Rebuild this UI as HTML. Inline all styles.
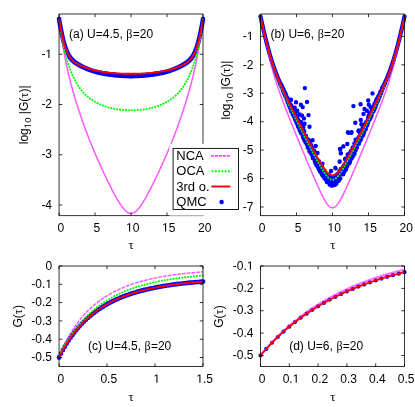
<!DOCTYPE html><html><head><meta charset="utf-8"><style>html,body{margin:0;padding:0;background:#fff}</style></head><body><svg width="415" height="407" viewBox="0 0 415 407" style="display:block;will-change:transform;font-family:'Liberation Sans',sans-serif;font-size:12px">
<rect width="415" height="407" fill="#fff"/>
<path d="M56.65 19.19a2.4 2.4 0 1 0 4.8 0a2.4 2.4 0 1 0 -4.8 0M56.94 20.85a2.4 2.4 0 1 0 4.8 0a2.4 2.4 0 1 0 -4.8 0M57.23 22.47a2.4 2.4 0 1 0 4.8 0a2.4 2.4 0 1 0 -4.8 0M57.51 24.07a2.4 2.4 0 1 0 4.8 0a2.4 2.4 0 1 0 -4.8 0M57.8 25.64a2.4 2.4 0 1 0 4.8 0a2.4 2.4 0 1 0 -4.8 0M58.09 27.18a2.4 2.4 0 1 0 4.8 0a2.4 2.4 0 1 0 -4.8 0M58.38 28.68a2.4 2.4 0 1 0 4.8 0a2.4 2.4 0 1 0 -4.8 0M58.67 30.15a2.4 2.4 0 1 0 4.8 0a2.4 2.4 0 1 0 -4.8 0M58.95 31.58a2.4 2.4 0 1 0 4.8 0a2.4 2.4 0 1 0 -4.8 0M59.24 32.98a2.4 2.4 0 1 0 4.8 0a2.4 2.4 0 1 0 -4.8 0M59.53 34.33a2.4 2.4 0 1 0 4.8 0a2.4 2.4 0 1 0 -4.8 0M59.82 35.66a2.4 2.4 0 1 0 4.8 0a2.4 2.4 0 1 0 -4.8 0M60.1 36.94a2.4 2.4 0 1 0 4.8 0a2.4 2.4 0 1 0 -4.8 0M60.39 38.18a2.4 2.4 0 1 0 4.8 0a2.4 2.4 0 1 0 -4.8 0M60.68 39.38a2.4 2.4 0 1 0 4.8 0a2.4 2.4 0 1 0 -4.8 0M60.97 40.55a2.4 2.4 0 1 0 4.8 0a2.4 2.4 0 1 0 -4.8 0M61.26 41.67a2.4 2.4 0 1 0 4.8 0a2.4 2.4 0 1 0 -4.8 0M61.54 42.75a2.4 2.4 0 1 0 4.8 0a2.4 2.4 0 1 0 -4.8 0M61.83 43.8a2.4 2.4 0 1 0 4.8 0a2.4 2.4 0 1 0 -4.8 0M62.12 44.8a2.4 2.4 0 1 0 4.8 0a2.4 2.4 0 1 0 -4.8 0M62.41 45.76a2.4 2.4 0 1 0 4.8 0a2.4 2.4 0 1 0 -4.8 0M62.7 46.69a2.4 2.4 0 1 0 4.8 0a2.4 2.4 0 1 0 -4.8 0M62.98 47.58a2.4 2.4 0 1 0 4.8 0a2.4 2.4 0 1 0 -4.8 0M63.27 48.43a2.4 2.4 0 1 0 4.8 0a2.4 2.4 0 1 0 -4.8 0M63.56 49.24a2.4 2.4 0 1 0 4.8 0a2.4 2.4 0 1 0 -4.8 0M63.85 50.01a2.4 2.4 0 1 0 4.8 0a2.4 2.4 0 1 0 -4.8 0M64.14 50.76a2.4 2.4 0 1 0 4.8 0a2.4 2.4 0 1 0 -4.8 0M64.42 51.46a2.4 2.4 0 1 0 4.8 0a2.4 2.4 0 1 0 -4.8 0M64.71 52.14a2.4 2.4 0 1 0 4.8 0a2.4 2.4 0 1 0 -4.8 0M65 52.79a2.4 2.4 0 1 0 4.8 0a2.4 2.4 0 1 0 -4.8 0M65.29 53.4a2.4 2.4 0 1 0 4.8 0a2.4 2.4 0 1 0 -4.8 0M65.57 53.99a2.4 2.4 0 1 0 4.8 0a2.4 2.4 0 1 0 -4.8 0M65.86 54.54a2.4 2.4 0 1 0 4.8 0a2.4 2.4 0 1 0 -4.8 0M66.15 55.08a2.4 2.4 0 1 0 4.8 0a2.4 2.4 0 1 0 -4.8 0M66.44 55.58a2.4 2.4 0 1 0 4.8 0a2.4 2.4 0 1 0 -4.8 0M66.73 56.07a2.4 2.4 0 1 0 4.8 0a2.4 2.4 0 1 0 -4.8 0M67.01 56.53a2.4 2.4 0 1 0 4.8 0a2.4 2.4 0 1 0 -4.8 0M67.3 56.96a2.4 2.4 0 1 0 4.8 0a2.4 2.4 0 1 0 -4.8 0M67.59 57.38a2.4 2.4 0 1 0 4.8 0a2.4 2.4 0 1 0 -4.8 0M67.88 57.78a2.4 2.4 0 1 0 4.8 0a2.4 2.4 0 1 0 -4.8 0M68.17 58.17a2.4 2.4 0 1 0 4.8 0a2.4 2.4 0 1 0 -4.8 0M68.45 58.53a2.4 2.4 0 1 0 4.8 0a2.4 2.4 0 1 0 -4.8 0M68.74 58.88a2.4 2.4 0 1 0 4.8 0a2.4 2.4 0 1 0 -4.8 0M69.03 59.21a2.4 2.4 0 1 0 4.8 0a2.4 2.4 0 1 0 -4.8 0M69.32 59.53a2.4 2.4 0 1 0 4.8 0a2.4 2.4 0 1 0 -4.8 0M69.61 59.84a2.4 2.4 0 1 0 4.8 0a2.4 2.4 0 1 0 -4.8 0M69.89 60.14a2.4 2.4 0 1 0 4.8 0a2.4 2.4 0 1 0 -4.8 0M70.18 60.42a2.4 2.4 0 1 0 4.8 0a2.4 2.4 0 1 0 -4.8 0M70.47 60.69a2.4 2.4 0 1 0 4.8 0a2.4 2.4 0 1 0 -4.8 0M70.76 60.95a2.4 2.4 0 1 0 4.8 0a2.4 2.4 0 1 0 -4.8 0M71.04 61.2a2.4 2.4 0 1 0 4.8 0a2.4 2.4 0 1 0 -4.8 0M71.33 61.45a2.4 2.4 0 1 0 4.8 0a2.4 2.4 0 1 0 -4.8 0M71.62 61.68a2.4 2.4 0 1 0 4.8 0a2.4 2.4 0 1 0 -4.8 0M71.91 61.91a2.4 2.4 0 1 0 4.8 0a2.4 2.4 0 1 0 -4.8 0M72.2 62.13a2.4 2.4 0 1 0 4.8 0a2.4 2.4 0 1 0 -4.8 0M72.48 62.34a2.4 2.4 0 1 0 4.8 0a2.4 2.4 0 1 0 -4.8 0M72.77 62.55a2.4 2.4 0 1 0 4.8 0a2.4 2.4 0 1 0 -4.8 0M73.06 62.75a2.4 2.4 0 1 0 4.8 0a2.4 2.4 0 1 0 -4.8 0M73.35 62.94a2.4 2.4 0 1 0 4.8 0a2.4 2.4 0 1 0 -4.8 0M73.64 63.13a2.4 2.4 0 1 0 4.8 0a2.4 2.4 0 1 0 -4.8 0M73.92 63.31a2.4 2.4 0 1 0 4.8 0a2.4 2.4 0 1 0 -4.8 0M74.21 63.49a2.4 2.4 0 1 0 4.8 0a2.4 2.4 0 1 0 -4.8 0M74.5 63.67a2.4 2.4 0 1 0 4.8 0a2.4 2.4 0 1 0 -4.8 0M74.79 63.85a2.4 2.4 0 1 0 4.8 0a2.4 2.4 0 1 0 -4.8 0M75.08 64.03a2.4 2.4 0 1 0 4.8 0a2.4 2.4 0 1 0 -4.8 0M75.36 64.22a2.4 2.4 0 1 0 4.8 0a2.4 2.4 0 1 0 -4.8 0M75.65 64.4a2.4 2.4 0 1 0 4.8 0a2.4 2.4 0 1 0 -4.8 0M75.94 64.57a2.4 2.4 0 1 0 4.8 0a2.4 2.4 0 1 0 -4.8 0M76.23 64.74a2.4 2.4 0 1 0 4.8 0a2.4 2.4 0 1 0 -4.8 0M76.52 64.91a2.4 2.4 0 1 0 4.8 0a2.4 2.4 0 1 0 -4.8 0M76.8 65.08a2.4 2.4 0 1 0 4.8 0a2.4 2.4 0 1 0 -4.8 0M77.09 65.24a2.4 2.4 0 1 0 4.8 0a2.4 2.4 0 1 0 -4.8 0M77.38 65.41a2.4 2.4 0 1 0 4.8 0a2.4 2.4 0 1 0 -4.8 0M77.67 65.56a2.4 2.4 0 1 0 4.8 0a2.4 2.4 0 1 0 -4.8 0M77.95 65.72a2.4 2.4 0 1 0 4.8 0a2.4 2.4 0 1 0 -4.8 0M78.24 65.88a2.4 2.4 0 1 0 4.8 0a2.4 2.4 0 1 0 -4.8 0M78.53 66.03a2.4 2.4 0 1 0 4.8 0a2.4 2.4 0 1 0 -4.8 0M78.82 66.18a2.4 2.4 0 1 0 4.8 0a2.4 2.4 0 1 0 -4.8 0M79.11 66.32a2.4 2.4 0 1 0 4.8 0a2.4 2.4 0 1 0 -4.8 0M79.39 66.47a2.4 2.4 0 1 0 4.8 0a2.4 2.4 0 1 0 -4.8 0M79.68 66.61a2.4 2.4 0 1 0 4.8 0a2.4 2.4 0 1 0 -4.8 0M79.97 66.76a2.4 2.4 0 1 0 4.8 0a2.4 2.4 0 1 0 -4.8 0M80.26 66.9a2.4 2.4 0 1 0 4.8 0a2.4 2.4 0 1 0 -4.8 0M80.55 67.03a2.4 2.4 0 1 0 4.8 0a2.4 2.4 0 1 0 -4.8 0M80.83 67.17a2.4 2.4 0 1 0 4.8 0a2.4 2.4 0 1 0 -4.8 0M81.12 67.3a2.4 2.4 0 1 0 4.8 0a2.4 2.4 0 1 0 -4.8 0M81.41 67.44a2.4 2.4 0 1 0 4.8 0a2.4 2.4 0 1 0 -4.8 0M81.7 67.57a2.4 2.4 0 1 0 4.8 0a2.4 2.4 0 1 0 -4.8 0M81.99 67.7a2.4 2.4 0 1 0 4.8 0a2.4 2.4 0 1 0 -4.8 0M82.27 67.83a2.4 2.4 0 1 0 4.8 0a2.4 2.4 0 1 0 -4.8 0M82.56 67.96a2.4 2.4 0 1 0 4.8 0a2.4 2.4 0 1 0 -4.8 0M82.85 68.08a2.4 2.4 0 1 0 4.8 0a2.4 2.4 0 1 0 -4.8 0M83.14 68.21a2.4 2.4 0 1 0 4.8 0a2.4 2.4 0 1 0 -4.8 0M83.42 68.33a2.4 2.4 0 1 0 4.8 0a2.4 2.4 0 1 0 -4.8 0M83.71 68.45a2.4 2.4 0 1 0 4.8 0a2.4 2.4 0 1 0 -4.8 0M84 68.57a2.4 2.4 0 1 0 4.8 0a2.4 2.4 0 1 0 -4.8 0M84.29 68.69a2.4 2.4 0 1 0 4.8 0a2.4 2.4 0 1 0 -4.8 0M84.58 68.81a2.4 2.4 0 1 0 4.8 0a2.4 2.4 0 1 0 -4.8 0M84.86 68.92a2.4 2.4 0 1 0 4.8 0a2.4 2.4 0 1 0 -4.8 0M85.15 69.04a2.4 2.4 0 1 0 4.8 0a2.4 2.4 0 1 0 -4.8 0M85.44 69.15a2.4 2.4 0 1 0 4.8 0a2.4 2.4 0 1 0 -4.8 0M85.73 69.27a2.4 2.4 0 1 0 4.8 0a2.4 2.4 0 1 0 -4.8 0M86.02 69.38a2.4 2.4 0 1 0 4.8 0a2.4 2.4 0 1 0 -4.8 0M86.3 69.49a2.4 2.4 0 1 0 4.8 0a2.4 2.4 0 1 0 -4.8 0M86.59 69.6a2.4 2.4 0 1 0 4.8 0a2.4 2.4 0 1 0 -4.8 0M86.88 69.71a2.4 2.4 0 1 0 4.8 0a2.4 2.4 0 1 0 -4.8 0M87.17 69.81a2.4 2.4 0 1 0 4.8 0a2.4 2.4 0 1 0 -4.8 0M87.46 69.92a2.4 2.4 0 1 0 4.8 0a2.4 2.4 0 1 0 -4.8 0M87.74 70.02a2.4 2.4 0 1 0 4.8 0a2.4 2.4 0 1 0 -4.8 0M88.03 70.13a2.4 2.4 0 1 0 4.8 0a2.4 2.4 0 1 0 -4.8 0M88.32 70.23a2.4 2.4 0 1 0 4.8 0a2.4 2.4 0 1 0 -4.8 0M88.61 70.33a2.4 2.4 0 1 0 4.8 0a2.4 2.4 0 1 0 -4.8 0M88.89 70.43a2.4 2.4 0 1 0 4.8 0a2.4 2.4 0 1 0 -4.8 0M89.18 70.53a2.4 2.4 0 1 0 4.8 0a2.4 2.4 0 1 0 -4.8 0M89.47 70.63a2.4 2.4 0 1 0 4.8 0a2.4 2.4 0 1 0 -4.8 0M89.76 70.73a2.4 2.4 0 1 0 4.8 0a2.4 2.4 0 1 0 -4.8 0M90.05 70.83a2.4 2.4 0 1 0 4.8 0a2.4 2.4 0 1 0 -4.8 0M90.33 70.92a2.4 2.4 0 1 0 4.8 0a2.4 2.4 0 1 0 -4.8 0M90.62 71.02a2.4 2.4 0 1 0 4.8 0a2.4 2.4 0 1 0 -4.8 0M90.91 71.11a2.4 2.4 0 1 0 4.8 0a2.4 2.4 0 1 0 -4.8 0M91.2 71.2a2.4 2.4 0 1 0 4.8 0a2.4 2.4 0 1 0 -4.8 0M91.49 71.3a2.4 2.4 0 1 0 4.8 0a2.4 2.4 0 1 0 -4.8 0M91.77 71.39a2.4 2.4 0 1 0 4.8 0a2.4 2.4 0 1 0 -4.8 0M92.06 71.47a2.4 2.4 0 1 0 4.8 0a2.4 2.4 0 1 0 -4.8 0M92.35 71.55a2.4 2.4 0 1 0 4.8 0a2.4 2.4 0 1 0 -4.8 0M92.64 71.63a2.4 2.4 0 1 0 4.8 0a2.4 2.4 0 1 0 -4.8 0M92.93 71.7a2.4 2.4 0 1 0 4.8 0a2.4 2.4 0 1 0 -4.8 0M93.21 71.78a2.4 2.4 0 1 0 4.8 0a2.4 2.4 0 1 0 -4.8 0M93.5 71.85a2.4 2.4 0 1 0 4.8 0a2.4 2.4 0 1 0 -4.8 0M93.79 71.93a2.4 2.4 0 1 0 4.8 0a2.4 2.4 0 1 0 -4.8 0M94.08 72a2.4 2.4 0 1 0 4.8 0a2.4 2.4 0 1 0 -4.8 0M94.36 72.07a2.4 2.4 0 1 0 4.8 0a2.4 2.4 0 1 0 -4.8 0M94.65 72.14a2.4 2.4 0 1 0 4.8 0a2.4 2.4 0 1 0 -4.8 0M94.94 72.21a2.4 2.4 0 1 0 4.8 0a2.4 2.4 0 1 0 -4.8 0M95.23 72.28a2.4 2.4 0 1 0 4.8 0a2.4 2.4 0 1 0 -4.8 0M95.52 72.35a2.4 2.4 0 1 0 4.8 0a2.4 2.4 0 1 0 -4.8 0M95.8 72.42a2.4 2.4 0 1 0 4.8 0a2.4 2.4 0 1 0 -4.8 0M96.09 72.49a2.4 2.4 0 1 0 4.8 0a2.4 2.4 0 1 0 -4.8 0M96.38 72.55a2.4 2.4 0 1 0 4.8 0a2.4 2.4 0 1 0 -4.8 0M96.67 72.62a2.4 2.4 0 1 0 4.8 0a2.4 2.4 0 1 0 -4.8 0M96.96 72.68a2.4 2.4 0 1 0 4.8 0a2.4 2.4 0 1 0 -4.8 0M97.24 72.75a2.4 2.4 0 1 0 4.8 0a2.4 2.4 0 1 0 -4.8 0M97.53 72.81a2.4 2.4 0 1 0 4.8 0a2.4 2.4 0 1 0 -4.8 0M97.82 72.87a2.4 2.4 0 1 0 4.8 0a2.4 2.4 0 1 0 -4.8 0M98.11 72.93a2.4 2.4 0 1 0 4.8 0a2.4 2.4 0 1 0 -4.8 0M98.4 72.99a2.4 2.4 0 1 0 4.8 0a2.4 2.4 0 1 0 -4.8 0M98.68 73.05a2.4 2.4 0 1 0 4.8 0a2.4 2.4 0 1 0 -4.8 0M98.97 73.11a2.4 2.4 0 1 0 4.8 0a2.4 2.4 0 1 0 -4.8 0M99.26 73.17a2.4 2.4 0 1 0 4.8 0a2.4 2.4 0 1 0 -4.8 0M99.55 73.22a2.4 2.4 0 1 0 4.8 0a2.4 2.4 0 1 0 -4.8 0M99.83 73.28a2.4 2.4 0 1 0 4.8 0a2.4 2.4 0 1 0 -4.8 0M100.12 73.33a2.4 2.4 0 1 0 4.8 0a2.4 2.4 0 1 0 -4.8 0M100.41 73.39a2.4 2.4 0 1 0 4.8 0a2.4 2.4 0 1 0 -4.8 0M100.7 73.44a2.4 2.4 0 1 0 4.8 0a2.4 2.4 0 1 0 -4.8 0M100.99 73.49a2.4 2.4 0 1 0 4.8 0a2.4 2.4 0 1 0 -4.8 0M101.27 73.54a2.4 2.4 0 1 0 4.8 0a2.4 2.4 0 1 0 -4.8 0M101.56 73.6a2.4 2.4 0 1 0 4.8 0a2.4 2.4 0 1 0 -4.8 0M101.85 73.65a2.4 2.4 0 1 0 4.8 0a2.4 2.4 0 1 0 -4.8 0M102.14 73.7a2.4 2.4 0 1 0 4.8 0a2.4 2.4 0 1 0 -4.8 0M102.43 73.75a2.4 2.4 0 1 0 4.8 0a2.4 2.4 0 1 0 -4.8 0M102.71 73.8a2.4 2.4 0 1 0 4.8 0a2.4 2.4 0 1 0 -4.8 0M103 73.84a2.4 2.4 0 1 0 4.8 0a2.4 2.4 0 1 0 -4.8 0M103.29 73.89a2.4 2.4 0 1 0 4.8 0a2.4 2.4 0 1 0 -4.8 0M103.58 73.94a2.4 2.4 0 1 0 4.8 0a2.4 2.4 0 1 0 -4.8 0M103.87 73.98a2.4 2.4 0 1 0 4.8 0a2.4 2.4 0 1 0 -4.8 0M104.15 74.03a2.4 2.4 0 1 0 4.8 0a2.4 2.4 0 1 0 -4.8 0M104.44 74.07a2.4 2.4 0 1 0 4.8 0a2.4 2.4 0 1 0 -4.8 0M104.73 74.12a2.4 2.4 0 1 0 4.8 0a2.4 2.4 0 1 0 -4.8 0M105.02 74.16a2.4 2.4 0 1 0 4.8 0a2.4 2.4 0 1 0 -4.8 0M105.31 74.21a2.4 2.4 0 1 0 4.8 0a2.4 2.4 0 1 0 -4.8 0M105.59 74.25a2.4 2.4 0 1 0 4.8 0a2.4 2.4 0 1 0 -4.8 0M105.88 74.29a2.4 2.4 0 1 0 4.8 0a2.4 2.4 0 1 0 -4.8 0M106.17 74.33a2.4 2.4 0 1 0 4.8 0a2.4 2.4 0 1 0 -4.8 0M106.46 74.37a2.4 2.4 0 1 0 4.8 0a2.4 2.4 0 1 0 -4.8 0M106.74 74.41a2.4 2.4 0 1 0 4.8 0a2.4 2.4 0 1 0 -4.8 0M107.03 74.45a2.4 2.4 0 1 0 4.8 0a2.4 2.4 0 1 0 -4.8 0M107.32 74.49a2.4 2.4 0 1 0 4.8 0a2.4 2.4 0 1 0 -4.8 0M107.61 74.53a2.4 2.4 0 1 0 4.8 0a2.4 2.4 0 1 0 -4.8 0M107.9 74.57a2.4 2.4 0 1 0 4.8 0a2.4 2.4 0 1 0 -4.8 0M108.18 74.61a2.4 2.4 0 1 0 4.8 0a2.4 2.4 0 1 0 -4.8 0M108.47 74.65a2.4 2.4 0 1 0 4.8 0a2.4 2.4 0 1 0 -4.8 0M108.76 74.68a2.4 2.4 0 1 0 4.8 0a2.4 2.4 0 1 0 -4.8 0M109.05 74.72a2.4 2.4 0 1 0 4.8 0a2.4 2.4 0 1 0 -4.8 0M109.34 74.75a2.4 2.4 0 1 0 4.8 0a2.4 2.4 0 1 0 -4.8 0M109.62 74.79a2.4 2.4 0 1 0 4.8 0a2.4 2.4 0 1 0 -4.8 0M109.91 74.82a2.4 2.4 0 1 0 4.8 0a2.4 2.4 0 1 0 -4.8 0M110.2 74.86a2.4 2.4 0 1 0 4.8 0a2.4 2.4 0 1 0 -4.8 0M110.49 74.89a2.4 2.4 0 1 0 4.8 0a2.4 2.4 0 1 0 -4.8 0M110.78 74.92a2.4 2.4 0 1 0 4.8 0a2.4 2.4 0 1 0 -4.8 0M111.06 74.96a2.4 2.4 0 1 0 4.8 0a2.4 2.4 0 1 0 -4.8 0M111.35 74.99a2.4 2.4 0 1 0 4.8 0a2.4 2.4 0 1 0 -4.8 0M111.64 75.02a2.4 2.4 0 1 0 4.8 0a2.4 2.4 0 1 0 -4.8 0M111.93 75.05a2.4 2.4 0 1 0 4.8 0a2.4 2.4 0 1 0 -4.8 0M112.21 75.08a2.4 2.4 0 1 0 4.8 0a2.4 2.4 0 1 0 -4.8 0M112.5 75.11a2.4 2.4 0 1 0 4.8 0a2.4 2.4 0 1 0 -4.8 0M112.79 75.14a2.4 2.4 0 1 0 4.8 0a2.4 2.4 0 1 0 -4.8 0M113.08 75.17a2.4 2.4 0 1 0 4.8 0a2.4 2.4 0 1 0 -4.8 0M113.37 75.2a2.4 2.4 0 1 0 4.8 0a2.4 2.4 0 1 0 -4.8 0M113.65 75.23a2.4 2.4 0 1 0 4.8 0a2.4 2.4 0 1 0 -4.8 0M113.94 75.25a2.4 2.4 0 1 0 4.8 0a2.4 2.4 0 1 0 -4.8 0M114.23 75.28a2.4 2.4 0 1 0 4.8 0a2.4 2.4 0 1 0 -4.8 0M114.52 75.3a2.4 2.4 0 1 0 4.8 0a2.4 2.4 0 1 0 -4.8 0M114.81 75.33a2.4 2.4 0 1 0 4.8 0a2.4 2.4 0 1 0 -4.8 0M115.09 75.35a2.4 2.4 0 1 0 4.8 0a2.4 2.4 0 1 0 -4.8 0M115.38 75.38a2.4 2.4 0 1 0 4.8 0a2.4 2.4 0 1 0 -4.8 0M115.67 75.4a2.4 2.4 0 1 0 4.8 0a2.4 2.4 0 1 0 -4.8 0M115.96 75.42a2.4 2.4 0 1 0 4.8 0a2.4 2.4 0 1 0 -4.8 0M116.25 75.44a2.4 2.4 0 1 0 4.8 0a2.4 2.4 0 1 0 -4.8 0M116.53 75.46a2.4 2.4 0 1 0 4.8 0a2.4 2.4 0 1 0 -4.8 0M116.82 75.49a2.4 2.4 0 1 0 4.8 0a2.4 2.4 0 1 0 -4.8 0M117.11 75.51a2.4 2.4 0 1 0 4.8 0a2.4 2.4 0 1 0 -4.8 0M117.4 75.53a2.4 2.4 0 1 0 4.8 0a2.4 2.4 0 1 0 -4.8 0M117.68 75.55a2.4 2.4 0 1 0 4.8 0a2.4 2.4 0 1 0 -4.8 0M117.97 75.57a2.4 2.4 0 1 0 4.8 0a2.4 2.4 0 1 0 -4.8 0M118.26 75.59a2.4 2.4 0 1 0 4.8 0a2.4 2.4 0 1 0 -4.8 0M118.55 75.6a2.4 2.4 0 1 0 4.8 0a2.4 2.4 0 1 0 -4.8 0M118.84 75.62a2.4 2.4 0 1 0 4.8 0a2.4 2.4 0 1 0 -4.8 0M119.12 75.64a2.4 2.4 0 1 0 4.8 0a2.4 2.4 0 1 0 -4.8 0M119.41 75.66a2.4 2.4 0 1 0 4.8 0a2.4 2.4 0 1 0 -4.8 0M119.7 75.68a2.4 2.4 0 1 0 4.8 0a2.4 2.4 0 1 0 -4.8 0M119.99 75.69a2.4 2.4 0 1 0 4.8 0a2.4 2.4 0 1 0 -4.8 0M120.28 75.71a2.4 2.4 0 1 0 4.8 0a2.4 2.4 0 1 0 -4.8 0M120.56 75.72a2.4 2.4 0 1 0 4.8 0a2.4 2.4 0 1 0 -4.8 0M120.85 75.74a2.4 2.4 0 1 0 4.8 0a2.4 2.4 0 1 0 -4.8 0M121.14 75.76a2.4 2.4 0 1 0 4.8 0a2.4 2.4 0 1 0 -4.8 0M121.43 75.77a2.4 2.4 0 1 0 4.8 0a2.4 2.4 0 1 0 -4.8 0M121.72 75.79a2.4 2.4 0 1 0 4.8 0a2.4 2.4 0 1 0 -4.8 0M122 75.8a2.4 2.4 0 1 0 4.8 0a2.4 2.4 0 1 0 -4.8 0M122.29 75.81a2.4 2.4 0 1 0 4.8 0a2.4 2.4 0 1 0 -4.8 0M122.58 75.83a2.4 2.4 0 1 0 4.8 0a2.4 2.4 0 1 0 -4.8 0M122.87 75.84a2.4 2.4 0 1 0 4.8 0a2.4 2.4 0 1 0 -4.8 0M123.15 75.85a2.4 2.4 0 1 0 4.8 0a2.4 2.4 0 1 0 -4.8 0M123.44 75.86a2.4 2.4 0 1 0 4.8 0a2.4 2.4 0 1 0 -4.8 0M123.73 75.88a2.4 2.4 0 1 0 4.8 0a2.4 2.4 0 1 0 -4.8 0M124.02 75.89a2.4 2.4 0 1 0 4.8 0a2.4 2.4 0 1 0 -4.8 0M124.31 75.9a2.4 2.4 0 1 0 4.8 0a2.4 2.4 0 1 0 -4.8 0M124.59 75.91a2.4 2.4 0 1 0 4.8 0a2.4 2.4 0 1 0 -4.8 0M124.88 75.92a2.4 2.4 0 1 0 4.8 0a2.4 2.4 0 1 0 -4.8 0M125.17 75.93a2.4 2.4 0 1 0 4.8 0a2.4 2.4 0 1 0 -4.8 0M125.46 75.94a2.4 2.4 0 1 0 4.8 0a2.4 2.4 0 1 0 -4.8 0M125.75 75.95a2.4 2.4 0 1 0 4.8 0a2.4 2.4 0 1 0 -4.8 0M126.03 75.96a2.4 2.4 0 1 0 4.8 0a2.4 2.4 0 1 0 -4.8 0M126.32 75.97a2.4 2.4 0 1 0 4.8 0a2.4 2.4 0 1 0 -4.8 0M126.61 75.98a2.4 2.4 0 1 0 4.8 0a2.4 2.4 0 1 0 -4.8 0M126.9 75.98a2.4 2.4 0 1 0 4.8 0a2.4 2.4 0 1 0 -4.8 0M127.19 75.99a2.4 2.4 0 1 0 4.8 0a2.4 2.4 0 1 0 -4.8 0M127.47 76a2.4 2.4 0 1 0 4.8 0a2.4 2.4 0 1 0 -4.8 0M127.76 76.01a2.4 2.4 0 1 0 4.8 0a2.4 2.4 0 1 0 -4.8 0M128.05 76.01a2.4 2.4 0 1 0 4.8 0a2.4 2.4 0 1 0 -4.8 0M128.34 76.02a2.4 2.4 0 1 0 4.8 0a2.4 2.4 0 1 0 -4.8 0M128.62 76.03a2.4 2.4 0 1 0 4.8 0a2.4 2.4 0 1 0 -4.8 0M128.91 76.02a2.4 2.4 0 1 0 4.8 0a2.4 2.4 0 1 0 -4.8 0M129.2 76.01a2.4 2.4 0 1 0 4.8 0a2.4 2.4 0 1 0 -4.8 0M129.49 76.01a2.4 2.4 0 1 0 4.8 0a2.4 2.4 0 1 0 -4.8 0M129.78 76a2.4 2.4 0 1 0 4.8 0a2.4 2.4 0 1 0 -4.8 0M130.06 75.99a2.4 2.4 0 1 0 4.8 0a2.4 2.4 0 1 0 -4.8 0M130.35 75.98a2.4 2.4 0 1 0 4.8 0a2.4 2.4 0 1 0 -4.8 0M130.64 75.98a2.4 2.4 0 1 0 4.8 0a2.4 2.4 0 1 0 -4.8 0M130.93 75.97a2.4 2.4 0 1 0 4.8 0a2.4 2.4 0 1 0 -4.8 0M131.22 75.96a2.4 2.4 0 1 0 4.8 0a2.4 2.4 0 1 0 -4.8 0M131.5 75.95a2.4 2.4 0 1 0 4.8 0a2.4 2.4 0 1 0 -4.8 0M131.79 75.94a2.4 2.4 0 1 0 4.8 0a2.4 2.4 0 1 0 -4.8 0M132.08 75.93a2.4 2.4 0 1 0 4.8 0a2.4 2.4 0 1 0 -4.8 0M132.37 75.92a2.4 2.4 0 1 0 4.8 0a2.4 2.4 0 1 0 -4.8 0M132.66 75.91a2.4 2.4 0 1 0 4.8 0a2.4 2.4 0 1 0 -4.8 0M132.94 75.9a2.4 2.4 0 1 0 4.8 0a2.4 2.4 0 1 0 -4.8 0M133.23 75.89a2.4 2.4 0 1 0 4.8 0a2.4 2.4 0 1 0 -4.8 0M133.52 75.88a2.4 2.4 0 1 0 4.8 0a2.4 2.4 0 1 0 -4.8 0M133.81 75.86a2.4 2.4 0 1 0 4.8 0a2.4 2.4 0 1 0 -4.8 0M134.1 75.85a2.4 2.4 0 1 0 4.8 0a2.4 2.4 0 1 0 -4.8 0M134.38 75.84a2.4 2.4 0 1 0 4.8 0a2.4 2.4 0 1 0 -4.8 0M134.67 75.83a2.4 2.4 0 1 0 4.8 0a2.4 2.4 0 1 0 -4.8 0M134.96 75.81a2.4 2.4 0 1 0 4.8 0a2.4 2.4 0 1 0 -4.8 0M135.25 75.8a2.4 2.4 0 1 0 4.8 0a2.4 2.4 0 1 0 -4.8 0M135.53 75.79a2.4 2.4 0 1 0 4.8 0a2.4 2.4 0 1 0 -4.8 0M135.82 75.77a2.4 2.4 0 1 0 4.8 0a2.4 2.4 0 1 0 -4.8 0M136.11 75.76a2.4 2.4 0 1 0 4.8 0a2.4 2.4 0 1 0 -4.8 0M136.4 75.74a2.4 2.4 0 1 0 4.8 0a2.4 2.4 0 1 0 -4.8 0M136.69 75.72a2.4 2.4 0 1 0 4.8 0a2.4 2.4 0 1 0 -4.8 0M136.97 75.71a2.4 2.4 0 1 0 4.8 0a2.4 2.4 0 1 0 -4.8 0M137.26 75.69a2.4 2.4 0 1 0 4.8 0a2.4 2.4 0 1 0 -4.8 0M137.55 75.68a2.4 2.4 0 1 0 4.8 0a2.4 2.4 0 1 0 -4.8 0M137.84 75.66a2.4 2.4 0 1 0 4.8 0a2.4 2.4 0 1 0 -4.8 0M138.13 75.64a2.4 2.4 0 1 0 4.8 0a2.4 2.4 0 1 0 -4.8 0M138.41 75.62a2.4 2.4 0 1 0 4.8 0a2.4 2.4 0 1 0 -4.8 0M138.7 75.6a2.4 2.4 0 1 0 4.8 0a2.4 2.4 0 1 0 -4.8 0M138.99 75.59a2.4 2.4 0 1 0 4.8 0a2.4 2.4 0 1 0 -4.8 0M139.28 75.57a2.4 2.4 0 1 0 4.8 0a2.4 2.4 0 1 0 -4.8 0M139.57 75.55a2.4 2.4 0 1 0 4.8 0a2.4 2.4 0 1 0 -4.8 0M139.85 75.53a2.4 2.4 0 1 0 4.8 0a2.4 2.4 0 1 0 -4.8 0M140.14 75.51a2.4 2.4 0 1 0 4.8 0a2.4 2.4 0 1 0 -4.8 0M140.43 75.49a2.4 2.4 0 1 0 4.8 0a2.4 2.4 0 1 0 -4.8 0M140.72 75.46a2.4 2.4 0 1 0 4.8 0a2.4 2.4 0 1 0 -4.8 0M141 75.44a2.4 2.4 0 1 0 4.8 0a2.4 2.4 0 1 0 -4.8 0M141.29 75.42a2.4 2.4 0 1 0 4.8 0a2.4 2.4 0 1 0 -4.8 0M141.58 75.4a2.4 2.4 0 1 0 4.8 0a2.4 2.4 0 1 0 -4.8 0M141.87 75.38a2.4 2.4 0 1 0 4.8 0a2.4 2.4 0 1 0 -4.8 0M142.16 75.35a2.4 2.4 0 1 0 4.8 0a2.4 2.4 0 1 0 -4.8 0M142.44 75.33a2.4 2.4 0 1 0 4.8 0a2.4 2.4 0 1 0 -4.8 0M142.73 75.3a2.4 2.4 0 1 0 4.8 0a2.4 2.4 0 1 0 -4.8 0M143.02 75.28a2.4 2.4 0 1 0 4.8 0a2.4 2.4 0 1 0 -4.8 0M143.31 75.25a2.4 2.4 0 1 0 4.8 0a2.4 2.4 0 1 0 -4.8 0M143.6 75.23a2.4 2.4 0 1 0 4.8 0a2.4 2.4 0 1 0 -4.8 0M143.88 75.2a2.4 2.4 0 1 0 4.8 0a2.4 2.4 0 1 0 -4.8 0M144.17 75.17a2.4 2.4 0 1 0 4.8 0a2.4 2.4 0 1 0 -4.8 0M144.46 75.14a2.4 2.4 0 1 0 4.8 0a2.4 2.4 0 1 0 -4.8 0M144.75 75.11a2.4 2.4 0 1 0 4.8 0a2.4 2.4 0 1 0 -4.8 0M145.04 75.08a2.4 2.4 0 1 0 4.8 0a2.4 2.4 0 1 0 -4.8 0M145.32 75.05a2.4 2.4 0 1 0 4.8 0a2.4 2.4 0 1 0 -4.8 0M145.61 75.02a2.4 2.4 0 1 0 4.8 0a2.4 2.4 0 1 0 -4.8 0M145.9 74.99a2.4 2.4 0 1 0 4.8 0a2.4 2.4 0 1 0 -4.8 0M146.19 74.96a2.4 2.4 0 1 0 4.8 0a2.4 2.4 0 1 0 -4.8 0M146.47 74.92a2.4 2.4 0 1 0 4.8 0a2.4 2.4 0 1 0 -4.8 0M146.76 74.89a2.4 2.4 0 1 0 4.8 0a2.4 2.4 0 1 0 -4.8 0M147.05 74.86a2.4 2.4 0 1 0 4.8 0a2.4 2.4 0 1 0 -4.8 0M147.34 74.82a2.4 2.4 0 1 0 4.8 0a2.4 2.4 0 1 0 -4.8 0M147.63 74.79a2.4 2.4 0 1 0 4.8 0a2.4 2.4 0 1 0 -4.8 0M147.91 74.75a2.4 2.4 0 1 0 4.8 0a2.4 2.4 0 1 0 -4.8 0M148.2 74.72a2.4 2.4 0 1 0 4.8 0a2.4 2.4 0 1 0 -4.8 0M148.49 74.68a2.4 2.4 0 1 0 4.8 0a2.4 2.4 0 1 0 -4.8 0M148.78 74.65a2.4 2.4 0 1 0 4.8 0a2.4 2.4 0 1 0 -4.8 0M149.07 74.61a2.4 2.4 0 1 0 4.8 0a2.4 2.4 0 1 0 -4.8 0M149.35 74.57a2.4 2.4 0 1 0 4.8 0a2.4 2.4 0 1 0 -4.8 0M149.64 74.53a2.4 2.4 0 1 0 4.8 0a2.4 2.4 0 1 0 -4.8 0M149.93 74.49a2.4 2.4 0 1 0 4.8 0a2.4 2.4 0 1 0 -4.8 0M150.22 74.45a2.4 2.4 0 1 0 4.8 0a2.4 2.4 0 1 0 -4.8 0M150.51 74.41a2.4 2.4 0 1 0 4.8 0a2.4 2.4 0 1 0 -4.8 0M150.79 74.37a2.4 2.4 0 1 0 4.8 0a2.4 2.4 0 1 0 -4.8 0M151.08 74.33a2.4 2.4 0 1 0 4.8 0a2.4 2.4 0 1 0 -4.8 0M151.37 74.29a2.4 2.4 0 1 0 4.8 0a2.4 2.4 0 1 0 -4.8 0M151.66 74.25a2.4 2.4 0 1 0 4.8 0a2.4 2.4 0 1 0 -4.8 0M151.94 74.21a2.4 2.4 0 1 0 4.8 0a2.4 2.4 0 1 0 -4.8 0M152.23 74.16a2.4 2.4 0 1 0 4.8 0a2.4 2.4 0 1 0 -4.8 0M152.52 74.12a2.4 2.4 0 1 0 4.8 0a2.4 2.4 0 1 0 -4.8 0M152.81 74.07a2.4 2.4 0 1 0 4.8 0a2.4 2.4 0 1 0 -4.8 0M153.1 74.03a2.4 2.4 0 1 0 4.8 0a2.4 2.4 0 1 0 -4.8 0M153.38 73.98a2.4 2.4 0 1 0 4.8 0a2.4 2.4 0 1 0 -4.8 0M153.67 73.94a2.4 2.4 0 1 0 4.8 0a2.4 2.4 0 1 0 -4.8 0M153.96 73.89a2.4 2.4 0 1 0 4.8 0a2.4 2.4 0 1 0 -4.8 0M154.25 73.84a2.4 2.4 0 1 0 4.8 0a2.4 2.4 0 1 0 -4.8 0M154.54 73.8a2.4 2.4 0 1 0 4.8 0a2.4 2.4 0 1 0 -4.8 0M154.82 73.75a2.4 2.4 0 1 0 4.8 0a2.4 2.4 0 1 0 -4.8 0M155.11 73.7a2.4 2.4 0 1 0 4.8 0a2.4 2.4 0 1 0 -4.8 0M155.4 73.65a2.4 2.4 0 1 0 4.8 0a2.4 2.4 0 1 0 -4.8 0M155.69 73.6a2.4 2.4 0 1 0 4.8 0a2.4 2.4 0 1 0 -4.8 0M155.98 73.54a2.4 2.4 0 1 0 4.8 0a2.4 2.4 0 1 0 -4.8 0M156.26 73.49a2.4 2.4 0 1 0 4.8 0a2.4 2.4 0 1 0 -4.8 0M156.55 73.44a2.4 2.4 0 1 0 4.8 0a2.4 2.4 0 1 0 -4.8 0M156.84 73.39a2.4 2.4 0 1 0 4.8 0a2.4 2.4 0 1 0 -4.8 0M157.13 73.33a2.4 2.4 0 1 0 4.8 0a2.4 2.4 0 1 0 -4.8 0M157.41 73.28a2.4 2.4 0 1 0 4.8 0a2.4 2.4 0 1 0 -4.8 0M157.7 73.22a2.4 2.4 0 1 0 4.8 0a2.4 2.4 0 1 0 -4.8 0M157.99 73.17a2.4 2.4 0 1 0 4.8 0a2.4 2.4 0 1 0 -4.8 0M158.28 73.11a2.4 2.4 0 1 0 4.8 0a2.4 2.4 0 1 0 -4.8 0M158.57 73.05a2.4 2.4 0 1 0 4.8 0a2.4 2.4 0 1 0 -4.8 0M158.85 72.99a2.4 2.4 0 1 0 4.8 0a2.4 2.4 0 1 0 -4.8 0M159.14 72.93a2.4 2.4 0 1 0 4.8 0a2.4 2.4 0 1 0 -4.8 0M159.43 72.87a2.4 2.4 0 1 0 4.8 0a2.4 2.4 0 1 0 -4.8 0M159.72 72.81a2.4 2.4 0 1 0 4.8 0a2.4 2.4 0 1 0 -4.8 0M160.01 72.75a2.4 2.4 0 1 0 4.8 0a2.4 2.4 0 1 0 -4.8 0M160.29 72.68a2.4 2.4 0 1 0 4.8 0a2.4 2.4 0 1 0 -4.8 0M160.58 72.62a2.4 2.4 0 1 0 4.8 0a2.4 2.4 0 1 0 -4.8 0M160.87 72.55a2.4 2.4 0 1 0 4.8 0a2.4 2.4 0 1 0 -4.8 0M161.16 72.49a2.4 2.4 0 1 0 4.8 0a2.4 2.4 0 1 0 -4.8 0M161.45 72.42a2.4 2.4 0 1 0 4.8 0a2.4 2.4 0 1 0 -4.8 0M161.73 72.35a2.4 2.4 0 1 0 4.8 0a2.4 2.4 0 1 0 -4.8 0M162.02 72.28a2.4 2.4 0 1 0 4.8 0a2.4 2.4 0 1 0 -4.8 0M162.31 72.21a2.4 2.4 0 1 0 4.8 0a2.4 2.4 0 1 0 -4.8 0M162.6 72.14a2.4 2.4 0 1 0 4.8 0a2.4 2.4 0 1 0 -4.8 0M162.89 72.07a2.4 2.4 0 1 0 4.8 0a2.4 2.4 0 1 0 -4.8 0M163.17 72a2.4 2.4 0 1 0 4.8 0a2.4 2.4 0 1 0 -4.8 0M163.46 71.93a2.4 2.4 0 1 0 4.8 0a2.4 2.4 0 1 0 -4.8 0M163.75 71.85a2.4 2.4 0 1 0 4.8 0a2.4 2.4 0 1 0 -4.8 0M164.04 71.78a2.4 2.4 0 1 0 4.8 0a2.4 2.4 0 1 0 -4.8 0M164.32 71.7a2.4 2.4 0 1 0 4.8 0a2.4 2.4 0 1 0 -4.8 0M164.61 71.63a2.4 2.4 0 1 0 4.8 0a2.4 2.4 0 1 0 -4.8 0M164.9 71.55a2.4 2.4 0 1 0 4.8 0a2.4 2.4 0 1 0 -4.8 0M165.19 71.47a2.4 2.4 0 1 0 4.8 0a2.4 2.4 0 1 0 -4.8 0M165.48 71.39a2.4 2.4 0 1 0 4.8 0a2.4 2.4 0 1 0 -4.8 0M165.76 71.3a2.4 2.4 0 1 0 4.8 0a2.4 2.4 0 1 0 -4.8 0M166.05 71.2a2.4 2.4 0 1 0 4.8 0a2.4 2.4 0 1 0 -4.8 0M166.34 71.11a2.4 2.4 0 1 0 4.8 0a2.4 2.4 0 1 0 -4.8 0M166.63 71.02a2.4 2.4 0 1 0 4.8 0a2.4 2.4 0 1 0 -4.8 0M166.92 70.92a2.4 2.4 0 1 0 4.8 0a2.4 2.4 0 1 0 -4.8 0M167.2 70.83a2.4 2.4 0 1 0 4.8 0a2.4 2.4 0 1 0 -4.8 0M167.49 70.73a2.4 2.4 0 1 0 4.8 0a2.4 2.4 0 1 0 -4.8 0M167.78 70.63a2.4 2.4 0 1 0 4.8 0a2.4 2.4 0 1 0 -4.8 0M168.07 70.53a2.4 2.4 0 1 0 4.8 0a2.4 2.4 0 1 0 -4.8 0M168.36 70.43a2.4 2.4 0 1 0 4.8 0a2.4 2.4 0 1 0 -4.8 0M168.64 70.33a2.4 2.4 0 1 0 4.8 0a2.4 2.4 0 1 0 -4.8 0M168.93 70.23a2.4 2.4 0 1 0 4.8 0a2.4 2.4 0 1 0 -4.8 0M169.22 70.13a2.4 2.4 0 1 0 4.8 0a2.4 2.4 0 1 0 -4.8 0M169.51 70.02a2.4 2.4 0 1 0 4.8 0a2.4 2.4 0 1 0 -4.8 0M169.79 69.92a2.4 2.4 0 1 0 4.8 0a2.4 2.4 0 1 0 -4.8 0M170.08 69.81a2.4 2.4 0 1 0 4.8 0a2.4 2.4 0 1 0 -4.8 0M170.37 69.71a2.4 2.4 0 1 0 4.8 0a2.4 2.4 0 1 0 -4.8 0M170.66 69.6a2.4 2.4 0 1 0 4.8 0a2.4 2.4 0 1 0 -4.8 0M170.95 69.49a2.4 2.4 0 1 0 4.8 0a2.4 2.4 0 1 0 -4.8 0M171.23 69.38a2.4 2.4 0 1 0 4.8 0a2.4 2.4 0 1 0 -4.8 0M171.52 69.27a2.4 2.4 0 1 0 4.8 0a2.4 2.4 0 1 0 -4.8 0M171.81 69.15a2.4 2.4 0 1 0 4.8 0a2.4 2.4 0 1 0 -4.8 0M172.1 69.04a2.4 2.4 0 1 0 4.8 0a2.4 2.4 0 1 0 -4.8 0M172.39 68.92a2.4 2.4 0 1 0 4.8 0a2.4 2.4 0 1 0 -4.8 0M172.67 68.81a2.4 2.4 0 1 0 4.8 0a2.4 2.4 0 1 0 -4.8 0M172.96 68.69a2.4 2.4 0 1 0 4.8 0a2.4 2.4 0 1 0 -4.8 0M173.25 68.57a2.4 2.4 0 1 0 4.8 0a2.4 2.4 0 1 0 -4.8 0M173.54 68.45a2.4 2.4 0 1 0 4.8 0a2.4 2.4 0 1 0 -4.8 0M173.83 68.33a2.4 2.4 0 1 0 4.8 0a2.4 2.4 0 1 0 -4.8 0M174.11 68.21a2.4 2.4 0 1 0 4.8 0a2.4 2.4 0 1 0 -4.8 0M174.4 68.08a2.4 2.4 0 1 0 4.8 0a2.4 2.4 0 1 0 -4.8 0M174.69 67.96a2.4 2.4 0 1 0 4.8 0a2.4 2.4 0 1 0 -4.8 0M174.98 67.83a2.4 2.4 0 1 0 4.8 0a2.4 2.4 0 1 0 -4.8 0M175.26 67.7a2.4 2.4 0 1 0 4.8 0a2.4 2.4 0 1 0 -4.8 0M175.55 67.57a2.4 2.4 0 1 0 4.8 0a2.4 2.4 0 1 0 -4.8 0M175.84 67.44a2.4 2.4 0 1 0 4.8 0a2.4 2.4 0 1 0 -4.8 0M176.13 67.3a2.4 2.4 0 1 0 4.8 0a2.4 2.4 0 1 0 -4.8 0M176.42 67.17a2.4 2.4 0 1 0 4.8 0a2.4 2.4 0 1 0 -4.8 0M176.7 67.03a2.4 2.4 0 1 0 4.8 0a2.4 2.4 0 1 0 -4.8 0M176.99 66.9a2.4 2.4 0 1 0 4.8 0a2.4 2.4 0 1 0 -4.8 0M177.28 66.76a2.4 2.4 0 1 0 4.8 0a2.4 2.4 0 1 0 -4.8 0M177.57 66.61a2.4 2.4 0 1 0 4.8 0a2.4 2.4 0 1 0 -4.8 0M177.86 66.47a2.4 2.4 0 1 0 4.8 0a2.4 2.4 0 1 0 -4.8 0M178.14 66.32a2.4 2.4 0 1 0 4.8 0a2.4 2.4 0 1 0 -4.8 0M178.43 66.18a2.4 2.4 0 1 0 4.8 0a2.4 2.4 0 1 0 -4.8 0M178.72 66.03a2.4 2.4 0 1 0 4.8 0a2.4 2.4 0 1 0 -4.8 0M179.01 65.88a2.4 2.4 0 1 0 4.8 0a2.4 2.4 0 1 0 -4.8 0M179.3 65.72a2.4 2.4 0 1 0 4.8 0a2.4 2.4 0 1 0 -4.8 0M179.58 65.56a2.4 2.4 0 1 0 4.8 0a2.4 2.4 0 1 0 -4.8 0M179.87 65.41a2.4 2.4 0 1 0 4.8 0a2.4 2.4 0 1 0 -4.8 0M180.16 65.24a2.4 2.4 0 1 0 4.8 0a2.4 2.4 0 1 0 -4.8 0M180.45 65.08a2.4 2.4 0 1 0 4.8 0a2.4 2.4 0 1 0 -4.8 0M180.73 64.91a2.4 2.4 0 1 0 4.8 0a2.4 2.4 0 1 0 -4.8 0M181.02 64.74a2.4 2.4 0 1 0 4.8 0a2.4 2.4 0 1 0 -4.8 0M181.31 64.57a2.4 2.4 0 1 0 4.8 0a2.4 2.4 0 1 0 -4.8 0M181.6 64.4a2.4 2.4 0 1 0 4.8 0a2.4 2.4 0 1 0 -4.8 0M181.89 64.22a2.4 2.4 0 1 0 4.8 0a2.4 2.4 0 1 0 -4.8 0M182.17 64.03a2.4 2.4 0 1 0 4.8 0a2.4 2.4 0 1 0 -4.8 0M182.46 63.85a2.4 2.4 0 1 0 4.8 0a2.4 2.4 0 1 0 -4.8 0M182.75 63.67a2.4 2.4 0 1 0 4.8 0a2.4 2.4 0 1 0 -4.8 0M183.04 63.49a2.4 2.4 0 1 0 4.8 0a2.4 2.4 0 1 0 -4.8 0M183.33 63.31a2.4 2.4 0 1 0 4.8 0a2.4 2.4 0 1 0 -4.8 0M183.61 63.13a2.4 2.4 0 1 0 4.8 0a2.4 2.4 0 1 0 -4.8 0M183.9 62.94a2.4 2.4 0 1 0 4.8 0a2.4 2.4 0 1 0 -4.8 0M184.19 62.75a2.4 2.4 0 1 0 4.8 0a2.4 2.4 0 1 0 -4.8 0M184.48 62.55a2.4 2.4 0 1 0 4.8 0a2.4 2.4 0 1 0 -4.8 0M184.77 62.34a2.4 2.4 0 1 0 4.8 0a2.4 2.4 0 1 0 -4.8 0M185.05 62.13a2.4 2.4 0 1 0 4.8 0a2.4 2.4 0 1 0 -4.8 0M185.34 61.91a2.4 2.4 0 1 0 4.8 0a2.4 2.4 0 1 0 -4.8 0M185.63 61.68a2.4 2.4 0 1 0 4.8 0a2.4 2.4 0 1 0 -4.8 0M185.92 61.45a2.4 2.4 0 1 0 4.8 0a2.4 2.4 0 1 0 -4.8 0M186.21 61.2a2.4 2.4 0 1 0 4.8 0a2.4 2.4 0 1 0 -4.8 0M186.49 60.95a2.4 2.4 0 1 0 4.8 0a2.4 2.4 0 1 0 -4.8 0M186.78 60.69a2.4 2.4 0 1 0 4.8 0a2.4 2.4 0 1 0 -4.8 0M187.07 60.42a2.4 2.4 0 1 0 4.8 0a2.4 2.4 0 1 0 -4.8 0M187.36 60.14a2.4 2.4 0 1 0 4.8 0a2.4 2.4 0 1 0 -4.8 0M187.64 59.84a2.4 2.4 0 1 0 4.8 0a2.4 2.4 0 1 0 -4.8 0M187.93 59.53a2.4 2.4 0 1 0 4.8 0a2.4 2.4 0 1 0 -4.8 0M188.22 59.21a2.4 2.4 0 1 0 4.8 0a2.4 2.4 0 1 0 -4.8 0M188.51 58.88a2.4 2.4 0 1 0 4.8 0a2.4 2.4 0 1 0 -4.8 0M188.8 58.53a2.4 2.4 0 1 0 4.8 0a2.4 2.4 0 1 0 -4.8 0M189.08 58.17a2.4 2.4 0 1 0 4.8 0a2.4 2.4 0 1 0 -4.8 0M189.37 57.78a2.4 2.4 0 1 0 4.8 0a2.4 2.4 0 1 0 -4.8 0M189.66 57.38a2.4 2.4 0 1 0 4.8 0a2.4 2.4 0 1 0 -4.8 0M189.95 56.96a2.4 2.4 0 1 0 4.8 0a2.4 2.4 0 1 0 -4.8 0M190.24 56.53a2.4 2.4 0 1 0 4.8 0a2.4 2.4 0 1 0 -4.8 0M190.52 56.07a2.4 2.4 0 1 0 4.8 0a2.4 2.4 0 1 0 -4.8 0M190.81 55.58a2.4 2.4 0 1 0 4.8 0a2.4 2.4 0 1 0 -4.8 0M191.1 55.08a2.4 2.4 0 1 0 4.8 0a2.4 2.4 0 1 0 -4.8 0M191.39 54.54a2.4 2.4 0 1 0 4.8 0a2.4 2.4 0 1 0 -4.8 0M191.68 53.99a2.4 2.4 0 1 0 4.8 0a2.4 2.4 0 1 0 -4.8 0M191.96 53.4a2.4 2.4 0 1 0 4.8 0a2.4 2.4 0 1 0 -4.8 0M192.25 52.79a2.4 2.4 0 1 0 4.8 0a2.4 2.4 0 1 0 -4.8 0M192.54 52.14a2.4 2.4 0 1 0 4.8 0a2.4 2.4 0 1 0 -4.8 0M192.83 51.46a2.4 2.4 0 1 0 4.8 0a2.4 2.4 0 1 0 -4.8 0M193.11 50.76a2.4 2.4 0 1 0 4.8 0a2.4 2.4 0 1 0 -4.8 0M193.4 50.01a2.4 2.4 0 1 0 4.8 0a2.4 2.4 0 1 0 -4.8 0M193.69 49.24a2.4 2.4 0 1 0 4.8 0a2.4 2.4 0 1 0 -4.8 0M193.98 48.43a2.4 2.4 0 1 0 4.8 0a2.4 2.4 0 1 0 -4.8 0M194.27 47.58a2.4 2.4 0 1 0 4.8 0a2.4 2.4 0 1 0 -4.8 0M194.55 46.69a2.4 2.4 0 1 0 4.8 0a2.4 2.4 0 1 0 -4.8 0M194.84 45.76a2.4 2.4 0 1 0 4.8 0a2.4 2.4 0 1 0 -4.8 0M195.13 44.8a2.4 2.4 0 1 0 4.8 0a2.4 2.4 0 1 0 -4.8 0M195.42 43.8a2.4 2.4 0 1 0 4.8 0a2.4 2.4 0 1 0 -4.8 0M195.71 42.75a2.4 2.4 0 1 0 4.8 0a2.4 2.4 0 1 0 -4.8 0M195.99 41.67a2.4 2.4 0 1 0 4.8 0a2.4 2.4 0 1 0 -4.8 0M196.28 40.55a2.4 2.4 0 1 0 4.8 0a2.4 2.4 0 1 0 -4.8 0M196.57 39.38a2.4 2.4 0 1 0 4.8 0a2.4 2.4 0 1 0 -4.8 0M196.86 38.18a2.4 2.4 0 1 0 4.8 0a2.4 2.4 0 1 0 -4.8 0M197.15 36.94a2.4 2.4 0 1 0 4.8 0a2.4 2.4 0 1 0 -4.8 0M197.43 35.66a2.4 2.4 0 1 0 4.8 0a2.4 2.4 0 1 0 -4.8 0M197.72 34.33a2.4 2.4 0 1 0 4.8 0a2.4 2.4 0 1 0 -4.8 0M198.01 32.98a2.4 2.4 0 1 0 4.8 0a2.4 2.4 0 1 0 -4.8 0M198.3 31.58a2.4 2.4 0 1 0 4.8 0a2.4 2.4 0 1 0 -4.8 0M198.58 30.15a2.4 2.4 0 1 0 4.8 0a2.4 2.4 0 1 0 -4.8 0M198.87 28.68a2.4 2.4 0 1 0 4.8 0a2.4 2.4 0 1 0 -4.8 0M199.16 27.18a2.4 2.4 0 1 0 4.8 0a2.4 2.4 0 1 0 -4.8 0M199.45 25.64a2.4 2.4 0 1 0 4.8 0a2.4 2.4 0 1 0 -4.8 0M199.74 24.07a2.4 2.4 0 1 0 4.8 0a2.4 2.4 0 1 0 -4.8 0M200.02 22.47a2.4 2.4 0 1 0 4.8 0a2.4 2.4 0 1 0 -4.8 0M200.31 20.85a2.4 2.4 0 1 0 4.8 0a2.4 2.4 0 1 0 -4.8 0M200.6 19.19a2.4 2.4 0 1 0 4.8 0a2.4 2.4 0 1 0 -4.8 0" fill="#0000ff"/>
<path d="M59.05 19.19 L59.23 20.56 L59.41 21.92 L59.59 23.26 L59.77 24.6 L59.95 25.91 L60.13 27.22 L60.31 28.51 L60.49 29.79 L60.67 31.06 L60.85 32.31 L61.03 33.55 L61.21 34.77 L61.39 35.98 L61.57 37.18 L61.75 38.36 L61.93 39.53 L62.11 40.68 L62.29 41.83 L62.47 42.95 L62.65 44.07 L62.83 45.17 L63.01 46.26 L63.19 47.33 L63.37 48.39 L63.55 49.44 L63.73 50.48 L63.91 51.5 L64.09 52.51 L64.27 53.51 L64.45 54.49 L64.63 55.47 L64.81 56.43 L64.99 57.38 L65.17 58.32 L65.35 59.24 L65.53 60.16 L65.71 61.07 L65.89 61.96 L66.07 62.85 L66.25 63.72 L66.43 64.59 L66.61 65.44 L66.79 66.29 L66.97 67.13 L67.15 67.95 L67.33 68.77 L67.51 69.58 L67.69 70.39 L67.87 71.18 L68.05 71.97 L68.23 72.75 L68.41 73.52 L68.59 74.28 L68.77 75.04 L68.95 75.79 L69.13 76.53 L69.31 77.27 L69.49 78 L69.67 78.73 L69.85 79.45 L70.03 80.16 L70.21 80.87 L70.39 81.57 L70.57 82.27 L70.75 82.96 L70.93 83.64 L71.11 84.33 L71.29 85 L71.47 85.68 L71.65 86.34 L71.83 87.01 L72.01 87.67 L72.19 88.32 L72.37 88.97 L72.55 89.62 L72.73 90.26 L72.91 90.9 L73.09 91.54 L73.27 92.17 L73.44 92.8 L73.62 93.43 L73.8 94.05 L73.98 94.67 L74.16 95.28 L74.34 95.9 L74.52 96.51 L74.7 97.11 L74.88 97.72 L75.06 98.32 L75.24 98.92 L75.42 99.51 L75.6 100.1 L75.78 100.69 L75.96 101.28 L76.14 101.87 L76.32 102.45 L76.5 103.03 L76.68 103.61 L76.86 104.18 L77.04 104.76 L77.22 105.33 L77.4 105.89 L77.58 106.46 L77.76 107.02 L77.94 107.59 L78.12 108.14 L78.3 108.7 L78.48 109.26 L78.66 109.81 L78.84 110.36 L79.02 110.91 L79.2 111.46 L79.38 112 L79.56 112.55 L79.74 113.09 L79.92 113.63 L80.1 114.16 L80.28 114.7 L80.46 115.23 L80.64 115.76 L80.82 116.29 L81 116.82 L81.18 117.35 L81.36 117.87 L81.54 118.4 L81.72 118.92 L81.9 119.44 L82.08 119.95 L82.26 120.47 L82.44 120.98 L82.62 121.49 L82.8 122.01 L82.98 122.51 L83.16 123.02 L83.34 123.53 L83.52 124.03 L83.7 124.53 L83.88 125.03 L84.06 125.53 L84.24 126.03 L84.42 126.53 L84.6 127.02 L84.78 127.51 L84.96 128.01 L85.14 128.5 L85.32 128.98 L85.5 129.47 L85.68 129.96 L85.86 130.44 L86.04 130.92 L86.22 131.4 L86.4 131.88 L86.58 132.36 L86.76 132.84 L86.94 133.31 L87.12 133.79 L87.3 134.26 L87.48 134.73 L87.66 135.2 L87.84 135.67 L88.02 136.14 L88.2 136.6 L88.38 137.07 L88.56 137.53 L88.74 137.99 L88.92 138.45 L89.1 138.91 L89.28 139.37 L89.46 139.83 L89.64 140.28 L89.82 140.74 L90 141.19 L90.18 141.64 L90.36 142.09 L90.54 142.54 L90.72 142.99 L90.9 143.43 L91.08 143.88 L91.26 144.32 L91.44 144.77 L91.62 145.21 L91.8 145.65 L91.98 146.09 L92.16 146.53 L92.34 146.97 L92.52 147.4 L92.7 147.84 L92.88 148.27 L93.06 148.71 L93.24 149.14 L93.42 149.57 L93.6 150 L93.78 150.43 L93.96 150.86 L94.14 151.28 L94.32 151.71 L94.5 152.14 L94.68 152.56 L94.86 152.98 L95.04 153.41 L95.22 153.83 L95.4 154.25 L95.58 154.67 L95.76 155.08 L95.94 155.5 L96.12 155.92 L96.3 156.33 L96.48 156.75 L96.66 157.16 L96.84 157.57 L97.02 157.99 L97.2 158.4 L97.38 158.81 L97.56 159.22 L97.74 159.63 L97.92 160.03 L98.1 160.44 L98.28 160.85 L98.46 161.25 L98.64 161.66 L98.82 162.06 L99 162.46 L99.18 162.86 L99.36 163.27 L99.54 163.67 L99.72 164.07 L99.9 164.47 L100.08 164.86 L100.26 165.26 L100.44 165.66 L100.62 166.05 L100.8 166.45 L100.98 166.84 L101.16 167.24 L101.34 167.63 L101.52 168.02 L101.7 168.41 L101.88 168.8 L102.06 169.19 L102.23 169.58 L102.41 169.97 L102.59 170.36 L102.77 170.75 L102.95 171.13 L103.13 171.52 L103.31 171.91 L103.49 172.29 L103.67 172.67 L103.85 173.06 L104.03 173.44 L104.21 173.82 L104.39 174.2 L104.57 174.58 L104.75 174.96 L104.93 175.34 L105.11 175.72 L105.29 176.1 L105.47 176.48 L105.65 176.85 L105.83 177.23 L106.01 177.6 L106.19 177.98 L106.37 178.35 L106.55 178.72 L106.73 179.1 L106.91 179.47 L107.09 179.84 L107.27 180.21 L107.45 180.58 L107.63 180.95 L107.81 181.31 L107.99 181.68 L108.17 182.05 L108.35 182.41 L108.53 182.78 L108.71 183.14 L108.89 183.51 L109.07 183.87 L109.25 184.23 L109.43 184.59 L109.61 184.95 L109.79 185.31 L109.97 185.67 L110.15 186.03 L110.33 186.39 L110.51 186.75 L110.69 187.1 L110.87 187.46 L111.05 187.81 L111.23 188.16 L111.41 188.52 L111.59 188.87 L111.77 189.22 L111.95 189.57 L112.13 189.92 L112.31 190.26 L112.49 190.61 L112.67 190.95 L112.85 191.3 L113.03 191.64 L113.21 191.98 L113.39 192.33 L113.57 192.67 L113.75 193 L113.93 193.34 L114.11 193.68 L114.29 194.01 L114.47 194.35 L114.65 194.68 L114.83 195.01 L115.01 195.34 L115.19 195.67 L115.37 196 L115.55 196.32 L115.73 196.65 L115.91 196.97 L116.09 197.29 L116.27 197.61 L116.45 197.93 L116.63 198.25 L116.81 198.56 L116.99 198.88 L117.17 199.19 L117.35 199.5 L117.53 199.81 L117.71 200.11 L117.89 200.42 L118.07 200.72 L118.25 201.02 L118.43 201.32 L118.61 201.61 L118.79 201.91 L118.97 202.2 L119.15 202.49 L119.33 202.77 L119.51 203.06 L119.69 203.34 L119.87 203.62 L120.05 203.9 L120.23 204.17 L120.41 204.44 L120.59 204.71 L120.77 204.98 L120.95 205.24 L121.13 205.5 L121.31 205.76 L121.49 206.02 L121.67 206.27 L121.85 206.52 L122.03 206.76 L122.21 207 L122.39 207.24 L122.57 207.48 L122.75 207.71 L122.93 207.94 L123.11 208.16 L123.29 208.38 L123.47 208.6 L123.65 208.81 L123.83 209.02 L124.01 209.22 L124.19 209.42 L124.37 209.62 L124.55 209.81 L124.73 210 L124.91 210.19 L125.09 210.37 L125.27 210.54 L125.45 210.71 L125.63 210.88 L125.81 211.04 L125.99 211.2 L126.17 211.35 L126.35 211.49 L126.53 211.64 L126.71 211.77 L126.89 211.9 L127.07 212.03 L127.25 212.15 L127.43 212.27 L127.61 212.38 L127.79 212.48 L127.97 212.58 L128.15 212.68 L128.33 212.77 L128.51 212.85 L128.69 212.93 L128.87 213 L129.05 213.07 L129.23 213.13 L129.41 213.18 L129.59 213.23 L129.77 213.28 L129.95 213.32 L130.13 213.35 L130.31 213.37 L130.49 213.39 L130.67 213.41 L130.85 213.42 L131.02 213.42 L131.2 213.42 L131.38 213.41 L131.56 213.39 L131.74 213.37 L131.92 213.35 L132.1 213.32 L132.28 213.28 L132.46 213.23 L132.64 213.18 L132.82 213.13 L133 213.07 L133.18 213 L133.36 212.93 L133.54 212.85 L133.72 212.77 L133.9 212.68 L134.08 212.58 L134.26 212.48 L134.44 212.38 L134.62 212.27 L134.8 212.15 L134.98 212.03 L135.16 211.9 L135.34 211.77 L135.52 211.64 L135.7 211.49 L135.88 211.35 L136.06 211.2 L136.24 211.04 L136.42 210.88 L136.6 210.71 L136.78 210.54 L136.96 210.37 L137.14 210.19 L137.32 210 L137.5 209.81 L137.68 209.62 L137.86 209.42 L138.04 209.22 L138.22 209.02 L138.4 208.81 L138.58 208.6 L138.76 208.38 L138.94 208.16 L139.12 207.94 L139.3 207.71 L139.48 207.48 L139.66 207.24 L139.84 207 L140.02 206.76 L140.2 206.52 L140.38 206.27 L140.56 206.02 L140.74 205.76 L140.92 205.5 L141.1 205.24 L141.28 204.98 L141.46 204.71 L141.64 204.44 L141.82 204.17 L142 203.9 L142.18 203.62 L142.36 203.34 L142.54 203.06 L142.72 202.77 L142.9 202.49 L143.08 202.2 L143.26 201.91 L143.44 201.61 L143.62 201.32 L143.8 201.02 L143.98 200.72 L144.16 200.42 L144.34 200.11 L144.52 199.81 L144.7 199.5 L144.88 199.19 L145.06 198.88 L145.24 198.56 L145.42 198.25 L145.6 197.93 L145.78 197.61 L145.96 197.29 L146.14 196.97 L146.32 196.65 L146.5 196.32 L146.68 196 L146.86 195.67 L147.04 195.34 L147.22 195.01 L147.4 194.68 L147.58 194.35 L147.76 194.01 L147.94 193.68 L148.12 193.34 L148.3 193 L148.48 192.67 L148.66 192.33 L148.84 191.98 L149.02 191.64 L149.2 191.3 L149.38 190.95 L149.56 190.61 L149.74 190.26 L149.92 189.92 L150.1 189.57 L150.28 189.22 L150.46 188.87 L150.64 188.52 L150.82 188.16 L151 187.81 L151.18 187.46 L151.36 187.1 L151.54 186.75 L151.72 186.39 L151.9 186.03 L152.08 185.67 L152.26 185.31 L152.44 184.95 L152.62 184.59 L152.8 184.23 L152.98 183.87 L153.16 183.51 L153.34 183.14 L153.52 182.78 L153.7 182.41 L153.88 182.05 L154.06 181.68 L154.24 181.31 L154.42 180.95 L154.6 180.58 L154.78 180.21 L154.96 179.84 L155.14 179.47 L155.32 179.1 L155.5 178.72 L155.68 178.35 L155.86 177.98 L156.04 177.6 L156.22 177.23 L156.4 176.85 L156.58 176.48 L156.76 176.1 L156.94 175.72 L157.12 175.34 L157.3 174.96 L157.48 174.58 L157.66 174.2 L157.84 173.82 L158.02 173.44 L158.2 173.06 L158.38 172.67 L158.56 172.29 L158.74 171.91 L158.92 171.52 L159.1 171.13 L159.28 170.75 L159.46 170.36 L159.64 169.97 L159.81 169.58 L159.99 169.19 L160.17 168.8 L160.35 168.41 L160.53 168.02 L160.71 167.63 L160.89 167.24 L161.07 166.84 L161.25 166.45 L161.43 166.05 L161.61 165.66 L161.79 165.26 L161.97 164.86 L162.15 164.47 L162.33 164.07 L162.51 163.67 L162.69 163.27 L162.87 162.86 L163.05 162.46 L163.23 162.06 L163.41 161.66 L163.59 161.25 L163.77 160.85 L163.95 160.44 L164.13 160.03 L164.31 159.63 L164.49 159.22 L164.67 158.81 L164.85 158.4 L165.03 157.99 L165.21 157.57 L165.39 157.16 L165.57 156.75 L165.75 156.33 L165.93 155.92 L166.11 155.5 L166.29 155.08 L166.47 154.67 L166.65 154.25 L166.83 153.83 L167.01 153.41 L167.19 152.98 L167.37 152.56 L167.55 152.14 L167.73 151.71 L167.91 151.28 L168.09 150.86 L168.27 150.43 L168.45 150 L168.63 149.57 L168.81 149.14 L168.99 148.71 L169.17 148.27 L169.35 147.84 L169.53 147.4 L169.71 146.97 L169.89 146.53 L170.07 146.09 L170.25 145.65 L170.43 145.21 L170.61 144.77 L170.79 144.32 L170.97 143.88 L171.15 143.43 L171.33 142.99 L171.51 142.54 L171.69 142.09 L171.87 141.64 L172.05 141.19 L172.23 140.74 L172.41 140.28 L172.59 139.83 L172.77 139.37 L172.95 138.91 L173.13 138.45 L173.31 137.99 L173.49 137.53 L173.67 137.07 L173.85 136.6 L174.03 136.14 L174.21 135.67 L174.39 135.2 L174.57 134.73 L174.75 134.26 L174.93 133.79 L175.11 133.31 L175.29 132.84 L175.47 132.36 L175.65 131.88 L175.83 131.4 L176.01 130.92 L176.19 130.44 L176.37 129.96 L176.55 129.47 L176.73 128.98 L176.91 128.5 L177.09 128.01 L177.27 127.51 L177.45 127.02 L177.63 126.53 L177.81 126.03 L177.99 125.53 L178.17 125.03 L178.35 124.53 L178.53 124.03 L178.71 123.53 L178.89 123.02 L179.07 122.51 L179.25 122.01 L179.43 121.49 L179.61 120.98 L179.79 120.47 L179.97 119.95 L180.15 119.44 L180.33 118.92 L180.51 118.4 L180.69 117.87 L180.87 117.35 L181.05 116.82 L181.23 116.29 L181.41 115.76 L181.59 115.23 L181.77 114.7 L181.95 114.16 L182.13 113.63 L182.31 113.09 L182.49 112.55 L182.67 112 L182.85 111.46 L183.03 110.91 L183.21 110.36 L183.39 109.81 L183.57 109.26 L183.75 108.7 L183.93 108.14 L184.11 107.59 L184.29 107.02 L184.47 106.46 L184.65 105.89 L184.83 105.33 L185.01 104.76 L185.19 104.18 L185.37 103.61 L185.55 103.03 L185.73 102.45 L185.91 101.87 L186.09 101.28 L186.27 100.69 L186.45 100.1 L186.63 99.51 L186.81 98.92 L186.99 98.32 L187.17 97.72 L187.35 97.11 L187.53 96.51 L187.71 95.9 L187.89 95.28 L188.07 94.67 L188.25 94.05 L188.43 93.43 L188.61 92.8 L188.78 92.17 L188.96 91.54 L189.14 90.9 L189.32 90.26 L189.5 89.62 L189.68 88.97 L189.86 88.32 L190.04 87.67 L190.22 87.01 L190.4 86.34 L190.58 85.68 L190.76 85 L190.94 84.33 L191.12 83.64 L191.3 82.96 L191.48 82.27 L191.66 81.57 L191.84 80.87 L192.02 80.16 L192.2 79.45 L192.38 78.73 L192.56 78 L192.74 77.27 L192.92 76.53 L193.1 75.79 L193.28 75.04 L193.46 74.28 L193.64 73.52 L193.82 72.75 L194 71.97 L194.18 71.18 L194.36 70.39 L194.54 69.58 L194.72 68.77 L194.9 67.95 L195.08 67.13 L195.26 66.29 L195.44 65.44 L195.62 64.59 L195.8 63.72 L195.98 62.85 L196.16 61.96 L196.34 61.07 L196.52 60.16 L196.7 59.24 L196.88 58.32 L197.06 57.38 L197.24 56.43 L197.42 55.47 L197.6 54.49 L197.78 53.51 L197.96 52.51 L198.14 51.5 L198.32 50.48 L198.5 49.44 L198.68 48.39 L198.86 47.33 L199.04 46.26 L199.22 45.17 L199.4 44.07 L199.58 42.95 L199.76 41.83 L199.94 40.68 L200.12 39.53 L200.3 38.36 L200.48 37.18 L200.66 35.98 L200.84 34.77 L201.02 33.55 L201.2 32.31 L201.38 31.06 L201.56 29.79 L201.74 28.51 L201.92 27.22 L202.1 25.91 L202.28 24.6 L202.46 23.26 L202.64 21.92 L202.82 20.56 L203 19.19" fill="none" stroke="#ff00ff" stroke-width="1.5" stroke-linejoin="round" stroke-linecap="butt" stroke-opacity="0.66"/>
<path d="M59.05 19.19 L59.23 20.45 L59.41 21.69 L59.59 22.92 L59.77 24.13 L59.95 25.32 L60.13 26.5 L60.31 27.67 L60.49 28.81 L60.67 29.95 L60.85 31.06 L61.03 32.16 L61.21 33.24 L61.39 34.3 L61.57 35.35 L61.75 36.39 L61.93 37.4 L62.11 38.4 L62.29 39.39 L62.47 40.35 L62.65 41.3 L62.83 42.24 L63.01 43.16 L63.19 44.06 L63.37 44.95 L63.55 45.83 L63.73 46.69 L63.91 47.53 L64.09 48.36 L64.27 49.18 L64.45 49.98 L64.63 50.77 L64.81 51.54 L64.99 52.3 L65.17 53.05 L65.35 53.78 L65.53 54.51 L65.71 55.22 L65.89 55.91 L66.07 56.6 L66.25 57.27 L66.43 57.94 L66.61 58.59 L66.79 59.23 L66.97 59.86 L67.15 60.48 L67.33 61.09 L67.51 61.69 L67.69 62.29 L67.87 62.87 L68.05 63.44 L68.23 64 L68.41 64.56 L68.59 65.11 L68.77 65.64 L68.95 66.17 L69.13 66.7 L69.31 67.21 L69.49 67.72 L69.67 68.22 L69.85 68.71 L70.03 69.2 L70.21 69.67 L70.39 70.15 L70.57 70.61 L70.75 71.07 L70.93 71.52 L71.11 71.97 L71.29 72.41 L71.47 72.85 L71.65 73.27 L71.83 73.7 L72.01 74.12 L72.19 74.53 L72.37 74.94 L72.55 75.34 L72.73 75.73 L72.91 76.13 L73.09 76.51 L73.27 76.89 L73.44 77.27 L73.62 77.64 L73.8 78.01 L73.98 78.37 L74.16 78.73 L74.34 79.09 L74.52 79.44 L74.7 79.78 L74.88 80.13 L75.06 80.46 L75.24 80.8 L75.42 81.13 L75.6 81.45 L75.78 81.78 L75.96 82.09 L76.14 82.41 L76.32 82.72 L76.5 83.03 L76.68 83.33 L76.86 83.63 L77.04 83.93 L77.22 84.22 L77.4 84.51 L77.58 84.8 L77.76 85.08 L77.94 85.36 L78.12 85.63 L78.3 85.91 L78.48 86.18 L78.66 86.45 L78.84 86.71 L79.02 86.97 L79.2 87.23 L79.38 87.48 L79.56 87.74 L79.74 87.99 L79.92 88.23 L80.1 88.48 L80.28 88.72 L80.46 88.96 L80.64 89.19 L80.82 89.42 L81 89.66 L81.18 89.88 L81.36 90.11 L81.54 90.33 L81.72 90.55 L81.9 90.77 L82.08 90.99 L82.26 91.2 L82.44 91.41 L82.62 91.62 L82.8 91.83 L82.98 92.03 L83.16 92.23 L83.34 92.43 L83.52 92.63 L83.7 92.82 L83.88 93.02 L84.06 93.21 L84.24 93.4 L84.42 93.58 L84.6 93.77 L84.78 93.95 L84.96 94.13 L85.14 94.31 L85.32 94.49 L85.5 94.67 L85.68 94.84 L85.86 95.01 L86.04 95.18 L86.22 95.35 L86.4 95.52 L86.58 95.68 L86.76 95.84 L86.94 96.01 L87.12 96.17 L87.3 96.32 L87.48 96.48 L87.66 96.64 L87.84 96.79 L88.02 96.94 L88.2 97.09 L88.38 97.24 L88.56 97.39 L88.74 97.53 L88.92 97.68 L89.1 97.82 L89.28 97.96 L89.46 98.1 L89.64 98.24 L89.82 98.38 L90 98.51 L90.18 98.65 L90.36 98.78 L90.54 98.91 L90.72 99.04 L90.9 99.17 L91.08 99.3 L91.26 99.43 L91.44 99.55 L91.62 99.68 L91.8 99.8 L91.98 99.92 L92.16 100.04 L92.34 100.16 L92.52 100.28 L92.7 100.4 L92.88 100.51 L93.06 100.63 L93.24 100.74 L93.42 100.86 L93.6 100.97 L93.78 101.08 L93.96 101.19 L94.14 101.3 L94.32 101.4 L94.5 101.51 L94.68 101.62 L94.86 101.72 L95.04 101.82 L95.22 101.93 L95.4 102.03 L95.58 102.13 L95.76 102.23 L95.94 102.33 L96.12 102.43 L96.3 102.52 L96.48 102.62 L96.66 102.72 L96.84 102.81 L97.02 102.9 L97.2 103 L97.38 103.09 L97.56 103.18 L97.74 103.27 L97.92 103.36 L98.1 103.45 L98.28 103.53 L98.46 103.62 L98.64 103.71 L98.82 103.79 L99 103.88 L99.18 103.96 L99.36 104.04 L99.54 104.13 L99.72 104.21 L99.9 104.29 L100.08 104.37 L100.26 104.45 L100.44 104.52 L100.62 104.6 L100.8 104.68 L100.98 104.76 L101.16 104.83 L101.34 104.91 L101.52 104.98 L101.7 105.05 L101.88 105.13 L102.06 105.2 L102.23 105.27 L102.41 105.34 L102.59 105.41 L102.77 105.48 L102.95 105.55 L103.13 105.62 L103.31 105.68 L103.49 105.75 L103.67 105.82 L103.85 105.88 L104.03 105.95 L104.21 106.01 L104.39 106.07 L104.57 106.14 L104.75 106.2 L104.93 106.26 L105.11 106.32 L105.29 106.38 L105.47 106.44 L105.65 106.5 L105.83 106.56 L106.01 106.62 L106.19 106.68 L106.37 106.73 L106.55 106.79 L106.73 106.85 L106.91 106.9 L107.09 106.96 L107.27 107.01 L107.45 107.06 L107.63 107.12 L107.81 107.17 L107.99 107.22 L108.17 107.27 L108.35 107.32 L108.53 107.38 L108.71 107.43 L108.89 107.47 L109.07 107.52 L109.25 107.57 L109.43 107.62 L109.61 107.67 L109.79 107.71 L109.97 107.76 L110.15 107.81 L110.33 107.85 L110.51 107.9 L110.69 107.94 L110.87 107.98 L111.05 108.03 L111.23 108.07 L111.41 108.11 L111.59 108.16 L111.77 108.2 L111.95 108.24 L112.13 108.28 L112.31 108.32 L112.49 108.36 L112.67 108.4 L112.85 108.44 L113.03 108.47 L113.21 108.51 L113.39 108.55 L113.57 108.59 L113.75 108.62 L113.93 108.66 L114.11 108.69 L114.29 108.73 L114.47 108.76 L114.65 108.8 L114.83 108.83 L115.01 108.86 L115.19 108.9 L115.37 108.93 L115.55 108.96 L115.73 108.99 L115.91 109.02 L116.09 109.05 L116.27 109.09 L116.45 109.12 L116.63 109.14 L116.81 109.17 L116.99 109.2 L117.17 109.23 L117.35 109.26 L117.53 109.29 L117.71 109.31 L117.89 109.34 L118.07 109.37 L118.25 109.39 L118.43 109.42 L118.61 109.44 L118.79 109.47 L118.97 109.49 L119.15 109.51 L119.33 109.54 L119.51 109.56 L119.69 109.58 L119.87 109.61 L120.05 109.63 L120.23 109.65 L120.41 109.67 L120.59 109.69 L120.77 109.71 L120.95 109.73 L121.13 109.75 L121.31 109.77 L121.49 109.79 L121.67 109.81 L121.85 109.83 L122.03 109.84 L122.21 109.86 L122.39 109.88 L122.57 109.89 L122.75 109.91 L122.93 109.93 L123.11 109.94 L123.29 109.96 L123.47 109.97 L123.65 109.99 L123.83 110 L124.01 110.01 L124.19 110.03 L124.37 110.04 L124.55 110.05 L124.73 110.07 L124.91 110.08 L125.09 110.09 L125.27 110.1 L125.45 110.11 L125.63 110.12 L125.81 110.13 L125.99 110.14 L126.17 110.15 L126.35 110.16 L126.53 110.17 L126.71 110.18 L126.89 110.19 L127.07 110.19 L127.25 110.2 L127.43 110.21 L127.61 110.21 L127.79 110.22 L127.97 110.23 L128.15 110.23 L128.33 110.24 L128.51 110.24 L128.69 110.25 L128.87 110.25 L129.05 110.26 L129.23 110.26 L129.41 110.26 L129.59 110.27 L129.77 110.27 L129.95 110.27 L130.13 110.27 L130.31 110.27 L130.49 110.27 L130.67 110.28 L130.85 110.28 L131.02 110.28 L131.2 110.28 L131.38 110.28 L131.56 110.27 L131.74 110.27 L131.92 110.27 L132.1 110.27 L132.28 110.27 L132.46 110.27 L132.64 110.26 L132.82 110.26 L133 110.26 L133.18 110.25 L133.36 110.25 L133.54 110.24 L133.72 110.24 L133.9 110.23 L134.08 110.23 L134.26 110.22 L134.44 110.21 L134.62 110.21 L134.8 110.2 L134.98 110.19 L135.16 110.19 L135.34 110.18 L135.52 110.17 L135.7 110.16 L135.88 110.15 L136.06 110.14 L136.24 110.13 L136.42 110.12 L136.6 110.11 L136.78 110.1 L136.96 110.09 L137.14 110.08 L137.32 110.07 L137.5 110.05 L137.68 110.04 L137.86 110.03 L138.04 110.01 L138.22 110 L138.4 109.99 L138.58 109.97 L138.76 109.96 L138.94 109.94 L139.12 109.93 L139.3 109.91 L139.48 109.89 L139.66 109.88 L139.84 109.86 L140.02 109.84 L140.2 109.83 L140.38 109.81 L140.56 109.79 L140.74 109.77 L140.92 109.75 L141.1 109.73 L141.28 109.71 L141.46 109.69 L141.64 109.67 L141.82 109.65 L142 109.63 L142.18 109.61 L142.36 109.58 L142.54 109.56 L142.72 109.54 L142.9 109.51 L143.08 109.49 L143.26 109.47 L143.44 109.44 L143.62 109.42 L143.8 109.39 L143.98 109.37 L144.16 109.34 L144.34 109.31 L144.52 109.29 L144.7 109.26 L144.88 109.23 L145.06 109.2 L145.24 109.17 L145.42 109.14 L145.6 109.12 L145.78 109.09 L145.96 109.05 L146.14 109.02 L146.32 108.99 L146.5 108.96 L146.68 108.93 L146.86 108.9 L147.04 108.86 L147.22 108.83 L147.4 108.8 L147.58 108.76 L147.76 108.73 L147.94 108.69 L148.12 108.66 L148.3 108.62 L148.48 108.59 L148.66 108.55 L148.84 108.51 L149.02 108.47 L149.2 108.44 L149.38 108.4 L149.56 108.36 L149.74 108.32 L149.92 108.28 L150.1 108.24 L150.28 108.2 L150.46 108.16 L150.64 108.11 L150.82 108.07 L151 108.03 L151.18 107.98 L151.36 107.94 L151.54 107.9 L151.72 107.85 L151.9 107.81 L152.08 107.76 L152.26 107.71 L152.44 107.67 L152.62 107.62 L152.8 107.57 L152.98 107.52 L153.16 107.47 L153.34 107.43 L153.52 107.38 L153.7 107.32 L153.88 107.27 L154.06 107.22 L154.24 107.17 L154.42 107.12 L154.6 107.06 L154.78 107.01 L154.96 106.96 L155.14 106.9 L155.32 106.85 L155.5 106.79 L155.68 106.73 L155.86 106.68 L156.04 106.62 L156.22 106.56 L156.4 106.5 L156.58 106.44 L156.76 106.38 L156.94 106.32 L157.12 106.26 L157.3 106.2 L157.48 106.14 L157.66 106.07 L157.84 106.01 L158.02 105.95 L158.2 105.88 L158.38 105.82 L158.56 105.75 L158.74 105.68 L158.92 105.62 L159.1 105.55 L159.28 105.48 L159.46 105.41 L159.64 105.34 L159.81 105.27 L159.99 105.2 L160.17 105.13 L160.35 105.05 L160.53 104.98 L160.71 104.91 L160.89 104.83 L161.07 104.76 L161.25 104.68 L161.43 104.6 L161.61 104.52 L161.79 104.45 L161.97 104.37 L162.15 104.29 L162.33 104.21 L162.51 104.13 L162.69 104.04 L162.87 103.96 L163.05 103.88 L163.23 103.79 L163.41 103.71 L163.59 103.62 L163.77 103.53 L163.95 103.45 L164.13 103.36 L164.31 103.27 L164.49 103.18 L164.67 103.09 L164.85 103 L165.03 102.9 L165.21 102.81 L165.39 102.72 L165.57 102.62 L165.75 102.52 L165.93 102.43 L166.11 102.33 L166.29 102.23 L166.47 102.13 L166.65 102.03 L166.83 101.93 L167.01 101.82 L167.19 101.72 L167.37 101.62 L167.55 101.51 L167.73 101.4 L167.91 101.3 L168.09 101.19 L168.27 101.08 L168.45 100.97 L168.63 100.86 L168.81 100.74 L168.99 100.63 L169.17 100.51 L169.35 100.4 L169.53 100.28 L169.71 100.16 L169.89 100.04 L170.07 99.92 L170.25 99.8 L170.43 99.68 L170.61 99.55 L170.79 99.43 L170.97 99.3 L171.15 99.17 L171.33 99.04 L171.51 98.91 L171.69 98.78 L171.87 98.65 L172.05 98.51 L172.23 98.38 L172.41 98.24 L172.59 98.1 L172.77 97.96 L172.95 97.82 L173.13 97.68 L173.31 97.53 L173.49 97.39 L173.67 97.24 L173.85 97.09 L174.03 96.94 L174.21 96.79 L174.39 96.64 L174.57 96.48 L174.75 96.32 L174.93 96.17 L175.11 96.01 L175.29 95.84 L175.47 95.68 L175.65 95.52 L175.83 95.35 L176.01 95.18 L176.19 95.01 L176.37 94.84 L176.55 94.67 L176.73 94.49 L176.91 94.31 L177.09 94.13 L177.27 93.95 L177.45 93.77 L177.63 93.58 L177.81 93.4 L177.99 93.21 L178.17 93.02 L178.35 92.82 L178.53 92.63 L178.71 92.43 L178.89 92.23 L179.07 92.03 L179.25 91.83 L179.43 91.62 L179.61 91.41 L179.79 91.2 L179.97 90.99 L180.15 90.77 L180.33 90.55 L180.51 90.33 L180.69 90.11 L180.87 89.88 L181.05 89.66 L181.23 89.42 L181.41 89.19 L181.59 88.96 L181.77 88.72 L181.95 88.48 L182.13 88.23 L182.31 87.99 L182.49 87.74 L182.67 87.48 L182.85 87.23 L183.03 86.97 L183.21 86.71 L183.39 86.45 L183.57 86.18 L183.75 85.91 L183.93 85.63 L184.11 85.36 L184.29 85.08 L184.47 84.8 L184.65 84.51 L184.83 84.22 L185.01 83.93 L185.19 83.63 L185.37 83.33 L185.55 83.03 L185.73 82.72 L185.91 82.41 L186.09 82.09 L186.27 81.78 L186.45 81.45 L186.63 81.13 L186.81 80.8 L186.99 80.46 L187.17 80.13 L187.35 79.78 L187.53 79.44 L187.71 79.09 L187.89 78.73 L188.07 78.37 L188.25 78.01 L188.43 77.64 L188.61 77.27 L188.78 76.89 L188.96 76.51 L189.14 76.13 L189.32 75.73 L189.5 75.34 L189.68 74.94 L189.86 74.53 L190.04 74.12 L190.22 73.7 L190.4 73.27 L190.58 72.85 L190.76 72.41 L190.94 71.97 L191.12 71.52 L191.3 71.07 L191.48 70.61 L191.66 70.15 L191.84 69.67 L192.02 69.2 L192.2 68.71 L192.38 68.22 L192.56 67.72 L192.74 67.21 L192.92 66.7 L193.1 66.17 L193.28 65.64 L193.46 65.11 L193.64 64.56 L193.82 64 L194 63.44 L194.18 62.87 L194.36 62.29 L194.54 61.69 L194.72 61.09 L194.9 60.48 L195.08 59.86 L195.26 59.23 L195.44 58.59 L195.62 57.94 L195.8 57.27 L195.98 56.6 L196.16 55.91 L196.34 55.22 L196.52 54.51 L196.7 53.78 L196.88 53.05 L197.06 52.3 L197.24 51.54 L197.42 50.77 L197.6 49.98 L197.78 49.18 L197.96 48.36 L198.14 47.53 L198.32 46.69 L198.5 45.83 L198.68 44.95 L198.86 44.06 L199.04 43.16 L199.22 42.24 L199.4 41.3 L199.58 40.35 L199.76 39.39 L199.94 38.4 L200.12 37.4 L200.3 36.39 L200.48 35.35 L200.66 34.3 L200.84 33.24 L201.02 32.16 L201.2 31.06 L201.38 29.95 L201.56 28.81 L201.74 27.67 L201.92 26.5 L202.1 25.32 L202.28 24.13 L202.46 22.92 L202.64 21.69 L202.82 20.45 L203 19.19" fill="none" stroke="#00ff00" stroke-width="2.05" stroke-linecap="round" stroke-dasharray="0.15 2.8" stroke-dashoffset="-1.6"/>
<path d="M59.05 19.19 L59.23 20.23 L59.41 21.26 L59.59 22.27 L59.77 23.28 L59.95 24.27 L60.13 25.25 L60.31 26.22 L60.49 27.18 L60.67 28.12 L60.85 29.05 L61.03 29.97 L61.21 30.87 L61.39 31.76 L61.57 32.63 L61.75 33.49 L61.93 34.33 L62.11 35.17 L62.29 35.98 L62.47 36.78 L62.65 37.56 L62.83 38.33 L63.01 39.09 L63.19 39.83 L63.37 40.55 L63.55 41.26 L63.73 41.95 L63.91 42.62 L64.09 43.28 L64.27 43.93 L64.45 44.55 L64.63 45.17 L64.81 45.76 L64.99 46.35 L65.17 46.91 L65.35 47.47 L65.53 48.01 L65.71 48.53 L65.89 49.04 L66.07 49.53 L66.25 50.01 L66.43 50.48 L66.61 50.94 L66.79 51.38 L66.97 51.81 L67.15 52.22 L67.33 52.63 L67.51 53.02 L67.69 53.4 L67.87 53.77 L68.05 54.13 L68.23 54.48 L68.41 54.81 L68.59 55.14 L68.77 55.46 L68.95 55.77 L69.13 56.07 L69.31 56.36 L69.49 56.64 L69.67 56.91 L69.85 57.18 L70.03 57.43 L70.21 57.69 L70.39 57.93 L70.57 58.17 L70.75 58.4 L70.93 58.62 L71.11 58.84 L71.29 59.05 L71.47 59.25 L71.65 59.46 L71.83 59.65 L72.01 59.84 L72.19 60.03 L72.37 60.21 L72.55 60.38 L72.73 60.56 L72.91 60.72 L73.09 60.89 L73.27 61.05 L73.44 61.2 L73.62 61.36 L73.8 61.51 L73.98 61.65 L74.16 61.8 L74.34 61.94 L74.52 62.07 L74.7 62.21 L74.88 62.34 L75.06 62.47 L75.24 62.6 L75.42 62.72 L75.6 62.84 L75.78 62.96 L75.96 63.08 L76.14 63.2 L76.32 63.31 L76.5 63.42 L76.68 63.53 L76.86 63.64 L77.04 63.75 L77.22 63.86 L77.4 63.96 L77.58 64.06 L77.76 64.16 L77.94 64.26 L78.12 64.36 L78.3 64.46 L78.48 64.55 L78.66 64.65 L78.84 64.74 L79.02 64.83 L79.2 64.92 L79.38 65.01 L79.56 65.1 L79.74 65.19 L79.92 65.28 L80.1 65.36 L80.28 65.45 L80.46 65.53 L80.64 65.61 L80.82 65.7 L81 65.78 L81.18 65.86 L81.36 65.94 L81.54 66.02 L81.72 66.1 L81.9 66.17 L82.08 66.25 L82.26 66.32 L82.44 66.4 L82.62 66.47 L82.8 66.55 L82.98 66.62 L83.16 66.69 L83.34 66.77 L83.52 66.84 L83.7 66.91 L83.88 66.98 L84.06 67.05 L84.24 67.11 L84.42 67.18 L84.6 67.25 L84.78 67.32 L84.96 67.38 L85.14 67.45 L85.32 67.51 L85.5 67.58 L85.68 67.64 L85.86 67.71 L86.04 67.77 L86.22 67.83 L86.4 67.89 L86.58 67.96 L86.76 68.02 L86.94 68.08 L87.12 68.14 L87.3 68.2 L87.48 68.26 L87.66 68.31 L87.84 68.37 L88.02 68.43 L88.2 68.49 L88.38 68.54 L88.56 68.6 L88.74 68.66 L88.92 68.71 L89.1 68.77 L89.28 68.82 L89.46 68.88 L89.64 68.93 L89.82 68.98 L90 69.03 L90.18 69.09 L90.36 69.14 L90.54 69.19 L90.72 69.24 L90.9 69.29 L91.08 69.34 L91.26 69.39 L91.44 69.44 L91.62 69.49 L91.8 69.54 L91.98 69.59 L92.16 69.64 L92.34 69.68 L92.52 69.73 L92.7 69.78 L92.88 69.82 L93.06 69.87 L93.24 69.92 L93.42 69.96 L93.6 70.01 L93.78 70.05 L93.96 70.09 L94.14 70.14 L94.32 70.18 L94.5 70.22 L94.68 70.27 L94.86 70.31 L95.04 70.35 L95.22 70.39 L95.4 70.43 L95.58 70.48 L95.76 70.52 L95.94 70.56 L96.12 70.6 L96.3 70.64 L96.48 70.68 L96.66 70.71 L96.84 70.75 L97.02 70.79 L97.2 70.83 L97.38 70.87 L97.56 70.9 L97.74 70.94 L97.92 70.98 L98.1 71.01 L98.28 71.05 L98.46 71.09 L98.64 71.12 L98.82 71.16 L99 71.19 L99.18 71.23 L99.36 71.26 L99.54 71.29 L99.72 71.33 L99.9 71.36 L100.08 71.39 L100.26 71.43 L100.44 71.46 L100.62 71.49 L100.8 71.52 L100.98 71.55 L101.16 71.58 L101.34 71.62 L101.52 71.65 L101.7 71.68 L101.88 71.71 L102.06 71.74 L102.23 71.77 L102.41 71.8 L102.59 71.82 L102.77 71.85 L102.95 71.88 L103.13 71.91 L103.31 71.94 L103.49 71.96 L103.67 71.99 L103.85 72.02 L104.03 72.05 L104.21 72.07 L104.39 72.1 L104.57 72.13 L104.75 72.15 L104.93 72.18 L105.11 72.2 L105.29 72.23 L105.47 72.25 L105.65 72.28 L105.83 72.3 L106.01 72.32 L106.19 72.35 L106.37 72.37 L106.55 72.4 L106.73 72.42 L106.91 72.44 L107.09 72.46 L107.27 72.49 L107.45 72.51 L107.63 72.53 L107.81 72.55 L107.99 72.57 L108.17 72.6 L108.35 72.62 L108.53 72.64 L108.71 72.66 L108.89 72.68 L109.07 72.7 L109.25 72.72 L109.43 72.74 L109.61 72.76 L109.79 72.78 L109.97 72.8 L110.15 72.82 L110.33 72.83 L110.51 72.85 L110.69 72.87 L110.87 72.89 L111.05 72.91 L111.23 72.92 L111.41 72.94 L111.59 72.96 L111.77 72.98 L111.95 72.99 L112.13 73.01 L112.31 73.03 L112.49 73.04 L112.67 73.06 L112.85 73.07 L113.03 73.09 L113.21 73.11 L113.39 73.12 L113.57 73.14 L113.75 73.15 L113.93 73.17 L114.11 73.18 L114.29 73.19 L114.47 73.21 L114.65 73.22 L114.83 73.24 L115.01 73.25 L115.19 73.26 L115.37 73.28 L115.55 73.29 L115.73 73.3 L115.91 73.32 L116.09 73.33 L116.27 73.34 L116.45 73.35 L116.63 73.36 L116.81 73.38 L116.99 73.39 L117.17 73.4 L117.35 73.41 L117.53 73.42 L117.71 73.43 L117.89 73.44 L118.07 73.46 L118.25 73.47 L118.43 73.48 L118.61 73.49 L118.79 73.5 L118.97 73.51 L119.15 73.52 L119.33 73.53 L119.51 73.53 L119.69 73.54 L119.87 73.55 L120.05 73.56 L120.23 73.57 L120.41 73.58 L120.59 73.59 L120.77 73.6 L120.95 73.6 L121.13 73.61 L121.31 73.62 L121.49 73.63 L121.67 73.64 L121.85 73.64 L122.03 73.65 L122.21 73.66 L122.39 73.66 L122.57 73.67 L122.75 73.68 L122.93 73.68 L123.11 73.69 L123.29 73.7 L123.47 73.7 L123.65 73.71 L123.83 73.71 L124.01 73.72 L124.19 73.72 L124.37 73.73 L124.55 73.73 L124.73 73.74 L124.91 73.74 L125.09 73.75 L125.27 73.75 L125.45 73.76 L125.63 73.76 L125.81 73.77 L125.99 73.77 L126.17 73.77 L126.35 73.78 L126.53 73.78 L126.71 73.79 L126.89 73.79 L127.07 73.79 L127.25 73.79 L127.43 73.8 L127.61 73.8 L127.79 73.8 L127.97 73.81 L128.15 73.81 L128.33 73.81 L128.51 73.81 L128.69 73.81 L128.87 73.82 L129.05 73.82 L129.23 73.82 L129.41 73.82 L129.59 73.82 L129.77 73.82 L129.95 73.82 L130.13 73.82 L130.31 73.82 L130.49 73.82 L130.67 73.82 L130.85 73.83 L131.02 73.83 L131.2 73.83 L131.38 73.82 L131.56 73.82 L131.74 73.82 L131.92 73.82 L132.1 73.82 L132.28 73.82 L132.46 73.82 L132.64 73.82 L132.82 73.82 L133 73.82 L133.18 73.82 L133.36 73.81 L133.54 73.81 L133.72 73.81 L133.9 73.81 L134.08 73.81 L134.26 73.8 L134.44 73.8 L134.62 73.8 L134.8 73.79 L134.98 73.79 L135.16 73.79 L135.34 73.79 L135.52 73.78 L135.7 73.78 L135.88 73.77 L136.06 73.77 L136.24 73.77 L136.42 73.76 L136.6 73.76 L136.78 73.75 L136.96 73.75 L137.14 73.74 L137.32 73.74 L137.5 73.73 L137.68 73.73 L137.86 73.72 L138.04 73.72 L138.22 73.71 L138.4 73.71 L138.58 73.7 L138.76 73.7 L138.94 73.69 L139.12 73.68 L139.3 73.68 L139.48 73.67 L139.66 73.66 L139.84 73.66 L140.02 73.65 L140.2 73.64 L140.38 73.64 L140.56 73.63 L140.74 73.62 L140.92 73.61 L141.1 73.6 L141.28 73.6 L141.46 73.59 L141.64 73.58 L141.82 73.57 L142 73.56 L142.18 73.55 L142.36 73.54 L142.54 73.53 L142.72 73.53 L142.9 73.52 L143.08 73.51 L143.26 73.5 L143.44 73.49 L143.62 73.48 L143.8 73.47 L143.98 73.46 L144.16 73.44 L144.34 73.43 L144.52 73.42 L144.7 73.41 L144.88 73.4 L145.06 73.39 L145.24 73.38 L145.42 73.36 L145.6 73.35 L145.78 73.34 L145.96 73.33 L146.14 73.32 L146.32 73.3 L146.5 73.29 L146.68 73.28 L146.86 73.26 L147.04 73.25 L147.22 73.24 L147.4 73.22 L147.58 73.21 L147.76 73.19 L147.94 73.18 L148.12 73.17 L148.3 73.15 L148.48 73.14 L148.66 73.12 L148.84 73.11 L149.02 73.09 L149.2 73.07 L149.38 73.06 L149.56 73.04 L149.74 73.03 L149.92 73.01 L150.1 72.99 L150.28 72.98 L150.46 72.96 L150.64 72.94 L150.82 72.92 L151 72.91 L151.18 72.89 L151.36 72.87 L151.54 72.85 L151.72 72.83 L151.9 72.82 L152.08 72.8 L152.26 72.78 L152.44 72.76 L152.62 72.74 L152.8 72.72 L152.98 72.7 L153.16 72.68 L153.34 72.66 L153.52 72.64 L153.7 72.62 L153.88 72.6 L154.06 72.57 L154.24 72.55 L154.42 72.53 L154.6 72.51 L154.78 72.49 L154.96 72.46 L155.14 72.44 L155.32 72.42 L155.5 72.4 L155.68 72.37 L155.86 72.35 L156.04 72.32 L156.22 72.3 L156.4 72.28 L156.58 72.25 L156.76 72.23 L156.94 72.2 L157.12 72.18 L157.3 72.15 L157.48 72.13 L157.66 72.1 L157.84 72.07 L158.02 72.05 L158.2 72.02 L158.38 71.99 L158.56 71.96 L158.74 71.94 L158.92 71.91 L159.1 71.88 L159.28 71.85 L159.46 71.82 L159.64 71.8 L159.81 71.77 L159.99 71.74 L160.17 71.71 L160.35 71.68 L160.53 71.65 L160.71 71.62 L160.89 71.58 L161.07 71.55 L161.25 71.52 L161.43 71.49 L161.61 71.46 L161.79 71.43 L161.97 71.39 L162.15 71.36 L162.33 71.33 L162.51 71.29 L162.69 71.26 L162.87 71.23 L163.05 71.19 L163.23 71.16 L163.41 71.12 L163.59 71.09 L163.77 71.05 L163.95 71.01 L164.13 70.98 L164.31 70.94 L164.49 70.9 L164.67 70.87 L164.85 70.83 L165.03 70.79 L165.21 70.75 L165.39 70.71 L165.57 70.68 L165.75 70.64 L165.93 70.6 L166.11 70.56 L166.29 70.52 L166.47 70.48 L166.65 70.43 L166.83 70.39 L167.01 70.35 L167.19 70.31 L167.37 70.27 L167.55 70.22 L167.73 70.18 L167.91 70.14 L168.09 70.09 L168.27 70.05 L168.45 70.01 L168.63 69.96 L168.81 69.92 L168.99 69.87 L169.17 69.82 L169.35 69.78 L169.53 69.73 L169.71 69.68 L169.89 69.64 L170.07 69.59 L170.25 69.54 L170.43 69.49 L170.61 69.44 L170.79 69.39 L170.97 69.34 L171.15 69.29 L171.33 69.24 L171.51 69.19 L171.69 69.14 L171.87 69.09 L172.05 69.03 L172.23 68.98 L172.41 68.93 L172.59 68.88 L172.77 68.82 L172.95 68.77 L173.13 68.71 L173.31 68.66 L173.49 68.6 L173.67 68.54 L173.85 68.49 L174.03 68.43 L174.21 68.37 L174.39 68.31 L174.57 68.26 L174.75 68.2 L174.93 68.14 L175.11 68.08 L175.29 68.02 L175.47 67.96 L175.65 67.89 L175.83 67.83 L176.01 67.77 L176.19 67.71 L176.37 67.64 L176.55 67.58 L176.73 67.51 L176.91 67.45 L177.09 67.38 L177.27 67.32 L177.45 67.25 L177.63 67.18 L177.81 67.11 L177.99 67.05 L178.17 66.98 L178.35 66.91 L178.53 66.84 L178.71 66.77 L178.89 66.69 L179.07 66.62 L179.25 66.55 L179.43 66.47 L179.61 66.4 L179.79 66.32 L179.97 66.25 L180.15 66.17 L180.33 66.1 L180.51 66.02 L180.69 65.94 L180.87 65.86 L181.05 65.78 L181.23 65.7 L181.41 65.61 L181.59 65.53 L181.77 65.45 L181.95 65.36 L182.13 65.28 L182.31 65.19 L182.49 65.1 L182.67 65.01 L182.85 64.92 L183.03 64.83 L183.21 64.74 L183.39 64.65 L183.57 64.55 L183.75 64.46 L183.93 64.36 L184.11 64.26 L184.29 64.16 L184.47 64.06 L184.65 63.96 L184.83 63.86 L185.01 63.75 L185.19 63.64 L185.37 63.53 L185.55 63.42 L185.73 63.31 L185.91 63.2 L186.09 63.08 L186.27 62.96 L186.45 62.84 L186.63 62.72 L186.81 62.6 L186.99 62.47 L187.17 62.34 L187.35 62.21 L187.53 62.07 L187.71 61.94 L187.89 61.8 L188.07 61.65 L188.25 61.51 L188.43 61.36 L188.61 61.2 L188.78 61.05 L188.96 60.89 L189.14 60.72 L189.32 60.56 L189.5 60.38 L189.68 60.21 L189.86 60.03 L190.04 59.84 L190.22 59.65 L190.4 59.46 L190.58 59.25 L190.76 59.05 L190.94 58.84 L191.12 58.62 L191.3 58.4 L191.48 58.17 L191.66 57.93 L191.84 57.69 L192.02 57.43 L192.2 57.18 L192.38 56.91 L192.56 56.64 L192.74 56.36 L192.92 56.07 L193.1 55.77 L193.28 55.46 L193.46 55.14 L193.64 54.81 L193.82 54.48 L194 54.13 L194.18 53.77 L194.36 53.4 L194.54 53.02 L194.72 52.63 L194.9 52.22 L195.08 51.81 L195.26 51.38 L195.44 50.94 L195.62 50.48 L195.8 50.01 L195.98 49.53 L196.16 49.04 L196.34 48.53 L196.52 48.01 L196.7 47.47 L196.88 46.91 L197.06 46.35 L197.24 45.76 L197.42 45.17 L197.6 44.55 L197.78 43.93 L197.96 43.28 L198.14 42.62 L198.32 41.95 L198.5 41.26 L198.68 40.55 L198.86 39.83 L199.04 39.09 L199.22 38.33 L199.4 37.56 L199.58 36.78 L199.76 35.98 L199.94 35.17 L200.12 34.33 L200.3 33.49 L200.48 32.63 L200.66 31.76 L200.84 30.87 L201.02 29.97 L201.2 29.05 L201.38 28.12 L201.56 27.18 L201.74 26.22 L201.92 25.25 L202.1 24.27 L202.28 23.28 L202.46 22.27 L202.64 21.26 L202.82 20.23 L203 19.19" fill="none" stroke="#ff0000" stroke-width="1.9" stroke-linejoin="round" stroke-linecap="butt"/>
<path d="M59.05 14H203V215.6H59.05ZM59.05 215.6v-3.2M59.05 14v3.2M95.04 215.6v-3.2M95.04 14v3.2M131.02 215.6v-3.2M131.02 14v3.2M167.01 215.6v-3.2M167.01 14v3.2M203 215.6v-3.2M203 14v3.2M59.05 54.3h3.2M203 54.3h-3.2M59.05 104.53h3.2M203 104.53h-3.2M59.05 154.76h3.2M203 154.76h-3.2M59.05 204.99h3.2M203 204.99h-3.2" fill="none" stroke="#000" stroke-width="0.8"/>
<text x="57.41" y="231.5" font-size="12">0</text>
<text x="93.4" y="231.5" font-size="12">5</text>
<path transform="translate(126.05 231.5) scale(0.005859 -0.005859)" d="M515 0V1237L197 1010V1180L530 1409H696V0Z"/><text x="132.72" y="231.5" font-size="12">0</text>
<path transform="translate(162.04 231.5) scale(0.005859 -0.005859)" d="M515 0V1237L197 1010V1180L530 1409H696V0Z"/><text x="168.71" y="231.5" font-size="12">5</text>
<text x="198.03" y="231.5" font-size="12">20</text>
<text x="41.38" y="58" font-size="12">-</text><path transform="translate(45.38 58) scale(0.005859 -0.005859)" d="M515 0V1237L197 1010V1180L530 1409H696V0Z"/>
<text x="41.38" y="108.23" font-size="12">-2</text>
<text x="41.38" y="158.46" font-size="12">-3</text>
<text x="41.38" y="208.69" font-size="12">-4</text>
<path d="M258.3 16.53a2.2 2.2 0 1 0 4.4 0a2.2 2.2 0 1 0 -4.4 0M258.44 17.18a2.2 2.2 0 1 0 4.4 0a2.2 2.2 0 1 0 -4.4 0M258.59 17.84a2.2 2.2 0 1 0 4.4 0a2.2 2.2 0 1 0 -4.4 0M258.73 18.49a2.2 2.2 0 1 0 4.4 0a2.2 2.2 0 1 0 -4.4 0M258.88 19.14a2.2 2.2 0 1 0 4.4 0a2.2 2.2 0 1 0 -4.4 0M259.02 19.78a2.2 2.2 0 1 0 4.4 0a2.2 2.2 0 1 0 -4.4 0M259.16 20.43a2.2 2.2 0 1 0 4.4 0a2.2 2.2 0 1 0 -4.4 0M259.31 21.08a2.2 2.2 0 1 0 4.4 0a2.2 2.2 0 1 0 -4.4 0M259.45 21.72a2.2 2.2 0 1 0 4.4 0a2.2 2.2 0 1 0 -4.4 0M259.6 22.36a2.2 2.2 0 1 0 4.4 0a2.2 2.2 0 1 0 -4.4 0M259.74 23a2.2 2.2 0 1 0 4.4 0a2.2 2.2 0 1 0 -4.4 0M259.88 23.64a2.2 2.2 0 1 0 4.4 0a2.2 2.2 0 1 0 -4.4 0M260.03 24.28a2.2 2.2 0 1 0 4.4 0a2.2 2.2 0 1 0 -4.4 0M260.17 24.91a2.2 2.2 0 1 0 4.4 0a2.2 2.2 0 1 0 -4.4 0M260.32 25.54a2.2 2.2 0 1 0 4.4 0a2.2 2.2 0 1 0 -4.4 0M260.46 26.18a2.2 2.2 0 1 0 4.4 0a2.2 2.2 0 1 0 -4.4 0M260.6 26.81a2.2 2.2 0 1 0 4.4 0a2.2 2.2 0 1 0 -4.4 0M260.75 27.43a2.2 2.2 0 1 0 4.4 0a2.2 2.2 0 1 0 -4.4 0M260.89 28.06a2.2 2.2 0 1 0 4.4 0a2.2 2.2 0 1 0 -4.4 0M261.04 28.68a2.2 2.2 0 1 0 4.4 0a2.2 2.2 0 1 0 -4.4 0M261.18 29.3a2.2 2.2 0 1 0 4.4 0a2.2 2.2 0 1 0 -4.4 0M261.32 29.92a2.2 2.2 0 1 0 4.4 0a2.2 2.2 0 1 0 -4.4 0M261.47 30.54a2.2 2.2 0 1 0 4.4 0a2.2 2.2 0 1 0 -4.4 0M261.61 31.15a2.2 2.2 0 1 0 4.4 0a2.2 2.2 0 1 0 -4.4 0M261.76 31.77a2.2 2.2 0 1 0 4.4 0a2.2 2.2 0 1 0 -4.4 0M261.9 32.38a2.2 2.2 0 1 0 4.4 0a2.2 2.2 0 1 0 -4.4 0M262.04 32.99a2.2 2.2 0 1 0 4.4 0a2.2 2.2 0 1 0 -4.4 0M262.19 33.59a2.2 2.2 0 1 0 4.4 0a2.2 2.2 0 1 0 -4.4 0M262.33 34.2a2.2 2.2 0 1 0 4.4 0a2.2 2.2 0 1 0 -4.4 0M262.48 34.8a2.2 2.2 0 1 0 4.4 0a2.2 2.2 0 1 0 -4.4 0M262.62 35.4a2.2 2.2 0 1 0 4.4 0a2.2 2.2 0 1 0 -4.4 0M262.76 35.99a2.2 2.2 0 1 0 4.4 0a2.2 2.2 0 1 0 -4.4 0M262.91 36.59a2.2 2.2 0 1 0 4.4 0a2.2 2.2 0 1 0 -4.4 0M263.05 37.18a2.2 2.2 0 1 0 4.4 0a2.2 2.2 0 1 0 -4.4 0M263.2 37.77a2.2 2.2 0 1 0 4.4 0a2.2 2.2 0 1 0 -4.4 0M263.34 38.36a2.2 2.2 0 1 0 4.4 0a2.2 2.2 0 1 0 -4.4 0M263.48 38.94a2.2 2.2 0 1 0 4.4 0a2.2 2.2 0 1 0 -4.4 0M263.63 39.52a2.2 2.2 0 1 0 4.4 0a2.2 2.2 0 1 0 -4.4 0M263.77 40.1a2.2 2.2 0 1 0 4.4 0a2.2 2.2 0 1 0 -4.4 0M263.92 40.68a2.2 2.2 0 1 0 4.4 0a2.2 2.2 0 1 0 -4.4 0M264.06 41.25a2.2 2.2 0 1 0 4.4 0a2.2 2.2 0 1 0 -4.4 0M264.2 41.82a2.2 2.2 0 1 0 4.4 0a2.2 2.2 0 1 0 -4.4 0M264.35 42.39a2.2 2.2 0 1 0 4.4 0a2.2 2.2 0 1 0 -4.4 0M264.49 42.95a2.2 2.2 0 1 0 4.4 0a2.2 2.2 0 1 0 -4.4 0M264.64 43.52a2.2 2.2 0 1 0 4.4 0a2.2 2.2 0 1 0 -4.4 0M264.78 44.08a2.2 2.2 0 1 0 4.4 0a2.2 2.2 0 1 0 -4.4 0M264.92 44.63a2.2 2.2 0 1 0 4.4 0a2.2 2.2 0 1 0 -4.4 0M265.07 45.19a2.2 2.2 0 1 0 4.4 0a2.2 2.2 0 1 0 -4.4 0M265.21 45.74a2.2 2.2 0 1 0 4.4 0a2.2 2.2 0 1 0 -4.4 0M265.36 46.29a2.2 2.2 0 1 0 4.4 0a2.2 2.2 0 1 0 -4.4 0M265.5 46.83a2.2 2.2 0 1 0 4.4 0a2.2 2.2 0 1 0 -4.4 0M265.64 47.37a2.2 2.2 0 1 0 4.4 0a2.2 2.2 0 1 0 -4.4 0M265.79 47.91a2.2 2.2 0 1 0 4.4 0a2.2 2.2 0 1 0 -4.4 0M265.93 48.45a2.2 2.2 0 1 0 4.4 0a2.2 2.2 0 1 0 -4.4 0M266.08 48.98a2.2 2.2 0 1 0 4.4 0a2.2 2.2 0 1 0 -4.4 0M266.22 49.51a2.2 2.2 0 1 0 4.4 0a2.2 2.2 0 1 0 -4.4 0M266.36 50.04a2.2 2.2 0 1 0 4.4 0a2.2 2.2 0 1 0 -4.4 0M266.51 50.56a2.2 2.2 0 1 0 4.4 0a2.2 2.2 0 1 0 -4.4 0M266.65 51.08a2.2 2.2 0 1 0 4.4 0a2.2 2.2 0 1 0 -4.4 0M266.8 51.6a2.2 2.2 0 1 0 4.4 0a2.2 2.2 0 1 0 -4.4 0M266.94 52.11a2.2 2.2 0 1 0 4.4 0a2.2 2.2 0 1 0 -4.4 0M267.08 52.62a2.2 2.2 0 1 0 4.4 0a2.2 2.2 0 1 0 -4.4 0M267.23 53.13a2.2 2.2 0 1 0 4.4 0a2.2 2.2 0 1 0 -4.4 0M267.37 53.64a2.2 2.2 0 1 0 4.4 0a2.2 2.2 0 1 0 -4.4 0M267.52 54.14a2.2 2.2 0 1 0 4.4 0a2.2 2.2 0 1 0 -4.4 0M267.66 54.64a2.2 2.2 0 1 0 4.4 0a2.2 2.2 0 1 0 -4.4 0M267.8 55.13a2.2 2.2 0 1 0 4.4 0a2.2 2.2 0 1 0 -4.4 0M267.95 55.62a2.2 2.2 0 1 0 4.4 0a2.2 2.2 0 1 0 -4.4 0M268.09 56.11a2.2 2.2 0 1 0 4.4 0a2.2 2.2 0 1 0 -4.4 0M268.24 56.6a2.2 2.2 0 1 0 4.4 0a2.2 2.2 0 1 0 -4.4 0M268.38 57.08a2.2 2.2 0 1 0 4.4 0a2.2 2.2 0 1 0 -4.4 0M268.52 57.56a2.2 2.2 0 1 0 4.4 0a2.2 2.2 0 1 0 -4.4 0M268.67 58.04a2.2 2.2 0 1 0 4.4 0a2.2 2.2 0 1 0 -4.4 0M268.81 58.51a2.2 2.2 0 1 0 4.4 0a2.2 2.2 0 1 0 -4.4 0M268.96 58.98a2.2 2.2 0 1 0 4.4 0a2.2 2.2 0 1 0 -4.4 0M269.1 59.45a2.2 2.2 0 1 0 4.4 0a2.2 2.2 0 1 0 -4.4 0M269.24 59.92a2.2 2.2 0 1 0 4.4 0a2.2 2.2 0 1 0 -4.4 0M269.39 60.38a2.2 2.2 0 1 0 4.4 0a2.2 2.2 0 1 0 -4.4 0M269.53 60.84a2.2 2.2 0 1 0 4.4 0a2.2 2.2 0 1 0 -4.4 0M269.68 61.29a2.2 2.2 0 1 0 4.4 0a2.2 2.2 0 1 0 -4.4 0M269.82 61.75a2.2 2.2 0 1 0 4.4 0a2.2 2.2 0 1 0 -4.4 0M269.96 62.2a2.2 2.2 0 1 0 4.4 0a2.2 2.2 0 1 0 -4.4 0M270.11 62.64a2.2 2.2 0 1 0 4.4 0a2.2 2.2 0 1 0 -4.4 0M270.25 63.09a2.2 2.2 0 1 0 4.4 0a2.2 2.2 0 1 0 -4.4 0M270.4 63.53a2.2 2.2 0 1 0 4.4 0a2.2 2.2 0 1 0 -4.4 0M270.54 63.97a2.2 2.2 0 1 0 4.4 0a2.2 2.2 0 1 0 -4.4 0M270.68 64.4a2.2 2.2 0 1 0 4.4 0a2.2 2.2 0 1 0 -4.4 0M270.83 64.83a2.2 2.2 0 1 0 4.4 0a2.2 2.2 0 1 0 -4.4 0M270.97 65.26a2.2 2.2 0 1 0 4.4 0a2.2 2.2 0 1 0 -4.4 0M271.12 65.69a2.2 2.2 0 1 0 4.4 0a2.2 2.2 0 1 0 -4.4 0M271.26 66.11a2.2 2.2 0 1 0 4.4 0a2.2 2.2 0 1 0 -4.4 0M271.4 66.54a2.2 2.2 0 1 0 4.4 0a2.2 2.2 0 1 0 -4.4 0M271.55 66.96a2.2 2.2 0 1 0 4.4 0a2.2 2.2 0 1 0 -4.4 0M271.69 67.37a2.2 2.2 0 1 0 4.4 0a2.2 2.2 0 1 0 -4.4 0M271.84 67.79a2.2 2.2 0 1 0 4.4 0a2.2 2.2 0 1 0 -4.4 0M271.98 68.2a2.2 2.2 0 1 0 4.4 0a2.2 2.2 0 1 0 -4.4 0M272.12 68.61a2.2 2.2 0 1 0 4.4 0a2.2 2.2 0 1 0 -4.4 0M272.27 69.01a2.2 2.2 0 1 0 4.4 0a2.2 2.2 0 1 0 -4.4 0M272.41 69.42a2.2 2.2 0 1 0 4.4 0a2.2 2.2 0 1 0 -4.4 0M272.56 69.82a2.2 2.2 0 1 0 4.4 0a2.2 2.2 0 1 0 -4.4 0M272.7 70.22a2.2 2.2 0 1 0 4.4 0a2.2 2.2 0 1 0 -4.4 0M272.84 70.61a2.2 2.2 0 1 0 4.4 0a2.2 2.2 0 1 0 -4.4 0M272.99 71.01a2.2 2.2 0 1 0 4.4 0a2.2 2.2 0 1 0 -4.4 0M273.13 71.4a2.2 2.2 0 1 0 4.4 0a2.2 2.2 0 1 0 -4.4 0M273.28 71.79a2.2 2.2 0 1 0 4.4 0a2.2 2.2 0 1 0 -4.4 0M273.42 72.18a2.2 2.2 0 1 0 4.4 0a2.2 2.2 0 1 0 -4.4 0M273.56 72.56a2.2 2.2 0 1 0 4.4 0a2.2 2.2 0 1 0 -4.4 0M273.71 72.95a2.2 2.2 0 1 0 4.4 0a2.2 2.2 0 1 0 -4.4 0M273.85 73.33a2.2 2.2 0 1 0 4.4 0a2.2 2.2 0 1 0 -4.4 0M274 73.71a2.2 2.2 0 1 0 4.4 0a2.2 2.2 0 1 0 -4.4 0M274.14 74.08a2.2 2.2 0 1 0 4.4 0a2.2 2.2 0 1 0 -4.4 0M274.28 74.46a2.2 2.2 0 1 0 4.4 0a2.2 2.2 0 1 0 -4.4 0M274.43 74.83a2.2 2.2 0 1 0 4.4 0a2.2 2.2 0 1 0 -4.4 0M274.57 75.2a2.2 2.2 0 1 0 4.4 0a2.2 2.2 0 1 0 -4.4 0M274.72 75.57a2.2 2.2 0 1 0 4.4 0a2.2 2.2 0 1 0 -4.4 0M274.86 75.94a2.2 2.2 0 1 0 4.4 0a2.2 2.2 0 1 0 -4.4 0M275 76.31a2.2 2.2 0 1 0 4.4 0a2.2 2.2 0 1 0 -4.4 0M275.15 76.67a2.2 2.2 0 1 0 4.4 0a2.2 2.2 0 1 0 -4.4 0M275.29 77.03a2.2 2.2 0 1 0 4.4 0a2.2 2.2 0 1 0 -4.4 0M275.44 77.39a2.2 2.2 0 1 0 4.4 0a2.2 2.2 0 1 0 -4.4 0M275.58 77.75a2.2 2.2 0 1 0 4.4 0a2.2 2.2 0 1 0 -4.4 0M275.72 78.11a2.2 2.2 0 1 0 4.4 0a2.2 2.2 0 1 0 -4.4 0M275.87 78.47a2.2 2.2 0 1 0 4.4 0a2.2 2.2 0 1 0 -4.4 0M276.01 78.82a2.2 2.2 0 1 0 4.4 0a2.2 2.2 0 1 0 -4.4 0M276.16 79.17a2.2 2.2 0 1 0 4.4 0a2.2 2.2 0 1 0 -4.4 0M276.3 79.52a2.2 2.2 0 1 0 4.4 0a2.2 2.2 0 1 0 -4.4 0M276.44 79.86a2.2 2.2 0 1 0 4.4 0a2.2 2.2 0 1 0 -4.4 0M276.59 80.23a2.2 2.2 0 1 0 4.4 0a2.2 2.2 0 1 0 -4.4 0M276.73 80.62a2.2 2.2 0 1 0 4.4 0a2.2 2.2 0 1 0 -4.4 0M276.88 80.78a2.2 2.2 0 1 0 4.4 0a2.2 2.2 0 1 0 -4.4 0M277.02 81.05a2.2 2.2 0 1 0 4.4 0a2.2 2.2 0 1 0 -4.4 0M277.16 81.67a2.2 2.2 0 1 0 4.4 0a2.2 2.2 0 1 0 -4.4 0M277.31 82.04a2.2 2.2 0 1 0 4.4 0a2.2 2.2 0 1 0 -4.4 0M277.45 81.96a2.2 2.2 0 1 0 4.4 0a2.2 2.2 0 1 0 -4.4 0M277.6 82.44a2.2 2.2 0 1 0 4.4 0a2.2 2.2 0 1 0 -4.4 0M277.74 82.96a2.2 2.2 0 1 0 4.4 0a2.2 2.2 0 1 0 -4.4 0M277.88 83.4a2.2 2.2 0 1 0 4.4 0a2.2 2.2 0 1 0 -4.4 0M278.03 83.12a2.2 2.2 0 1 0 4.4 0a2.2 2.2 0 1 0 -4.4 0M278.17 83.92a2.2 2.2 0 1 0 4.4 0a2.2 2.2 0 1 0 -4.4 0M278.32 84.39a2.2 2.2 0 1 0 4.4 0a2.2 2.2 0 1 0 -4.4 0M278.46 84.45a2.2 2.2 0 1 0 4.4 0a2.2 2.2 0 1 0 -4.4 0M278.6 84.28a2.2 2.2 0 1 0 4.4 0a2.2 2.2 0 1 0 -4.4 0M278.75 84.35a2.2 2.2 0 1 0 4.4 0a2.2 2.2 0 1 0 -4.4 0M278.89 85.03a2.2 2.2 0 1 0 4.4 0a2.2 2.2 0 1 0 -4.4 0M279.04 86.08a2.2 2.2 0 1 0 4.4 0a2.2 2.2 0 1 0 -4.4 0M279.18 85.19a2.2 2.2 0 1 0 4.4 0a2.2 2.2 0 1 0 -4.4 0M279.32 85.37a2.2 2.2 0 1 0 4.4 0a2.2 2.2 0 1 0 -4.4 0M279.47 86.35a2.2 2.2 0 1 0 4.4 0a2.2 2.2 0 1 0 -4.4 0M279.61 86.05a2.2 2.2 0 1 0 4.4 0a2.2 2.2 0 1 0 -4.4 0M279.76 86.51a2.2 2.2 0 1 0 4.4 0a2.2 2.2 0 1 0 -4.4 0M279.9 86.48a2.2 2.2 0 1 0 4.4 0a2.2 2.2 0 1 0 -4.4 0M280.04 87.9a2.2 2.2 0 1 0 4.4 0a2.2 2.2 0 1 0 -4.4 0M280.19 88.58a2.2 2.2 0 1 0 4.4 0a2.2 2.2 0 1 0 -4.4 0M280.33 88.39a2.2 2.2 0 1 0 4.4 0a2.2 2.2 0 1 0 -4.4 0M280.48 88.04a2.2 2.2 0 1 0 4.4 0a2.2 2.2 0 1 0 -4.4 0M280.62 88.84a2.2 2.2 0 1 0 4.4 0a2.2 2.2 0 1 0 -4.4 0M280.76 89.77a2.2 2.2 0 1 0 4.4 0a2.2 2.2 0 1 0 -4.4 0M280.91 90.89a2.2 2.2 0 1 0 4.4 0a2.2 2.2 0 1 0 -4.4 0M281.05 91.37a2.2 2.2 0 1 0 4.4 0a2.2 2.2 0 1 0 -4.4 0M281.2 89.92a2.2 2.2 0 1 0 4.4 0a2.2 2.2 0 1 0 -4.4 0M281.34 89.5a2.2 2.2 0 1 0 4.4 0a2.2 2.2 0 1 0 -4.4 0M281.48 92.09a2.2 2.2 0 1 0 4.4 0a2.2 2.2 0 1 0 -4.4 0M281.63 92.68a2.2 2.2 0 1 0 4.4 0a2.2 2.2 0 1 0 -4.4 0M281.77 91.83a2.2 2.2 0 1 0 4.4 0a2.2 2.2 0 1 0 -4.4 0M281.92 93.01a2.2 2.2 0 1 0 4.4 0a2.2 2.2 0 1 0 -4.4 0M282.06 93.61a2.2 2.2 0 1 0 4.4 0a2.2 2.2 0 1 0 -4.4 0M282.2 93.27a2.2 2.2 0 1 0 4.4 0a2.2 2.2 0 1 0 -4.4 0M282.35 94.35a2.2 2.2 0 1 0 4.4 0a2.2 2.2 0 1 0 -4.4 0M282.49 91.97a2.2 2.2 0 1 0 4.4 0a2.2 2.2 0 1 0 -4.4 0M282.64 93.21a2.2 2.2 0 1 0 4.4 0a2.2 2.2 0 1 0 -4.4 0M282.78 93.55a2.2 2.2 0 1 0 4.4 0a2.2 2.2 0 1 0 -4.4 0M282.92 93.29a2.2 2.2 0 1 0 4.4 0a2.2 2.2 0 1 0 -4.4 0M283.07 96.24a2.2 2.2 0 1 0 4.4 0a2.2 2.2 0 1 0 -4.4 0M283.21 93.49a2.2 2.2 0 1 0 4.4 0a2.2 2.2 0 1 0 -4.4 0M283.36 96.19a2.2 2.2 0 1 0 4.4 0a2.2 2.2 0 1 0 -4.4 0M283.5 94.28a2.2 2.2 0 1 0 4.4 0a2.2 2.2 0 1 0 -4.4 0M283.64 95.77a2.2 2.2 0 1 0 4.4 0a2.2 2.2 0 1 0 -4.4 0M283.79 96.3a2.2 2.2 0 1 0 4.4 0a2.2 2.2 0 1 0 -4.4 0M283.93 95.68a2.2 2.2 0 1 0 4.4 0a2.2 2.2 0 1 0 -4.4 0M284.08 97.34a2.2 2.2 0 1 0 4.4 0a2.2 2.2 0 1 0 -4.4 0M284.22 97.72a2.2 2.2 0 1 0 4.4 0a2.2 2.2 0 1 0 -4.4 0M284.36 97.19a2.2 2.2 0 1 0 4.4 0a2.2 2.2 0 1 0 -4.4 0M284.51 99.15a2.2 2.2 0 1 0 4.4 0a2.2 2.2 0 1 0 -4.4 0M284.65 97.11a2.2 2.2 0 1 0 4.4 0a2.2 2.2 0 1 0 -4.4 0M284.8 97.57a2.2 2.2 0 1 0 4.4 0a2.2 2.2 0 1 0 -4.4 0M284.94 98.61a2.2 2.2 0 1 0 4.4 0a2.2 2.2 0 1 0 -4.4 0M285.08 99.03a2.2 2.2 0 1 0 4.4 0a2.2 2.2 0 1 0 -4.4 0M285.23 98.55a2.2 2.2 0 1 0 4.4 0a2.2 2.2 0 1 0 -4.4 0M285.37 101.93a2.2 2.2 0 1 0 4.4 0a2.2 2.2 0 1 0 -4.4 0M285.52 101.91a2.2 2.2 0 1 0 4.4 0a2.2 2.2 0 1 0 -4.4 0M285.66 98.94a2.2 2.2 0 1 0 4.4 0a2.2 2.2 0 1 0 -4.4 0M285.8 100.57a2.2 2.2 0 1 0 4.4 0a2.2 2.2 0 1 0 -4.4 0M285.95 100.21a2.2 2.2 0 1 0 4.4 0a2.2 2.2 0 1 0 -4.4 0M286.09 101.59a2.2 2.2 0 1 0 4.4 0a2.2 2.2 0 1 0 -4.4 0M286.24 101.05a2.2 2.2 0 1 0 4.4 0a2.2 2.2 0 1 0 -4.4 0M286.38 102.48a2.2 2.2 0 1 0 4.4 0a2.2 2.2 0 1 0 -4.4 0M286.52 104.74a2.2 2.2 0 1 0 4.4 0a2.2 2.2 0 1 0 -4.4 0M286.67 102.53a2.2 2.2 0 1 0 4.4 0a2.2 2.2 0 1 0 -4.4 0M286.81 104.17a2.2 2.2 0 1 0 4.4 0a2.2 2.2 0 1 0 -4.4 0M286.96 104.23a2.2 2.2 0 1 0 4.4 0a2.2 2.2 0 1 0 -4.4 0M287.1 105.32a2.2 2.2 0 1 0 4.4 0a2.2 2.2 0 1 0 -4.4 0M287.24 101.88a2.2 2.2 0 1 0 4.4 0a2.2 2.2 0 1 0 -4.4 0M287.39 105.96a2.2 2.2 0 1 0 4.4 0a2.2 2.2 0 1 0 -4.4 0M287.53 107.28a2.2 2.2 0 1 0 4.4 0a2.2 2.2 0 1 0 -4.4 0M287.68 105.91a2.2 2.2 0 1 0 4.4 0a2.2 2.2 0 1 0 -4.4 0M287.82 104.49a2.2 2.2 0 1 0 4.4 0a2.2 2.2 0 1 0 -4.4 0M287.96 106.92a2.2 2.2 0 1 0 4.4 0a2.2 2.2 0 1 0 -4.4 0M288.11 107.46a2.2 2.2 0 1 0 4.4 0a2.2 2.2 0 1 0 -4.4 0M288.25 107.5a2.2 2.2 0 1 0 4.4 0a2.2 2.2 0 1 0 -4.4 0M288.4 104.8a2.2 2.2 0 1 0 4.4 0a2.2 2.2 0 1 0 -4.4 0M288.54 109.85a2.2 2.2 0 1 0 4.4 0a2.2 2.2 0 1 0 -4.4 0M288.68 110.1a2.2 2.2 0 1 0 4.4 0a2.2 2.2 0 1 0 -4.4 0M288.83 107.46a2.2 2.2 0 1 0 4.4 0a2.2 2.2 0 1 0 -4.4 0M288.97 108.78a2.2 2.2 0 1 0 4.4 0a2.2 2.2 0 1 0 -4.4 0M289.12 105.43a2.2 2.2 0 1 0 4.4 0a2.2 2.2 0 1 0 -4.4 0M289.26 111.66a2.2 2.2 0 1 0 4.4 0a2.2 2.2 0 1 0 -4.4 0M289.4 111.06a2.2 2.2 0 1 0 4.4 0a2.2 2.2 0 1 0 -4.4 0M289.55 110.33a2.2 2.2 0 1 0 4.4 0a2.2 2.2 0 1 0 -4.4 0M289.69 111.39a2.2 2.2 0 1 0 4.4 0a2.2 2.2 0 1 0 -4.4 0M289.84 108.04a2.2 2.2 0 1 0 4.4 0a2.2 2.2 0 1 0 -4.4 0M289.98 109.18a2.2 2.2 0 1 0 4.4 0a2.2 2.2 0 1 0 -4.4 0M290.12 109.05a2.2 2.2 0 1 0 4.4 0a2.2 2.2 0 1 0 -4.4 0M290.27 111.7a2.2 2.2 0 1 0 4.4 0a2.2 2.2 0 1 0 -4.4 0M290.41 108.45a2.2 2.2 0 1 0 4.4 0a2.2 2.2 0 1 0 -4.4 0M290.56 114.21a2.2 2.2 0 1 0 4.4 0a2.2 2.2 0 1 0 -4.4 0M290.7 111.77a2.2 2.2 0 1 0 4.4 0a2.2 2.2 0 1 0 -4.4 0M290.84 111.97a2.2 2.2 0 1 0 4.4 0a2.2 2.2 0 1 0 -4.4 0M290.99 109.73a2.2 2.2 0 1 0 4.4 0a2.2 2.2 0 1 0 -4.4 0M291.13 114.19a2.2 2.2 0 1 0 4.4 0a2.2 2.2 0 1 0 -4.4 0M291.28 115.35a2.2 2.2 0 1 0 4.4 0a2.2 2.2 0 1 0 -4.4 0M291.42 114.46a2.2 2.2 0 1 0 4.4 0a2.2 2.2 0 1 0 -4.4 0M291.56 112.05a2.2 2.2 0 1 0 4.4 0a2.2 2.2 0 1 0 -4.4 0M291.71 116.11a2.2 2.2 0 1 0 4.4 0a2.2 2.2 0 1 0 -4.4 0M291.85 111.89a2.2 2.2 0 1 0 4.4 0a2.2 2.2 0 1 0 -4.4 0M292 117.02a2.2 2.2 0 1 0 4.4 0a2.2 2.2 0 1 0 -4.4 0M292.14 115.71a2.2 2.2 0 1 0 4.4 0a2.2 2.2 0 1 0 -4.4 0M292.28 113.94a2.2 2.2 0 1 0 4.4 0a2.2 2.2 0 1 0 -4.4 0M292.43 115.87a2.2 2.2 0 1 0 4.4 0a2.2 2.2 0 1 0 -4.4 0M292.57 116.98a2.2 2.2 0 1 0 4.4 0a2.2 2.2 0 1 0 -4.4 0M292.72 114.62a2.2 2.2 0 1 0 4.4 0a2.2 2.2 0 1 0 -4.4 0M292.86 119.06a2.2 2.2 0 1 0 4.4 0a2.2 2.2 0 1 0 -4.4 0M293 116.46a2.2 2.2 0 1 0 4.4 0a2.2 2.2 0 1 0 -4.4 0M293.15 120a2.2 2.2 0 1 0 4.4 0a2.2 2.2 0 1 0 -4.4 0M293.29 119.95a2.2 2.2 0 1 0 4.4 0a2.2 2.2 0 1 0 -4.4 0M293.44 114.8a2.2 2.2 0 1 0 4.4 0a2.2 2.2 0 1 0 -4.4 0M293.58 119.3a2.2 2.2 0 1 0 4.4 0a2.2 2.2 0 1 0 -4.4 0M293.72 117.16a2.2 2.2 0 1 0 4.4 0a2.2 2.2 0 1 0 -4.4 0M293.87 120.67a2.2 2.2 0 1 0 4.4 0a2.2 2.2 0 1 0 -4.4 0M294.01 119.5a2.2 2.2 0 1 0 4.4 0a2.2 2.2 0 1 0 -4.4 0M294.16 119.19a2.2 2.2 0 1 0 4.4 0a2.2 2.2 0 1 0 -4.4 0M294.3 122.58a2.2 2.2 0 1 0 4.4 0a2.2 2.2 0 1 0 -4.4 0M294.44 116.48a2.2 2.2 0 1 0 4.4 0a2.2 2.2 0 1 0 -4.4 0M294.59 120.85a2.2 2.2 0 1 0 4.4 0a2.2 2.2 0 1 0 -4.4 0M294.73 119.42a2.2 2.2 0 1 0 4.4 0a2.2 2.2 0 1 0 -4.4 0M294.88 117.13a2.2 2.2 0 1 0 4.4 0a2.2 2.2 0 1 0 -4.4 0M295.02 123.19a2.2 2.2 0 1 0 4.4 0a2.2 2.2 0 1 0 -4.4 0M295.16 122.12a2.2 2.2 0 1 0 4.4 0a2.2 2.2 0 1 0 -4.4 0M295.31 124.8a2.2 2.2 0 1 0 4.4 0a2.2 2.2 0 1 0 -4.4 0M295.45 123.01a2.2 2.2 0 1 0 4.4 0a2.2 2.2 0 1 0 -4.4 0M295.6 121.32a2.2 2.2 0 1 0 4.4 0a2.2 2.2 0 1 0 -4.4 0M295.74 126.38a2.2 2.2 0 1 0 4.4 0a2.2 2.2 0 1 0 -4.4 0M295.88 120.01a2.2 2.2 0 1 0 4.4 0a2.2 2.2 0 1 0 -4.4 0M296.03 119.68a2.2 2.2 0 1 0 4.4 0a2.2 2.2 0 1 0 -4.4 0M296.17 125.55a2.2 2.2 0 1 0 4.4 0a2.2 2.2 0 1 0 -4.4 0M296.32 123.11a2.2 2.2 0 1 0 4.4 0a2.2 2.2 0 1 0 -4.4 0M296.46 123.34a2.2 2.2 0 1 0 4.4 0a2.2 2.2 0 1 0 -4.4 0M296.6 127.53a2.2 2.2 0 1 0 4.4 0a2.2 2.2 0 1 0 -4.4 0M296.75 123.66a2.2 2.2 0 1 0 4.4 0a2.2 2.2 0 1 0 -4.4 0M296.89 128.25a2.2 2.2 0 1 0 4.4 0a2.2 2.2 0 1 0 -4.4 0M297.04 126.76a2.2 2.2 0 1 0 4.4 0a2.2 2.2 0 1 0 -4.4 0M297.18 124.58a2.2 2.2 0 1 0 4.4 0a2.2 2.2 0 1 0 -4.4 0M297.32 122.4a2.2 2.2 0 1 0 4.4 0a2.2 2.2 0 1 0 -4.4 0M297.47 124.46a2.2 2.2 0 1 0 4.4 0a2.2 2.2 0 1 0 -4.4 0M297.61 130.4a2.2 2.2 0 1 0 4.4 0a2.2 2.2 0 1 0 -4.4 0M297.76 126.42a2.2 2.2 0 1 0 4.4 0a2.2 2.2 0 1 0 -4.4 0M297.9 124.58a2.2 2.2 0 1 0 4.4 0a2.2 2.2 0 1 0 -4.4 0M298.04 126.12a2.2 2.2 0 1 0 4.4 0a2.2 2.2 0 1 0 -4.4 0M298.19 131.16a2.2 2.2 0 1 0 4.4 0a2.2 2.2 0 1 0 -4.4 0M298.33 125.52a2.2 2.2 0 1 0 4.4 0a2.2 2.2 0 1 0 -4.4 0M298.48 130.88a2.2 2.2 0 1 0 4.4 0a2.2 2.2 0 1 0 -4.4 0M298.62 125.81a2.2 2.2 0 1 0 4.4 0a2.2 2.2 0 1 0 -4.4 0M298.76 132.88a2.2 2.2 0 1 0 4.4 0a2.2 2.2 0 1 0 -4.4 0M298.91 129.87a2.2 2.2 0 1 0 4.4 0a2.2 2.2 0 1 0 -4.4 0M299.05 125.72a2.2 2.2 0 1 0 4.4 0a2.2 2.2 0 1 0 -4.4 0M299.2 133.6a2.2 2.2 0 1 0 4.4 0a2.2 2.2 0 1 0 -4.4 0M299.34 129.34a2.2 2.2 0 1 0 4.4 0a2.2 2.2 0 1 0 -4.4 0M299.48 132.7a2.2 2.2 0 1 0 4.4 0a2.2 2.2 0 1 0 -4.4 0M299.63 131.34a2.2 2.2 0 1 0 4.4 0a2.2 2.2 0 1 0 -4.4 0M299.77 127.73a2.2 2.2 0 1 0 4.4 0a2.2 2.2 0 1 0 -4.4 0M299.92 128.16a2.2 2.2 0 1 0 4.4 0a2.2 2.2 0 1 0 -4.4 0M300.06 128.9a2.2 2.2 0 1 0 4.4 0a2.2 2.2 0 1 0 -4.4 0M300.2 129.31a2.2 2.2 0 1 0 4.4 0a2.2 2.2 0 1 0 -4.4 0M300.35 128.44a2.2 2.2 0 1 0 4.4 0a2.2 2.2 0 1 0 -4.4 0M300.49 128.66a2.2 2.2 0 1 0 4.4 0a2.2 2.2 0 1 0 -4.4 0M300.64 136.87a2.2 2.2 0 1 0 4.4 0a2.2 2.2 0 1 0 -4.4 0M300.78 129.75a2.2 2.2 0 1 0 4.4 0a2.2 2.2 0 1 0 -4.4 0M300.92 133.94a2.2 2.2 0 1 0 4.4 0a2.2 2.2 0 1 0 -4.4 0M301.07 130.63a2.2 2.2 0 1 0 4.4 0a2.2 2.2 0 1 0 -4.4 0M301.21 131.89a2.2 2.2 0 1 0 4.4 0a2.2 2.2 0 1 0 -4.4 0M301.36 136.96a2.2 2.2 0 1 0 4.4 0a2.2 2.2 0 1 0 -4.4 0M301.5 138.66a2.2 2.2 0 1 0 4.4 0a2.2 2.2 0 1 0 -4.4 0M301.64 135.12a2.2 2.2 0 1 0 4.4 0a2.2 2.2 0 1 0 -4.4 0M301.79 130.69a2.2 2.2 0 1 0 4.4 0a2.2 2.2 0 1 0 -4.4 0M301.93 140.08a2.2 2.2 0 1 0 4.4 0a2.2 2.2 0 1 0 -4.4 0M302.08 131.85a2.2 2.2 0 1 0 4.4 0a2.2 2.2 0 1 0 -4.4 0M302.22 135.6a2.2 2.2 0 1 0 4.4 0a2.2 2.2 0 1 0 -4.4 0M302.36 137.22a2.2 2.2 0 1 0 4.4 0a2.2 2.2 0 1 0 -4.4 0M302.51 140.47a2.2 2.2 0 1 0 4.4 0a2.2 2.2 0 1 0 -4.4 0M302.65 140.22a2.2 2.2 0 1 0 4.4 0a2.2 2.2 0 1 0 -4.4 0M302.8 138.74a2.2 2.2 0 1 0 4.4 0a2.2 2.2 0 1 0 -4.4 0M302.94 137.17a2.2 2.2 0 1 0 4.4 0a2.2 2.2 0 1 0 -4.4 0M303.08 141.24a2.2 2.2 0 1 0 4.4 0a2.2 2.2 0 1 0 -4.4 0M303.23 141.83a2.2 2.2 0 1 0 4.4 0a2.2 2.2 0 1 0 -4.4 0M303.37 142.16a2.2 2.2 0 1 0 4.4 0a2.2 2.2 0 1 0 -4.4 0M303.52 141.18a2.2 2.2 0 1 0 4.4 0a2.2 2.2 0 1 0 -4.4 0M303.66 135.61a2.2 2.2 0 1 0 4.4 0a2.2 2.2 0 1 0 -4.4 0M303.8 137.99a2.2 2.2 0 1 0 4.4 0a2.2 2.2 0 1 0 -4.4 0M303.95 140.05a2.2 2.2 0 1 0 4.4 0a2.2 2.2 0 1 0 -4.4 0M304.09 140.52a2.2 2.2 0 1 0 4.4 0a2.2 2.2 0 1 0 -4.4 0M304.24 143.68a2.2 2.2 0 1 0 4.4 0a2.2 2.2 0 1 0 -4.4 0M304.38 138.56a2.2 2.2 0 1 0 4.4 0a2.2 2.2 0 1 0 -4.4 0M304.52 142.85a2.2 2.2 0 1 0 4.4 0a2.2 2.2 0 1 0 -4.4 0M304.67 140.49a2.2 2.2 0 1 0 4.4 0a2.2 2.2 0 1 0 -4.4 0M304.81 144.42a2.2 2.2 0 1 0 4.4 0a2.2 2.2 0 1 0 -4.4 0M304.96 139.28a2.2 2.2 0 1 0 4.4 0a2.2 2.2 0 1 0 -4.4 0M305.1 142.34a2.2 2.2 0 1 0 4.4 0a2.2 2.2 0 1 0 -4.4 0M305.24 138.83a2.2 2.2 0 1 0 4.4 0a2.2 2.2 0 1 0 -4.4 0M305.39 140.32a2.2 2.2 0 1 0 4.4 0a2.2 2.2 0 1 0 -4.4 0M305.53 147.31a2.2 2.2 0 1 0 4.4 0a2.2 2.2 0 1 0 -4.4 0M305.68 141.97a2.2 2.2 0 1 0 4.4 0a2.2 2.2 0 1 0 -4.4 0M305.82 147.57a2.2 2.2 0 1 0 4.4 0a2.2 2.2 0 1 0 -4.4 0M305.96 144.57a2.2 2.2 0 1 0 4.4 0a2.2 2.2 0 1 0 -4.4 0M306.11 139.72a2.2 2.2 0 1 0 4.4 0a2.2 2.2 0 1 0 -4.4 0M306.25 147.61a2.2 2.2 0 1 0 4.4 0a2.2 2.2 0 1 0 -4.4 0M306.4 140.46a2.2 2.2 0 1 0 4.4 0a2.2 2.2 0 1 0 -4.4 0M306.54 148.51a2.2 2.2 0 1 0 4.4 0a2.2 2.2 0 1 0 -4.4 0M306.68 140.39a2.2 2.2 0 1 0 4.4 0a2.2 2.2 0 1 0 -4.4 0M306.83 147.74a2.2 2.2 0 1 0 4.4 0a2.2 2.2 0 1 0 -4.4 0M306.97 142.97a2.2 2.2 0 1 0 4.4 0a2.2 2.2 0 1 0 -4.4 0M307.12 145.15a2.2 2.2 0 1 0 4.4 0a2.2 2.2 0 1 0 -4.4 0M307.26 151.14a2.2 2.2 0 1 0 4.4 0a2.2 2.2 0 1 0 -4.4 0M307.4 147.16a2.2 2.2 0 1 0 4.4 0a2.2 2.2 0 1 0 -4.4 0M307.55 149.08a2.2 2.2 0 1 0 4.4 0a2.2 2.2 0 1 0 -4.4 0M307.69 150.15a2.2 2.2 0 1 0 4.4 0a2.2 2.2 0 1 0 -4.4 0M307.84 144.02a2.2 2.2 0 1 0 4.4 0a2.2 2.2 0 1 0 -4.4 0M307.98 151.65a2.2 2.2 0 1 0 4.4 0a2.2 2.2 0 1 0 -4.4 0M308.12 152.62a2.2 2.2 0 1 0 4.4 0a2.2 2.2 0 1 0 -4.4 0M308.27 145.42a2.2 2.2 0 1 0 4.4 0a2.2 2.2 0 1 0 -4.4 0M308.41 149.8a2.2 2.2 0 1 0 4.4 0a2.2 2.2 0 1 0 -4.4 0M308.56 147.42a2.2 2.2 0 1 0 4.4 0a2.2 2.2 0 1 0 -4.4 0M308.7 152.24a2.2 2.2 0 1 0 4.4 0a2.2 2.2 0 1 0 -4.4 0M308.84 144.9a2.2 2.2 0 1 0 4.4 0a2.2 2.2 0 1 0 -4.4 0M308.99 150.62a2.2 2.2 0 1 0 4.4 0a2.2 2.2 0 1 0 -4.4 0M309.13 153.57a2.2 2.2 0 1 0 4.4 0a2.2 2.2 0 1 0 -4.4 0M309.28 153.31a2.2 2.2 0 1 0 4.4 0a2.2 2.2 0 1 0 -4.4 0M309.42 147.13a2.2 2.2 0 1 0 4.4 0a2.2 2.2 0 1 0 -4.4 0M309.56 154.78a2.2 2.2 0 1 0 4.4 0a2.2 2.2 0 1 0 -4.4 0M309.71 149.2a2.2 2.2 0 1 0 4.4 0a2.2 2.2 0 1 0 -4.4 0M309.85 155.11a2.2 2.2 0 1 0 4.4 0a2.2 2.2 0 1 0 -4.4 0M310 152.45a2.2 2.2 0 1 0 4.4 0a2.2 2.2 0 1 0 -4.4 0M310.14 149.19a2.2 2.2 0 1 0 4.4 0a2.2 2.2 0 1 0 -4.4 0M310.28 155.26a2.2 2.2 0 1 0 4.4 0a2.2 2.2 0 1 0 -4.4 0M310.43 156.22a2.2 2.2 0 1 0 4.4 0a2.2 2.2 0 1 0 -4.4 0M310.57 155.5a2.2 2.2 0 1 0 4.4 0a2.2 2.2 0 1 0 -4.4 0M310.72 158.18a2.2 2.2 0 1 0 4.4 0a2.2 2.2 0 1 0 -4.4 0M310.86 151.67a2.2 2.2 0 1 0 4.4 0a2.2 2.2 0 1 0 -4.4 0M311 151.73a2.2 2.2 0 1 0 4.4 0a2.2 2.2 0 1 0 -4.4 0M311.15 151.02a2.2 2.2 0 1 0 4.4 0a2.2 2.2 0 1 0 -4.4 0M311.29 155.38a2.2 2.2 0 1 0 4.4 0a2.2 2.2 0 1 0 -4.4 0M311.44 154.28a2.2 2.2 0 1 0 4.4 0a2.2 2.2 0 1 0 -4.4 0M311.58 154.13a2.2 2.2 0 1 0 4.4 0a2.2 2.2 0 1 0 -4.4 0M311.72 155.45a2.2 2.2 0 1 0 4.4 0a2.2 2.2 0 1 0 -4.4 0M311.87 153.84a2.2 2.2 0 1 0 4.4 0a2.2 2.2 0 1 0 -4.4 0M312.01 150.79a2.2 2.2 0 1 0 4.4 0a2.2 2.2 0 1 0 -4.4 0M312.16 156.39a2.2 2.2 0 1 0 4.4 0a2.2 2.2 0 1 0 -4.4 0M312.3 154.69a2.2 2.2 0 1 0 4.4 0a2.2 2.2 0 1 0 -4.4 0M312.44 156.73a2.2 2.2 0 1 0 4.4 0a2.2 2.2 0 1 0 -4.4 0M312.59 161.43a2.2 2.2 0 1 0 4.4 0a2.2 2.2 0 1 0 -4.4 0M312.73 154.47a2.2 2.2 0 1 0 4.4 0a2.2 2.2 0 1 0 -4.4 0M312.88 159.35a2.2 2.2 0 1 0 4.4 0a2.2 2.2 0 1 0 -4.4 0M313.02 159.69a2.2 2.2 0 1 0 4.4 0a2.2 2.2 0 1 0 -4.4 0M313.16 156.41a2.2 2.2 0 1 0 4.4 0a2.2 2.2 0 1 0 -4.4 0M313.31 158.59a2.2 2.2 0 1 0 4.4 0a2.2 2.2 0 1 0 -4.4 0M313.45 163.41a2.2 2.2 0 1 0 4.4 0a2.2 2.2 0 1 0 -4.4 0M313.6 157.87a2.2 2.2 0 1 0 4.4 0a2.2 2.2 0 1 0 -4.4 0M313.74 161.67a2.2 2.2 0 1 0 4.4 0a2.2 2.2 0 1 0 -4.4 0M313.88 163.09a2.2 2.2 0 1 0 4.4 0a2.2 2.2 0 1 0 -4.4 0M314.03 158.88a2.2 2.2 0 1 0 4.4 0a2.2 2.2 0 1 0 -4.4 0M314.17 164.93a2.2 2.2 0 1 0 4.4 0a2.2 2.2 0 1 0 -4.4 0M314.32 161.96a2.2 2.2 0 1 0 4.4 0a2.2 2.2 0 1 0 -4.4 0M314.46 161.06a2.2 2.2 0 1 0 4.4 0a2.2 2.2 0 1 0 -4.4 0M314.6 163.31a2.2 2.2 0 1 0 4.4 0a2.2 2.2 0 1 0 -4.4 0M314.75 160.86a2.2 2.2 0 1 0 4.4 0a2.2 2.2 0 1 0 -4.4 0M314.89 163.83a2.2 2.2 0 1 0 4.4 0a2.2 2.2 0 1 0 -4.4 0M315.04 159.91a2.2 2.2 0 1 0 4.4 0a2.2 2.2 0 1 0 -4.4 0M315.18 166.25a2.2 2.2 0 1 0 4.4 0a2.2 2.2 0 1 0 -4.4 0M315.32 163.07a2.2 2.2 0 1 0 4.4 0a2.2 2.2 0 1 0 -4.4 0M315.47 160.37a2.2 2.2 0 1 0 4.4 0a2.2 2.2 0 1 0 -4.4 0M315.61 162.61a2.2 2.2 0 1 0 4.4 0a2.2 2.2 0 1 0 -4.4 0M315.76 167.03a2.2 2.2 0 1 0 4.4 0a2.2 2.2 0 1 0 -4.4 0M315.9 166.53a2.2 2.2 0 1 0 4.4 0a2.2 2.2 0 1 0 -4.4 0M316.04 163.86a2.2 2.2 0 1 0 4.4 0a2.2 2.2 0 1 0 -4.4 0M316.19 162.84a2.2 2.2 0 1 0 4.4 0a2.2 2.2 0 1 0 -4.4 0M316.33 163.35a2.2 2.2 0 1 0 4.4 0a2.2 2.2 0 1 0 -4.4 0M316.48 169.07a2.2 2.2 0 1 0 4.4 0a2.2 2.2 0 1 0 -4.4 0M316.62 161.09a2.2 2.2 0 1 0 4.4 0a2.2 2.2 0 1 0 -4.4 0M316.76 168.8a2.2 2.2 0 1 0 4.4 0a2.2 2.2 0 1 0 -4.4 0M316.91 168.79a2.2 2.2 0 1 0 4.4 0a2.2 2.2 0 1 0 -4.4 0M317.05 163.13a2.2 2.2 0 1 0 4.4 0a2.2 2.2 0 1 0 -4.4 0M317.2 164.66a2.2 2.2 0 1 0 4.4 0a2.2 2.2 0 1 0 -4.4 0M317.34 167.01a2.2 2.2 0 1 0 4.4 0a2.2 2.2 0 1 0 -4.4 0M317.48 169.34a2.2 2.2 0 1 0 4.4 0a2.2 2.2 0 1 0 -4.4 0M317.63 170.86a2.2 2.2 0 1 0 4.4 0a2.2 2.2 0 1 0 -4.4 0M317.77 171.46a2.2 2.2 0 1 0 4.4 0a2.2 2.2 0 1 0 -4.4 0M317.92 165.28a2.2 2.2 0 1 0 4.4 0a2.2 2.2 0 1 0 -4.4 0M318.06 164.61a2.2 2.2 0 1 0 4.4 0a2.2 2.2 0 1 0 -4.4 0M318.2 167.79a2.2 2.2 0 1 0 4.4 0a2.2 2.2 0 1 0 -4.4 0M318.35 168.69a2.2 2.2 0 1 0 4.4 0a2.2 2.2 0 1 0 -4.4 0M318.49 169.83a2.2 2.2 0 1 0 4.4 0a2.2 2.2 0 1 0 -4.4 0M318.64 164.7a2.2 2.2 0 1 0 4.4 0a2.2 2.2 0 1 0 -4.4 0M318.78 170.24a2.2 2.2 0 1 0 4.4 0a2.2 2.2 0 1 0 -4.4 0M318.92 172.87a2.2 2.2 0 1 0 4.4 0a2.2 2.2 0 1 0 -4.4 0M319.07 173.06a2.2 2.2 0 1 0 4.4 0a2.2 2.2 0 1 0 -4.4 0M319.21 173.54a2.2 2.2 0 1 0 4.4 0a2.2 2.2 0 1 0 -4.4 0M319.36 173.61a2.2 2.2 0 1 0 4.4 0a2.2 2.2 0 1 0 -4.4 0M319.5 174.17a2.2 2.2 0 1 0 4.4 0a2.2 2.2 0 1 0 -4.4 0M319.64 165.74a2.2 2.2 0 1 0 4.4 0a2.2 2.2 0 1 0 -4.4 0M319.79 174.27a2.2 2.2 0 1 0 4.4 0a2.2 2.2 0 1 0 -4.4 0M319.93 168.7a2.2 2.2 0 1 0 4.4 0a2.2 2.2 0 1 0 -4.4 0M320.08 169.43a2.2 2.2 0 1 0 4.4 0a2.2 2.2 0 1 0 -4.4 0M320.22 170.98a2.2 2.2 0 1 0 4.4 0a2.2 2.2 0 1 0 -4.4 0M320.36 175.55a2.2 2.2 0 1 0 4.4 0a2.2 2.2 0 1 0 -4.4 0M320.51 172.78a2.2 2.2 0 1 0 4.4 0a2.2 2.2 0 1 0 -4.4 0M320.65 170.7a2.2 2.2 0 1 0 4.4 0a2.2 2.2 0 1 0 -4.4 0M320.8 171.14a2.2 2.2 0 1 0 4.4 0a2.2 2.2 0 1 0 -4.4 0M320.94 176.05a2.2 2.2 0 1 0 4.4 0a2.2 2.2 0 1 0 -4.4 0M321.08 175.59a2.2 2.2 0 1 0 4.4 0a2.2 2.2 0 1 0 -4.4 0M321.23 169.44a2.2 2.2 0 1 0 4.4 0a2.2 2.2 0 1 0 -4.4 0M321.37 170.84a2.2 2.2 0 1 0 4.4 0a2.2 2.2 0 1 0 -4.4 0M321.52 172.27a2.2 2.2 0 1 0 4.4 0a2.2 2.2 0 1 0 -4.4 0M321.66 170.97a2.2 2.2 0 1 0 4.4 0a2.2 2.2 0 1 0 -4.4 0M321.8 174.47a2.2 2.2 0 1 0 4.4 0a2.2 2.2 0 1 0 -4.4 0M321.95 171.49a2.2 2.2 0 1 0 4.4 0a2.2 2.2 0 1 0 -4.4 0M322.09 175.01a2.2 2.2 0 1 0 4.4 0a2.2 2.2 0 1 0 -4.4 0M322.24 178.29a2.2 2.2 0 1 0 4.4 0a2.2 2.2 0 1 0 -4.4 0M322.38 177.78a2.2 2.2 0 1 0 4.4 0a2.2 2.2 0 1 0 -4.4 0M322.52 171.03a2.2 2.2 0 1 0 4.4 0a2.2 2.2 0 1 0 -4.4 0M322.67 172.41a2.2 2.2 0 1 0 4.4 0a2.2 2.2 0 1 0 -4.4 0M322.81 174.61a2.2 2.2 0 1 0 4.4 0a2.2 2.2 0 1 0 -4.4 0M322.96 176.9a2.2 2.2 0 1 0 4.4 0a2.2 2.2 0 1 0 -4.4 0M323.1 174.78a2.2 2.2 0 1 0 4.4 0a2.2 2.2 0 1 0 -4.4 0M323.24 173.69a2.2 2.2 0 1 0 4.4 0a2.2 2.2 0 1 0 -4.4 0M323.39 174.8a2.2 2.2 0 1 0 4.4 0a2.2 2.2 0 1 0 -4.4 0M323.53 173.62a2.2 2.2 0 1 0 4.4 0a2.2 2.2 0 1 0 -4.4 0M323.68 179.7a2.2 2.2 0 1 0 4.4 0a2.2 2.2 0 1 0 -4.4 0M323.82 178.52a2.2 2.2 0 1 0 4.4 0a2.2 2.2 0 1 0 -4.4 0M323.96 176.19a2.2 2.2 0 1 0 4.4 0a2.2 2.2 0 1 0 -4.4 0M324.11 178.92a2.2 2.2 0 1 0 4.4 0a2.2 2.2 0 1 0 -4.4 0M324.25 177.54a2.2 2.2 0 1 0 4.4 0a2.2 2.2 0 1 0 -4.4 0M324.4 177.78a2.2 2.2 0 1 0 4.4 0a2.2 2.2 0 1 0 -4.4 0M324.54 176.53a2.2 2.2 0 1 0 4.4 0a2.2 2.2 0 1 0 -4.4 0M324.68 177.8a2.2 2.2 0 1 0 4.4 0a2.2 2.2 0 1 0 -4.4 0M324.83 182.14a2.2 2.2 0 1 0 4.4 0a2.2 2.2 0 1 0 -4.4 0M324.97 180.67a2.2 2.2 0 1 0 4.4 0a2.2 2.2 0 1 0 -4.4 0M325.12 181.19a2.2 2.2 0 1 0 4.4 0a2.2 2.2 0 1 0 -4.4 0M325.26 174.98a2.2 2.2 0 1 0 4.4 0a2.2 2.2 0 1 0 -4.4 0M325.4 178.78a2.2 2.2 0 1 0 4.4 0a2.2 2.2 0 1 0 -4.4 0M325.55 177.7a2.2 2.2 0 1 0 4.4 0a2.2 2.2 0 1 0 -4.4 0M325.69 175.07a2.2 2.2 0 1 0 4.4 0a2.2 2.2 0 1 0 -4.4 0M325.84 178.27a2.2 2.2 0 1 0 4.4 0a2.2 2.2 0 1 0 -4.4 0M325.98 175.21a2.2 2.2 0 1 0 4.4 0a2.2 2.2 0 1 0 -4.4 0M326.12 177.04a2.2 2.2 0 1 0 4.4 0a2.2 2.2 0 1 0 -4.4 0M326.27 182.15a2.2 2.2 0 1 0 4.4 0a2.2 2.2 0 1 0 -4.4 0M326.41 181.36a2.2 2.2 0 1 0 4.4 0a2.2 2.2 0 1 0 -4.4 0M326.56 181.59a2.2 2.2 0 1 0 4.4 0a2.2 2.2 0 1 0 -4.4 0M326.7 175.97a2.2 2.2 0 1 0 4.4 0a2.2 2.2 0 1 0 -4.4 0M326.84 177.02a2.2 2.2 0 1 0 4.4 0a2.2 2.2 0 1 0 -4.4 0M326.99 175.51a2.2 2.2 0 1 0 4.4 0a2.2 2.2 0 1 0 -4.4 0M327.13 176.55a2.2 2.2 0 1 0 4.4 0a2.2 2.2 0 1 0 -4.4 0M327.28 176.71a2.2 2.2 0 1 0 4.4 0a2.2 2.2 0 1 0 -4.4 0M327.42 184.4a2.2 2.2 0 1 0 4.4 0a2.2 2.2 0 1 0 -4.4 0M327.56 183.97a2.2 2.2 0 1 0 4.4 0a2.2 2.2 0 1 0 -4.4 0M327.71 178.1a2.2 2.2 0 1 0 4.4 0a2.2 2.2 0 1 0 -4.4 0M327.85 178.68a2.2 2.2 0 1 0 4.4 0a2.2 2.2 0 1 0 -4.4 0M328 184.78a2.2 2.2 0 1 0 4.4 0a2.2 2.2 0 1 0 -4.4 0M328.14 181.69a2.2 2.2 0 1 0 4.4 0a2.2 2.2 0 1 0 -4.4 0M328.28 180.02a2.2 2.2 0 1 0 4.4 0a2.2 2.2 0 1 0 -4.4 0M328.43 180.96a2.2 2.2 0 1 0 4.4 0a2.2 2.2 0 1 0 -4.4 0M328.57 179.28a2.2 2.2 0 1 0 4.4 0a2.2 2.2 0 1 0 -4.4 0M328.72 182.1a2.2 2.2 0 1 0 4.4 0a2.2 2.2 0 1 0 -4.4 0M328.86 183.34a2.2 2.2 0 1 0 4.4 0a2.2 2.2 0 1 0 -4.4 0M329 181.65a2.2 2.2 0 1 0 4.4 0a2.2 2.2 0 1 0 -4.4 0M329.15 184.21a2.2 2.2 0 1 0 4.4 0a2.2 2.2 0 1 0 -4.4 0M329.29 178.01a2.2 2.2 0 1 0 4.4 0a2.2 2.2 0 1 0 -4.4 0M329.44 182.54a2.2 2.2 0 1 0 4.4 0a2.2 2.2 0 1 0 -4.4 0M329.58 185.66a2.2 2.2 0 1 0 4.4 0a2.2 2.2 0 1 0 -4.4 0M329.72 178.52a2.2 2.2 0 1 0 4.4 0a2.2 2.2 0 1 0 -4.4 0M329.87 181.73a2.2 2.2 0 1 0 4.4 0a2.2 2.2 0 1 0 -4.4 0M330.01 182.89a2.2 2.2 0 1 0 4.4 0a2.2 2.2 0 1 0 -4.4 0M330.16 180.4a2.2 2.2 0 1 0 4.4 0a2.2 2.2 0 1 0 -4.4 0M330.3 185.58a2.2 2.2 0 1 0 4.4 0a2.2 2.2 0 1 0 -4.4 0M330.44 181.7a2.2 2.2 0 1 0 4.4 0a2.2 2.2 0 1 0 -4.4 0M330.59 181.62a2.2 2.2 0 1 0 4.4 0a2.2 2.2 0 1 0 -4.4 0M330.73 185.04a2.2 2.2 0 1 0 4.4 0a2.2 2.2 0 1 0 -4.4 0M330.88 177a2.2 2.2 0 1 0 4.4 0a2.2 2.2 0 1 0 -4.4 0M331.02 184.72a2.2 2.2 0 1 0 4.4 0a2.2 2.2 0 1 0 -4.4 0M331.16 178.23a2.2 2.2 0 1 0 4.4 0a2.2 2.2 0 1 0 -4.4 0M331.31 180.57a2.2 2.2 0 1 0 4.4 0a2.2 2.2 0 1 0 -4.4 0M331.45 181.47a2.2 2.2 0 1 0 4.4 0a2.2 2.2 0 1 0 -4.4 0M331.6 181.32a2.2 2.2 0 1 0 4.4 0a2.2 2.2 0 1 0 -4.4 0M331.74 176.99a2.2 2.2 0 1 0 4.4 0a2.2 2.2 0 1 0 -4.4 0M331.88 179.77a2.2 2.2 0 1 0 4.4 0a2.2 2.2 0 1 0 -4.4 0M332.03 180.06a2.2 2.2 0 1 0 4.4 0a2.2 2.2 0 1 0 -4.4 0M332.17 184.98a2.2 2.2 0 1 0 4.4 0a2.2 2.2 0 1 0 -4.4 0M332.32 184.59a2.2 2.2 0 1 0 4.4 0a2.2 2.2 0 1 0 -4.4 0M332.46 181.81a2.2 2.2 0 1 0 4.4 0a2.2 2.2 0 1 0 -4.4 0M332.6 184.56a2.2 2.2 0 1 0 4.4 0a2.2 2.2 0 1 0 -4.4 0M332.75 183.92a2.2 2.2 0 1 0 4.4 0a2.2 2.2 0 1 0 -4.4 0M332.89 179.72a2.2 2.2 0 1 0 4.4 0a2.2 2.2 0 1 0 -4.4 0M333.04 177.1a2.2 2.2 0 1 0 4.4 0a2.2 2.2 0 1 0 -4.4 0M333.18 181.53a2.2 2.2 0 1 0 4.4 0a2.2 2.2 0 1 0 -4.4 0M333.32 178.92a2.2 2.2 0 1 0 4.4 0a2.2 2.2 0 1 0 -4.4 0M333.47 175.46a2.2 2.2 0 1 0 4.4 0a2.2 2.2 0 1 0 -4.4 0M333.61 184.24a2.2 2.2 0 1 0 4.4 0a2.2 2.2 0 1 0 -4.4 0M333.76 184.03a2.2 2.2 0 1 0 4.4 0a2.2 2.2 0 1 0 -4.4 0M333.9 180.35a2.2 2.2 0 1 0 4.4 0a2.2 2.2 0 1 0 -4.4 0M334.04 180.92a2.2 2.2 0 1 0 4.4 0a2.2 2.2 0 1 0 -4.4 0M334.19 181.21a2.2 2.2 0 1 0 4.4 0a2.2 2.2 0 1 0 -4.4 0M334.33 183.18a2.2 2.2 0 1 0 4.4 0a2.2 2.2 0 1 0 -4.4 0M334.48 179.21a2.2 2.2 0 1 0 4.4 0a2.2 2.2 0 1 0 -4.4 0M334.62 180.07a2.2 2.2 0 1 0 4.4 0a2.2 2.2 0 1 0 -4.4 0M334.76 176.67a2.2 2.2 0 1 0 4.4 0a2.2 2.2 0 1 0 -4.4 0M334.91 176.68a2.2 2.2 0 1 0 4.4 0a2.2 2.2 0 1 0 -4.4 0M335.05 179.09a2.2 2.2 0 1 0 4.4 0a2.2 2.2 0 1 0 -4.4 0M335.2 176.23a2.2 2.2 0 1 0 4.4 0a2.2 2.2 0 1 0 -4.4 0M335.34 173.87a2.2 2.2 0 1 0 4.4 0a2.2 2.2 0 1 0 -4.4 0M335.48 177.23a2.2 2.2 0 1 0 4.4 0a2.2 2.2 0 1 0 -4.4 0M335.63 180.39a2.2 2.2 0 1 0 4.4 0a2.2 2.2 0 1 0 -4.4 0M335.77 176.03a2.2 2.2 0 1 0 4.4 0a2.2 2.2 0 1 0 -4.4 0M335.92 180.98a2.2 2.2 0 1 0 4.4 0a2.2 2.2 0 1 0 -4.4 0M336.06 179.48a2.2 2.2 0 1 0 4.4 0a2.2 2.2 0 1 0 -4.4 0M336.2 178.88a2.2 2.2 0 1 0 4.4 0a2.2 2.2 0 1 0 -4.4 0M336.35 180.7a2.2 2.2 0 1 0 4.4 0a2.2 2.2 0 1 0 -4.4 0M336.49 172.98a2.2 2.2 0 1 0 4.4 0a2.2 2.2 0 1 0 -4.4 0M336.64 173.94a2.2 2.2 0 1 0 4.4 0a2.2 2.2 0 1 0 -4.4 0M336.78 180.28a2.2 2.2 0 1 0 4.4 0a2.2 2.2 0 1 0 -4.4 0M336.92 180.07a2.2 2.2 0 1 0 4.4 0a2.2 2.2 0 1 0 -4.4 0M337.07 172.25a2.2 2.2 0 1 0 4.4 0a2.2 2.2 0 1 0 -4.4 0M337.21 178.59a2.2 2.2 0 1 0 4.4 0a2.2 2.2 0 1 0 -4.4 0M337.36 171.03a2.2 2.2 0 1 0 4.4 0a2.2 2.2 0 1 0 -4.4 0M337.5 172.28a2.2 2.2 0 1 0 4.4 0a2.2 2.2 0 1 0 -4.4 0M337.64 171.79a2.2 2.2 0 1 0 4.4 0a2.2 2.2 0 1 0 -4.4 0M337.79 173.49a2.2 2.2 0 1 0 4.4 0a2.2 2.2 0 1 0 -4.4 0M337.93 174.18a2.2 2.2 0 1 0 4.4 0a2.2 2.2 0 1 0 -4.4 0M338.08 178.51a2.2 2.2 0 1 0 4.4 0a2.2 2.2 0 1 0 -4.4 0M338.22 174.2a2.2 2.2 0 1 0 4.4 0a2.2 2.2 0 1 0 -4.4 0M338.36 170.87a2.2 2.2 0 1 0 4.4 0a2.2 2.2 0 1 0 -4.4 0M338.51 172.2a2.2 2.2 0 1 0 4.4 0a2.2 2.2 0 1 0 -4.4 0M338.65 168.94a2.2 2.2 0 1 0 4.4 0a2.2 2.2 0 1 0 -4.4 0M338.8 169.04a2.2 2.2 0 1 0 4.4 0a2.2 2.2 0 1 0 -4.4 0M338.94 173.05a2.2 2.2 0 1 0 4.4 0a2.2 2.2 0 1 0 -4.4 0M339.08 173.57a2.2 2.2 0 1 0 4.4 0a2.2 2.2 0 1 0 -4.4 0M339.23 170.85a2.2 2.2 0 1 0 4.4 0a2.2 2.2 0 1 0 -4.4 0M339.37 171.89a2.2 2.2 0 1 0 4.4 0a2.2 2.2 0 1 0 -4.4 0M339.52 168.82a2.2 2.2 0 1 0 4.4 0a2.2 2.2 0 1 0 -4.4 0M339.66 173.96a2.2 2.2 0 1 0 4.4 0a2.2 2.2 0 1 0 -4.4 0M339.8 171.31a2.2 2.2 0 1 0 4.4 0a2.2 2.2 0 1 0 -4.4 0M339.95 168.76a2.2 2.2 0 1 0 4.4 0a2.2 2.2 0 1 0 -4.4 0M340.09 171.81a2.2 2.2 0 1 0 4.4 0a2.2 2.2 0 1 0 -4.4 0M340.24 168.78a2.2 2.2 0 1 0 4.4 0a2.2 2.2 0 1 0 -4.4 0M340.38 169.39a2.2 2.2 0 1 0 4.4 0a2.2 2.2 0 1 0 -4.4 0M340.52 167.39a2.2 2.2 0 1 0 4.4 0a2.2 2.2 0 1 0 -4.4 0M340.67 173.37a2.2 2.2 0 1 0 4.4 0a2.2 2.2 0 1 0 -4.4 0M340.81 168.53a2.2 2.2 0 1 0 4.4 0a2.2 2.2 0 1 0 -4.4 0M340.96 174.37a2.2 2.2 0 1 0 4.4 0a2.2 2.2 0 1 0 -4.4 0M341.1 169.27a2.2 2.2 0 1 0 4.4 0a2.2 2.2 0 1 0 -4.4 0M341.24 166.5a2.2 2.2 0 1 0 4.4 0a2.2 2.2 0 1 0 -4.4 0M341.39 171.5a2.2 2.2 0 1 0 4.4 0a2.2 2.2 0 1 0 -4.4 0M341.53 171.5a2.2 2.2 0 1 0 4.4 0a2.2 2.2 0 1 0 -4.4 0M341.68 172.53a2.2 2.2 0 1 0 4.4 0a2.2 2.2 0 1 0 -4.4 0M341.82 165.23a2.2 2.2 0 1 0 4.4 0a2.2 2.2 0 1 0 -4.4 0M341.96 171.25a2.2 2.2 0 1 0 4.4 0a2.2 2.2 0 1 0 -4.4 0M342.11 171.6a2.2 2.2 0 1 0 4.4 0a2.2 2.2 0 1 0 -4.4 0M342.25 166.28a2.2 2.2 0 1 0 4.4 0a2.2 2.2 0 1 0 -4.4 0M342.4 167.48a2.2 2.2 0 1 0 4.4 0a2.2 2.2 0 1 0 -4.4 0M342.54 168.74a2.2 2.2 0 1 0 4.4 0a2.2 2.2 0 1 0 -4.4 0M342.68 164.91a2.2 2.2 0 1 0 4.4 0a2.2 2.2 0 1 0 -4.4 0M342.83 170.44a2.2 2.2 0 1 0 4.4 0a2.2 2.2 0 1 0 -4.4 0M342.97 168.69a2.2 2.2 0 1 0 4.4 0a2.2 2.2 0 1 0 -4.4 0M343.12 169.81a2.2 2.2 0 1 0 4.4 0a2.2 2.2 0 1 0 -4.4 0M343.26 165.89a2.2 2.2 0 1 0 4.4 0a2.2 2.2 0 1 0 -4.4 0M343.4 166.28a2.2 2.2 0 1 0 4.4 0a2.2 2.2 0 1 0 -4.4 0M343.55 162.81a2.2 2.2 0 1 0 4.4 0a2.2 2.2 0 1 0 -4.4 0M343.69 163.79a2.2 2.2 0 1 0 4.4 0a2.2 2.2 0 1 0 -4.4 0M343.84 167.41a2.2 2.2 0 1 0 4.4 0a2.2 2.2 0 1 0 -4.4 0M343.98 169.14a2.2 2.2 0 1 0 4.4 0a2.2 2.2 0 1 0 -4.4 0M344.12 161.28a2.2 2.2 0 1 0 4.4 0a2.2 2.2 0 1 0 -4.4 0M344.27 159.79a2.2 2.2 0 1 0 4.4 0a2.2 2.2 0 1 0 -4.4 0M344.41 159.74a2.2 2.2 0 1 0 4.4 0a2.2 2.2 0 1 0 -4.4 0M344.56 163.39a2.2 2.2 0 1 0 4.4 0a2.2 2.2 0 1 0 -4.4 0M344.7 166.4a2.2 2.2 0 1 0 4.4 0a2.2 2.2 0 1 0 -4.4 0M344.84 160.74a2.2 2.2 0 1 0 4.4 0a2.2 2.2 0 1 0 -4.4 0M344.99 162.99a2.2 2.2 0 1 0 4.4 0a2.2 2.2 0 1 0 -4.4 0M345.13 163.09a2.2 2.2 0 1 0 4.4 0a2.2 2.2 0 1 0 -4.4 0M345.28 165.74a2.2 2.2 0 1 0 4.4 0a2.2 2.2 0 1 0 -4.4 0M345.42 158.99a2.2 2.2 0 1 0 4.4 0a2.2 2.2 0 1 0 -4.4 0M345.56 156.83a2.2 2.2 0 1 0 4.4 0a2.2 2.2 0 1 0 -4.4 0M345.71 161.93a2.2 2.2 0 1 0 4.4 0a2.2 2.2 0 1 0 -4.4 0M345.85 160.19a2.2 2.2 0 1 0 4.4 0a2.2 2.2 0 1 0 -4.4 0M346 159.27a2.2 2.2 0 1 0 4.4 0a2.2 2.2 0 1 0 -4.4 0M346.14 163.56a2.2 2.2 0 1 0 4.4 0a2.2 2.2 0 1 0 -4.4 0M346.28 162.49a2.2 2.2 0 1 0 4.4 0a2.2 2.2 0 1 0 -4.4 0M346.43 156.13a2.2 2.2 0 1 0 4.4 0a2.2 2.2 0 1 0 -4.4 0M346.57 160.7a2.2 2.2 0 1 0 4.4 0a2.2 2.2 0 1 0 -4.4 0M346.72 162.71a2.2 2.2 0 1 0 4.4 0a2.2 2.2 0 1 0 -4.4 0M346.86 163.43a2.2 2.2 0 1 0 4.4 0a2.2 2.2 0 1 0 -4.4 0M347 153.79a2.2 2.2 0 1 0 4.4 0a2.2 2.2 0 1 0 -4.4 0M347.15 161.99a2.2 2.2 0 1 0 4.4 0a2.2 2.2 0 1 0 -4.4 0M347.29 153.93a2.2 2.2 0 1 0 4.4 0a2.2 2.2 0 1 0 -4.4 0M347.44 160.31a2.2 2.2 0 1 0 4.4 0a2.2 2.2 0 1 0 -4.4 0M347.58 159.25a2.2 2.2 0 1 0 4.4 0a2.2 2.2 0 1 0 -4.4 0M347.72 162.18a2.2 2.2 0 1 0 4.4 0a2.2 2.2 0 1 0 -4.4 0M347.87 159.02a2.2 2.2 0 1 0 4.4 0a2.2 2.2 0 1 0 -4.4 0M348.01 152.89a2.2 2.2 0 1 0 4.4 0a2.2 2.2 0 1 0 -4.4 0M348.16 158.83a2.2 2.2 0 1 0 4.4 0a2.2 2.2 0 1 0 -4.4 0M348.3 154.47a2.2 2.2 0 1 0 4.4 0a2.2 2.2 0 1 0 -4.4 0M348.44 159.75a2.2 2.2 0 1 0 4.4 0a2.2 2.2 0 1 0 -4.4 0M348.59 151.24a2.2 2.2 0 1 0 4.4 0a2.2 2.2 0 1 0 -4.4 0M348.73 154.36a2.2 2.2 0 1 0 4.4 0a2.2 2.2 0 1 0 -4.4 0M348.88 157.51a2.2 2.2 0 1 0 4.4 0a2.2 2.2 0 1 0 -4.4 0M349.02 151.96a2.2 2.2 0 1 0 4.4 0a2.2 2.2 0 1 0 -4.4 0M349.16 156.67a2.2 2.2 0 1 0 4.4 0a2.2 2.2 0 1 0 -4.4 0M349.31 156.87a2.2 2.2 0 1 0 4.4 0a2.2 2.2 0 1 0 -4.4 0M349.45 156.93a2.2 2.2 0 1 0 4.4 0a2.2 2.2 0 1 0 -4.4 0M349.6 157.94a2.2 2.2 0 1 0 4.4 0a2.2 2.2 0 1 0 -4.4 0M349.74 153.3a2.2 2.2 0 1 0 4.4 0a2.2 2.2 0 1 0 -4.4 0M349.88 150.11a2.2 2.2 0 1 0 4.4 0a2.2 2.2 0 1 0 -4.4 0M350.03 151.15a2.2 2.2 0 1 0 4.4 0a2.2 2.2 0 1 0 -4.4 0M350.17 152.22a2.2 2.2 0 1 0 4.4 0a2.2 2.2 0 1 0 -4.4 0M350.32 148.15a2.2 2.2 0 1 0 4.4 0a2.2 2.2 0 1 0 -4.4 0M350.46 154.75a2.2 2.2 0 1 0 4.4 0a2.2 2.2 0 1 0 -4.4 0M350.6 147.69a2.2 2.2 0 1 0 4.4 0a2.2 2.2 0 1 0 -4.4 0M350.75 147.34a2.2 2.2 0 1 0 4.4 0a2.2 2.2 0 1 0 -4.4 0M350.89 155.96a2.2 2.2 0 1 0 4.4 0a2.2 2.2 0 1 0 -4.4 0M351.04 154.53a2.2 2.2 0 1 0 4.4 0a2.2 2.2 0 1 0 -4.4 0M351.18 148.81a2.2 2.2 0 1 0 4.4 0a2.2 2.2 0 1 0 -4.4 0M351.32 149.46a2.2 2.2 0 1 0 4.4 0a2.2 2.2 0 1 0 -4.4 0M351.47 153.87a2.2 2.2 0 1 0 4.4 0a2.2 2.2 0 1 0 -4.4 0M351.61 151.66a2.2 2.2 0 1 0 4.4 0a2.2 2.2 0 1 0 -4.4 0M351.76 147.79a2.2 2.2 0 1 0 4.4 0a2.2 2.2 0 1 0 -4.4 0M351.9 149.42a2.2 2.2 0 1 0 4.4 0a2.2 2.2 0 1 0 -4.4 0M352.04 153a2.2 2.2 0 1 0 4.4 0a2.2 2.2 0 1 0 -4.4 0M352.19 143.57a2.2 2.2 0 1 0 4.4 0a2.2 2.2 0 1 0 -4.4 0M352.33 153.63a2.2 2.2 0 1 0 4.4 0a2.2 2.2 0 1 0 -4.4 0M352.48 149.4a2.2 2.2 0 1 0 4.4 0a2.2 2.2 0 1 0 -4.4 0M352.62 145.16a2.2 2.2 0 1 0 4.4 0a2.2 2.2 0 1 0 -4.4 0M352.76 150.99a2.2 2.2 0 1 0 4.4 0a2.2 2.2 0 1 0 -4.4 0M352.91 143.32a2.2 2.2 0 1 0 4.4 0a2.2 2.2 0 1 0 -4.4 0M353.05 146.7a2.2 2.2 0 1 0 4.4 0a2.2 2.2 0 1 0 -4.4 0M353.2 147.99a2.2 2.2 0 1 0 4.4 0a2.2 2.2 0 1 0 -4.4 0M353.34 144.44a2.2 2.2 0 1 0 4.4 0a2.2 2.2 0 1 0 -4.4 0M353.48 150.24a2.2 2.2 0 1 0 4.4 0a2.2 2.2 0 1 0 -4.4 0M353.63 148.25a2.2 2.2 0 1 0 4.4 0a2.2 2.2 0 1 0 -4.4 0M353.77 142.64a2.2 2.2 0 1 0 4.4 0a2.2 2.2 0 1 0 -4.4 0M353.92 142.25a2.2 2.2 0 1 0 4.4 0a2.2 2.2 0 1 0 -4.4 0M354.06 140.88a2.2 2.2 0 1 0 4.4 0a2.2 2.2 0 1 0 -4.4 0M354.2 145.9a2.2 2.2 0 1 0 4.4 0a2.2 2.2 0 1 0 -4.4 0M354.35 141.78a2.2 2.2 0 1 0 4.4 0a2.2 2.2 0 1 0 -4.4 0M354.49 145.04a2.2 2.2 0 1 0 4.4 0a2.2 2.2 0 1 0 -4.4 0M354.64 147.23a2.2 2.2 0 1 0 4.4 0a2.2 2.2 0 1 0 -4.4 0M354.78 147.45a2.2 2.2 0 1 0 4.4 0a2.2 2.2 0 1 0 -4.4 0M354.92 139.84a2.2 2.2 0 1 0 4.4 0a2.2 2.2 0 1 0 -4.4 0M355.07 141.84a2.2 2.2 0 1 0 4.4 0a2.2 2.2 0 1 0 -4.4 0M355.21 142.38a2.2 2.2 0 1 0 4.4 0a2.2 2.2 0 1 0 -4.4 0M355.36 141.76a2.2 2.2 0 1 0 4.4 0a2.2 2.2 0 1 0 -4.4 0M355.5 141.8a2.2 2.2 0 1 0 4.4 0a2.2 2.2 0 1 0 -4.4 0M355.64 141.89a2.2 2.2 0 1 0 4.4 0a2.2 2.2 0 1 0 -4.4 0M355.79 144.25a2.2 2.2 0 1 0 4.4 0a2.2 2.2 0 1 0 -4.4 0M355.93 139.82a2.2 2.2 0 1 0 4.4 0a2.2 2.2 0 1 0 -4.4 0M356.08 139.9a2.2 2.2 0 1 0 4.4 0a2.2 2.2 0 1 0 -4.4 0M356.22 140.05a2.2 2.2 0 1 0 4.4 0a2.2 2.2 0 1 0 -4.4 0M356.36 137.36a2.2 2.2 0 1 0 4.4 0a2.2 2.2 0 1 0 -4.4 0M356.51 141.64a2.2 2.2 0 1 0 4.4 0a2.2 2.2 0 1 0 -4.4 0M356.65 139.26a2.2 2.2 0 1 0 4.4 0a2.2 2.2 0 1 0 -4.4 0M356.8 143.46a2.2 2.2 0 1 0 4.4 0a2.2 2.2 0 1 0 -4.4 0M356.94 142.36a2.2 2.2 0 1 0 4.4 0a2.2 2.2 0 1 0 -4.4 0M357.08 136.73a2.2 2.2 0 1 0 4.4 0a2.2 2.2 0 1 0 -4.4 0M357.23 136.56a2.2 2.2 0 1 0 4.4 0a2.2 2.2 0 1 0 -4.4 0M357.37 141.11a2.2 2.2 0 1 0 4.4 0a2.2 2.2 0 1 0 -4.4 0M357.52 138.91a2.2 2.2 0 1 0 4.4 0a2.2 2.2 0 1 0 -4.4 0M357.66 133.05a2.2 2.2 0 1 0 4.4 0a2.2 2.2 0 1 0 -4.4 0M357.8 138.91a2.2 2.2 0 1 0 4.4 0a2.2 2.2 0 1 0 -4.4 0M357.95 136.54a2.2 2.2 0 1 0 4.4 0a2.2 2.2 0 1 0 -4.4 0M358.09 139.6a2.2 2.2 0 1 0 4.4 0a2.2 2.2 0 1 0 -4.4 0M358.24 138.98a2.2 2.2 0 1 0 4.4 0a2.2 2.2 0 1 0 -4.4 0M358.38 140.1a2.2 2.2 0 1 0 4.4 0a2.2 2.2 0 1 0 -4.4 0M358.52 137.97a2.2 2.2 0 1 0 4.4 0a2.2 2.2 0 1 0 -4.4 0M358.67 139.4a2.2 2.2 0 1 0 4.4 0a2.2 2.2 0 1 0 -4.4 0M358.81 133.74a2.2 2.2 0 1 0 4.4 0a2.2 2.2 0 1 0 -4.4 0M358.96 133.95a2.2 2.2 0 1 0 4.4 0a2.2 2.2 0 1 0 -4.4 0M359.1 130.83a2.2 2.2 0 1 0 4.4 0a2.2 2.2 0 1 0 -4.4 0M359.24 137.79a2.2 2.2 0 1 0 4.4 0a2.2 2.2 0 1 0 -4.4 0M359.39 131.29a2.2 2.2 0 1 0 4.4 0a2.2 2.2 0 1 0 -4.4 0M359.53 134.61a2.2 2.2 0 1 0 4.4 0a2.2 2.2 0 1 0 -4.4 0M359.68 133.95a2.2 2.2 0 1 0 4.4 0a2.2 2.2 0 1 0 -4.4 0M359.82 136.13a2.2 2.2 0 1 0 4.4 0a2.2 2.2 0 1 0 -4.4 0M359.96 132.3a2.2 2.2 0 1 0 4.4 0a2.2 2.2 0 1 0 -4.4 0M360.11 129.71a2.2 2.2 0 1 0 4.4 0a2.2 2.2 0 1 0 -4.4 0M360.25 131.66a2.2 2.2 0 1 0 4.4 0a2.2 2.2 0 1 0 -4.4 0M360.4 128.1a2.2 2.2 0 1 0 4.4 0a2.2 2.2 0 1 0 -4.4 0M360.54 130.34a2.2 2.2 0 1 0 4.4 0a2.2 2.2 0 1 0 -4.4 0M360.68 132.82a2.2 2.2 0 1 0 4.4 0a2.2 2.2 0 1 0 -4.4 0M360.83 127.33a2.2 2.2 0 1 0 4.4 0a2.2 2.2 0 1 0 -4.4 0M360.97 134.98a2.2 2.2 0 1 0 4.4 0a2.2 2.2 0 1 0 -4.4 0M361.12 131.14a2.2 2.2 0 1 0 4.4 0a2.2 2.2 0 1 0 -4.4 0M361.26 128.83a2.2 2.2 0 1 0 4.4 0a2.2 2.2 0 1 0 -4.4 0M361.4 132.86a2.2 2.2 0 1 0 4.4 0a2.2 2.2 0 1 0 -4.4 0M361.55 126.72a2.2 2.2 0 1 0 4.4 0a2.2 2.2 0 1 0 -4.4 0M361.69 128.13a2.2 2.2 0 1 0 4.4 0a2.2 2.2 0 1 0 -4.4 0M361.84 132.7a2.2 2.2 0 1 0 4.4 0a2.2 2.2 0 1 0 -4.4 0M361.98 126.8a2.2 2.2 0 1 0 4.4 0a2.2 2.2 0 1 0 -4.4 0M362.12 130.54a2.2 2.2 0 1 0 4.4 0a2.2 2.2 0 1 0 -4.4 0M362.27 124.68a2.2 2.2 0 1 0 4.4 0a2.2 2.2 0 1 0 -4.4 0M362.41 128.36a2.2 2.2 0 1 0 4.4 0a2.2 2.2 0 1 0 -4.4 0M362.56 129.04a2.2 2.2 0 1 0 4.4 0a2.2 2.2 0 1 0 -4.4 0M362.7 125.04a2.2 2.2 0 1 0 4.4 0a2.2 2.2 0 1 0 -4.4 0M362.84 125.78a2.2 2.2 0 1 0 4.4 0a2.2 2.2 0 1 0 -4.4 0M362.99 127.28a2.2 2.2 0 1 0 4.4 0a2.2 2.2 0 1 0 -4.4 0M363.13 127.28a2.2 2.2 0 1 0 4.4 0a2.2 2.2 0 1 0 -4.4 0M363.28 123.34a2.2 2.2 0 1 0 4.4 0a2.2 2.2 0 1 0 -4.4 0M363.42 125.25a2.2 2.2 0 1 0 4.4 0a2.2 2.2 0 1 0 -4.4 0M363.56 129.35a2.2 2.2 0 1 0 4.4 0a2.2 2.2 0 1 0 -4.4 0M363.71 123.92a2.2 2.2 0 1 0 4.4 0a2.2 2.2 0 1 0 -4.4 0M363.85 127.19a2.2 2.2 0 1 0 4.4 0a2.2 2.2 0 1 0 -4.4 0M364 122.29a2.2 2.2 0 1 0 4.4 0a2.2 2.2 0 1 0 -4.4 0M364.14 124.13a2.2 2.2 0 1 0 4.4 0a2.2 2.2 0 1 0 -4.4 0M364.28 124.26a2.2 2.2 0 1 0 4.4 0a2.2 2.2 0 1 0 -4.4 0M364.43 124.54a2.2 2.2 0 1 0 4.4 0a2.2 2.2 0 1 0 -4.4 0M364.57 125.13a2.2 2.2 0 1 0 4.4 0a2.2 2.2 0 1 0 -4.4 0M364.72 125.38a2.2 2.2 0 1 0 4.4 0a2.2 2.2 0 1 0 -4.4 0M364.86 124.38a2.2 2.2 0 1 0 4.4 0a2.2 2.2 0 1 0 -4.4 0M365 124.83a2.2 2.2 0 1 0 4.4 0a2.2 2.2 0 1 0 -4.4 0M365.15 125.06a2.2 2.2 0 1 0 4.4 0a2.2 2.2 0 1 0 -4.4 0M365.29 120.63a2.2 2.2 0 1 0 4.4 0a2.2 2.2 0 1 0 -4.4 0M365.44 124.02a2.2 2.2 0 1 0 4.4 0a2.2 2.2 0 1 0 -4.4 0M365.58 121.5a2.2 2.2 0 1 0 4.4 0a2.2 2.2 0 1 0 -4.4 0M365.72 119.18a2.2 2.2 0 1 0 4.4 0a2.2 2.2 0 1 0 -4.4 0M365.87 118.15a2.2 2.2 0 1 0 4.4 0a2.2 2.2 0 1 0 -4.4 0M366.01 122.32a2.2 2.2 0 1 0 4.4 0a2.2 2.2 0 1 0 -4.4 0M366.16 121.11a2.2 2.2 0 1 0 4.4 0a2.2 2.2 0 1 0 -4.4 0M366.3 116.31a2.2 2.2 0 1 0 4.4 0a2.2 2.2 0 1 0 -4.4 0M366.44 120.13a2.2 2.2 0 1 0 4.4 0a2.2 2.2 0 1 0 -4.4 0M366.59 115.46a2.2 2.2 0 1 0 4.4 0a2.2 2.2 0 1 0 -4.4 0M366.73 118.08a2.2 2.2 0 1 0 4.4 0a2.2 2.2 0 1 0 -4.4 0M366.88 119.08a2.2 2.2 0 1 0 4.4 0a2.2 2.2 0 1 0 -4.4 0M367.02 119.32a2.2 2.2 0 1 0 4.4 0a2.2 2.2 0 1 0 -4.4 0M367.16 115.31a2.2 2.2 0 1 0 4.4 0a2.2 2.2 0 1 0 -4.4 0M367.31 113.97a2.2 2.2 0 1 0 4.4 0a2.2 2.2 0 1 0 -4.4 0M367.45 117.87a2.2 2.2 0 1 0 4.4 0a2.2 2.2 0 1 0 -4.4 0M367.6 119.2a2.2 2.2 0 1 0 4.4 0a2.2 2.2 0 1 0 -4.4 0M367.74 118.73a2.2 2.2 0 1 0 4.4 0a2.2 2.2 0 1 0 -4.4 0M367.88 115.39a2.2 2.2 0 1 0 4.4 0a2.2 2.2 0 1 0 -4.4 0M368.03 116.62a2.2 2.2 0 1 0 4.4 0a2.2 2.2 0 1 0 -4.4 0M368.17 117.27a2.2 2.2 0 1 0 4.4 0a2.2 2.2 0 1 0 -4.4 0M368.32 117.95a2.2 2.2 0 1 0 4.4 0a2.2 2.2 0 1 0 -4.4 0M368.46 115.1a2.2 2.2 0 1 0 4.4 0a2.2 2.2 0 1 0 -4.4 0M368.6 117.33a2.2 2.2 0 1 0 4.4 0a2.2 2.2 0 1 0 -4.4 0M368.75 113.23a2.2 2.2 0 1 0 4.4 0a2.2 2.2 0 1 0 -4.4 0M368.89 112.18a2.2 2.2 0 1 0 4.4 0a2.2 2.2 0 1 0 -4.4 0M369.04 112.44a2.2 2.2 0 1 0 4.4 0a2.2 2.2 0 1 0 -4.4 0M369.18 115.11a2.2 2.2 0 1 0 4.4 0a2.2 2.2 0 1 0 -4.4 0M369.32 115.78a2.2 2.2 0 1 0 4.4 0a2.2 2.2 0 1 0 -4.4 0M369.47 112.77a2.2 2.2 0 1 0 4.4 0a2.2 2.2 0 1 0 -4.4 0M369.61 113.94a2.2 2.2 0 1 0 4.4 0a2.2 2.2 0 1 0 -4.4 0M369.76 109.72a2.2 2.2 0 1 0 4.4 0a2.2 2.2 0 1 0 -4.4 0M369.9 112.08a2.2 2.2 0 1 0 4.4 0a2.2 2.2 0 1 0 -4.4 0M370.04 111.27a2.2 2.2 0 1 0 4.4 0a2.2 2.2 0 1 0 -4.4 0M370.19 110.94a2.2 2.2 0 1 0 4.4 0a2.2 2.2 0 1 0 -4.4 0M370.33 108.92a2.2 2.2 0 1 0 4.4 0a2.2 2.2 0 1 0 -4.4 0M370.48 111.54a2.2 2.2 0 1 0 4.4 0a2.2 2.2 0 1 0 -4.4 0M370.62 111.52a2.2 2.2 0 1 0 4.4 0a2.2 2.2 0 1 0 -4.4 0M370.76 110.98a2.2 2.2 0 1 0 4.4 0a2.2 2.2 0 1 0 -4.4 0M370.91 111.28a2.2 2.2 0 1 0 4.4 0a2.2 2.2 0 1 0 -4.4 0M371.05 109.24a2.2 2.2 0 1 0 4.4 0a2.2 2.2 0 1 0 -4.4 0M371.2 111.25a2.2 2.2 0 1 0 4.4 0a2.2 2.2 0 1 0 -4.4 0M371.34 109.29a2.2 2.2 0 1 0 4.4 0a2.2 2.2 0 1 0 -4.4 0M371.48 110.73a2.2 2.2 0 1 0 4.4 0a2.2 2.2 0 1 0 -4.4 0M371.63 107.69a2.2 2.2 0 1 0 4.4 0a2.2 2.2 0 1 0 -4.4 0M371.77 109.05a2.2 2.2 0 1 0 4.4 0a2.2 2.2 0 1 0 -4.4 0M371.92 105.73a2.2 2.2 0 1 0 4.4 0a2.2 2.2 0 1 0 -4.4 0M372.06 104.64a2.2 2.2 0 1 0 4.4 0a2.2 2.2 0 1 0 -4.4 0M372.2 109.28a2.2 2.2 0 1 0 4.4 0a2.2 2.2 0 1 0 -4.4 0M372.35 105.9a2.2 2.2 0 1 0 4.4 0a2.2 2.2 0 1 0 -4.4 0M372.49 103.49a2.2 2.2 0 1 0 4.4 0a2.2 2.2 0 1 0 -4.4 0M372.64 106.64a2.2 2.2 0 1 0 4.4 0a2.2 2.2 0 1 0 -4.4 0M372.78 107.91a2.2 2.2 0 1 0 4.4 0a2.2 2.2 0 1 0 -4.4 0M372.92 106.75a2.2 2.2 0 1 0 4.4 0a2.2 2.2 0 1 0 -4.4 0M373.07 107.47a2.2 2.2 0 1 0 4.4 0a2.2 2.2 0 1 0 -4.4 0M373.21 106.88a2.2 2.2 0 1 0 4.4 0a2.2 2.2 0 1 0 -4.4 0M373.36 104.17a2.2 2.2 0 1 0 4.4 0a2.2 2.2 0 1 0 -4.4 0M373.5 102.65a2.2 2.2 0 1 0 4.4 0a2.2 2.2 0 1 0 -4.4 0M373.64 101.32a2.2 2.2 0 1 0 4.4 0a2.2 2.2 0 1 0 -4.4 0M373.79 102.26a2.2 2.2 0 1 0 4.4 0a2.2 2.2 0 1 0 -4.4 0M373.93 103.75a2.2 2.2 0 1 0 4.4 0a2.2 2.2 0 1 0 -4.4 0M374.08 104.68a2.2 2.2 0 1 0 4.4 0a2.2 2.2 0 1 0 -4.4 0M374.22 99.68a2.2 2.2 0 1 0 4.4 0a2.2 2.2 0 1 0 -4.4 0M374.36 103.58a2.2 2.2 0 1 0 4.4 0a2.2 2.2 0 1 0 -4.4 0M374.51 103.01a2.2 2.2 0 1 0 4.4 0a2.2 2.2 0 1 0 -4.4 0M374.65 102.35a2.2 2.2 0 1 0 4.4 0a2.2 2.2 0 1 0 -4.4 0M374.8 99.35a2.2 2.2 0 1 0 4.4 0a2.2 2.2 0 1 0 -4.4 0M374.94 98.62a2.2 2.2 0 1 0 4.4 0a2.2 2.2 0 1 0 -4.4 0M375.08 101.53a2.2 2.2 0 1 0 4.4 0a2.2 2.2 0 1 0 -4.4 0M375.23 100.8a2.2 2.2 0 1 0 4.4 0a2.2 2.2 0 1 0 -4.4 0M375.37 99.31a2.2 2.2 0 1 0 4.4 0a2.2 2.2 0 1 0 -4.4 0M375.52 98.89a2.2 2.2 0 1 0 4.4 0a2.2 2.2 0 1 0 -4.4 0M375.66 97.04a2.2 2.2 0 1 0 4.4 0a2.2 2.2 0 1 0 -4.4 0M375.8 100.8a2.2 2.2 0 1 0 4.4 0a2.2 2.2 0 1 0 -4.4 0M375.95 99.87a2.2 2.2 0 1 0 4.4 0a2.2 2.2 0 1 0 -4.4 0M376.09 100.01a2.2 2.2 0 1 0 4.4 0a2.2 2.2 0 1 0 -4.4 0M376.24 99.1a2.2 2.2 0 1 0 4.4 0a2.2 2.2 0 1 0 -4.4 0M376.38 97.43a2.2 2.2 0 1 0 4.4 0a2.2 2.2 0 1 0 -4.4 0M376.52 98.5a2.2 2.2 0 1 0 4.4 0a2.2 2.2 0 1 0 -4.4 0M376.67 95.75a2.2 2.2 0 1 0 4.4 0a2.2 2.2 0 1 0 -4.4 0M376.81 97.21a2.2 2.2 0 1 0 4.4 0a2.2 2.2 0 1 0 -4.4 0M376.96 95.29a2.2 2.2 0 1 0 4.4 0a2.2 2.2 0 1 0 -4.4 0M377.1 95.56a2.2 2.2 0 1 0 4.4 0a2.2 2.2 0 1 0 -4.4 0M377.24 96.83a2.2 2.2 0 1 0 4.4 0a2.2 2.2 0 1 0 -4.4 0M377.39 95.03a2.2 2.2 0 1 0 4.4 0a2.2 2.2 0 1 0 -4.4 0M377.53 96.19a2.2 2.2 0 1 0 4.4 0a2.2 2.2 0 1 0 -4.4 0M377.68 94.94a2.2 2.2 0 1 0 4.4 0a2.2 2.2 0 1 0 -4.4 0M377.82 93.61a2.2 2.2 0 1 0 4.4 0a2.2 2.2 0 1 0 -4.4 0M377.96 93.18a2.2 2.2 0 1 0 4.4 0a2.2 2.2 0 1 0 -4.4 0M378.11 91.86a2.2 2.2 0 1 0 4.4 0a2.2 2.2 0 1 0 -4.4 0M378.25 93.5a2.2 2.2 0 1 0 4.4 0a2.2 2.2 0 1 0 -4.4 0M378.4 93.9a2.2 2.2 0 1 0 4.4 0a2.2 2.2 0 1 0 -4.4 0M378.54 91.79a2.2 2.2 0 1 0 4.4 0a2.2 2.2 0 1 0 -4.4 0M378.68 92.22a2.2 2.2 0 1 0 4.4 0a2.2 2.2 0 1 0 -4.4 0M378.83 93.19a2.2 2.2 0 1 0 4.4 0a2.2 2.2 0 1 0 -4.4 0M378.97 91.32a2.2 2.2 0 1 0 4.4 0a2.2 2.2 0 1 0 -4.4 0M379.12 92.35a2.2 2.2 0 1 0 4.4 0a2.2 2.2 0 1 0 -4.4 0M379.26 91.72a2.2 2.2 0 1 0 4.4 0a2.2 2.2 0 1 0 -4.4 0M379.4 90.58a2.2 2.2 0 1 0 4.4 0a2.2 2.2 0 1 0 -4.4 0M379.55 90.57a2.2 2.2 0 1 0 4.4 0a2.2 2.2 0 1 0 -4.4 0M379.69 88.78a2.2 2.2 0 1 0 4.4 0a2.2 2.2 0 1 0 -4.4 0M379.84 89.61a2.2 2.2 0 1 0 4.4 0a2.2 2.2 0 1 0 -4.4 0M379.98 89.78a2.2 2.2 0 1 0 4.4 0a2.2 2.2 0 1 0 -4.4 0M380.12 88.28a2.2 2.2 0 1 0 4.4 0a2.2 2.2 0 1 0 -4.4 0M380.27 87.49a2.2 2.2 0 1 0 4.4 0a2.2 2.2 0 1 0 -4.4 0M380.41 87.12a2.2 2.2 0 1 0 4.4 0a2.2 2.2 0 1 0 -4.4 0M380.56 87.14a2.2 2.2 0 1 0 4.4 0a2.2 2.2 0 1 0 -4.4 0M380.7 86.99a2.2 2.2 0 1 0 4.4 0a2.2 2.2 0 1 0 -4.4 0M380.84 87.73a2.2 2.2 0 1 0 4.4 0a2.2 2.2 0 1 0 -4.4 0M380.99 86.82a2.2 2.2 0 1 0 4.4 0a2.2 2.2 0 1 0 -4.4 0M381.13 86.64a2.2 2.2 0 1 0 4.4 0a2.2 2.2 0 1 0 -4.4 0M381.28 85.97a2.2 2.2 0 1 0 4.4 0a2.2 2.2 0 1 0 -4.4 0M381.42 85.65a2.2 2.2 0 1 0 4.4 0a2.2 2.2 0 1 0 -4.4 0M381.56 85.73a2.2 2.2 0 1 0 4.4 0a2.2 2.2 0 1 0 -4.4 0M381.71 85.66a2.2 2.2 0 1 0 4.4 0a2.2 2.2 0 1 0 -4.4 0M381.85 84.59a2.2 2.2 0 1 0 4.4 0a2.2 2.2 0 1 0 -4.4 0M382 84.63a2.2 2.2 0 1 0 4.4 0a2.2 2.2 0 1 0 -4.4 0M382.14 84.56a2.2 2.2 0 1 0 4.4 0a2.2 2.2 0 1 0 -4.4 0M382.28 84.54a2.2 2.2 0 1 0 4.4 0a2.2 2.2 0 1 0 -4.4 0M382.43 83.53a2.2 2.2 0 1 0 4.4 0a2.2 2.2 0 1 0 -4.4 0M382.57 83.34a2.2 2.2 0 1 0 4.4 0a2.2 2.2 0 1 0 -4.4 0M382.72 83.18a2.2 2.2 0 1 0 4.4 0a2.2 2.2 0 1 0 -4.4 0M382.86 82.51a2.2 2.2 0 1 0 4.4 0a2.2 2.2 0 1 0 -4.4 0M383 82.56a2.2 2.2 0 1 0 4.4 0a2.2 2.2 0 1 0 -4.4 0M383.15 82.43a2.2 2.2 0 1 0 4.4 0a2.2 2.2 0 1 0 -4.4 0M383.29 81.71a2.2 2.2 0 1 0 4.4 0a2.2 2.2 0 1 0 -4.4 0M383.44 81.5a2.2 2.2 0 1 0 4.4 0a2.2 2.2 0 1 0 -4.4 0M383.58 81.02a2.2 2.2 0 1 0 4.4 0a2.2 2.2 0 1 0 -4.4 0M383.72 80.86a2.2 2.2 0 1 0 4.4 0a2.2 2.2 0 1 0 -4.4 0M383.87 80.62a2.2 2.2 0 1 0 4.4 0a2.2 2.2 0 1 0 -4.4 0M384.01 80.2a2.2 2.2 0 1 0 4.4 0a2.2 2.2 0 1 0 -4.4 0M384.16 79.84a2.2 2.2 0 1 0 4.4 0a2.2 2.2 0 1 0 -4.4 0M384.3 79.52a2.2 2.2 0 1 0 4.4 0a2.2 2.2 0 1 0 -4.4 0M384.44 79.17a2.2 2.2 0 1 0 4.4 0a2.2 2.2 0 1 0 -4.4 0M384.59 78.82a2.2 2.2 0 1 0 4.4 0a2.2 2.2 0 1 0 -4.4 0M384.73 78.47a2.2 2.2 0 1 0 4.4 0a2.2 2.2 0 1 0 -4.4 0M384.88 78.11a2.2 2.2 0 1 0 4.4 0a2.2 2.2 0 1 0 -4.4 0M385.02 77.75a2.2 2.2 0 1 0 4.4 0a2.2 2.2 0 1 0 -4.4 0M385.16 77.39a2.2 2.2 0 1 0 4.4 0a2.2 2.2 0 1 0 -4.4 0M385.31 77.03a2.2 2.2 0 1 0 4.4 0a2.2 2.2 0 1 0 -4.4 0M385.45 76.67a2.2 2.2 0 1 0 4.4 0a2.2 2.2 0 1 0 -4.4 0M385.6 76.31a2.2 2.2 0 1 0 4.4 0a2.2 2.2 0 1 0 -4.4 0M385.74 75.94a2.2 2.2 0 1 0 4.4 0a2.2 2.2 0 1 0 -4.4 0M385.88 75.57a2.2 2.2 0 1 0 4.4 0a2.2 2.2 0 1 0 -4.4 0M386.03 75.2a2.2 2.2 0 1 0 4.4 0a2.2 2.2 0 1 0 -4.4 0M386.17 74.83a2.2 2.2 0 1 0 4.4 0a2.2 2.2 0 1 0 -4.4 0M386.32 74.46a2.2 2.2 0 1 0 4.4 0a2.2 2.2 0 1 0 -4.4 0M386.46 74.08a2.2 2.2 0 1 0 4.4 0a2.2 2.2 0 1 0 -4.4 0M386.6 73.71a2.2 2.2 0 1 0 4.4 0a2.2 2.2 0 1 0 -4.4 0M386.75 73.33a2.2 2.2 0 1 0 4.4 0a2.2 2.2 0 1 0 -4.4 0M386.89 72.95a2.2 2.2 0 1 0 4.4 0a2.2 2.2 0 1 0 -4.4 0M387.04 72.56a2.2 2.2 0 1 0 4.4 0a2.2 2.2 0 1 0 -4.4 0M387.18 72.18a2.2 2.2 0 1 0 4.4 0a2.2 2.2 0 1 0 -4.4 0M387.32 71.79a2.2 2.2 0 1 0 4.4 0a2.2 2.2 0 1 0 -4.4 0M387.47 71.4a2.2 2.2 0 1 0 4.4 0a2.2 2.2 0 1 0 -4.4 0M387.61 71.01a2.2 2.2 0 1 0 4.4 0a2.2 2.2 0 1 0 -4.4 0M387.76 70.61a2.2 2.2 0 1 0 4.4 0a2.2 2.2 0 1 0 -4.4 0M387.9 70.22a2.2 2.2 0 1 0 4.4 0a2.2 2.2 0 1 0 -4.4 0M388.04 69.82a2.2 2.2 0 1 0 4.4 0a2.2 2.2 0 1 0 -4.4 0M388.19 69.42a2.2 2.2 0 1 0 4.4 0a2.2 2.2 0 1 0 -4.4 0M388.33 69.01a2.2 2.2 0 1 0 4.4 0a2.2 2.2 0 1 0 -4.4 0M388.48 68.61a2.2 2.2 0 1 0 4.4 0a2.2 2.2 0 1 0 -4.4 0M388.62 68.2a2.2 2.2 0 1 0 4.4 0a2.2 2.2 0 1 0 -4.4 0M388.76 67.79a2.2 2.2 0 1 0 4.4 0a2.2 2.2 0 1 0 -4.4 0M388.91 67.37a2.2 2.2 0 1 0 4.4 0a2.2 2.2 0 1 0 -4.4 0M389.05 66.96a2.2 2.2 0 1 0 4.4 0a2.2 2.2 0 1 0 -4.4 0M389.2 66.54a2.2 2.2 0 1 0 4.4 0a2.2 2.2 0 1 0 -4.4 0M389.34 66.11a2.2 2.2 0 1 0 4.4 0a2.2 2.2 0 1 0 -4.4 0M389.48 65.69a2.2 2.2 0 1 0 4.4 0a2.2 2.2 0 1 0 -4.4 0M389.63 65.26a2.2 2.2 0 1 0 4.4 0a2.2 2.2 0 1 0 -4.4 0M389.77 64.83a2.2 2.2 0 1 0 4.4 0a2.2 2.2 0 1 0 -4.4 0M389.92 64.4a2.2 2.2 0 1 0 4.4 0a2.2 2.2 0 1 0 -4.4 0M390.06 63.97a2.2 2.2 0 1 0 4.4 0a2.2 2.2 0 1 0 -4.4 0M390.2 63.53a2.2 2.2 0 1 0 4.4 0a2.2 2.2 0 1 0 -4.4 0M390.35 63.09a2.2 2.2 0 1 0 4.4 0a2.2 2.2 0 1 0 -4.4 0M390.49 62.64a2.2 2.2 0 1 0 4.4 0a2.2 2.2 0 1 0 -4.4 0M390.64 62.2a2.2 2.2 0 1 0 4.4 0a2.2 2.2 0 1 0 -4.4 0M390.78 61.75a2.2 2.2 0 1 0 4.4 0a2.2 2.2 0 1 0 -4.4 0M390.92 61.29a2.2 2.2 0 1 0 4.4 0a2.2 2.2 0 1 0 -4.4 0M391.07 60.84a2.2 2.2 0 1 0 4.4 0a2.2 2.2 0 1 0 -4.4 0M391.21 60.38a2.2 2.2 0 1 0 4.4 0a2.2 2.2 0 1 0 -4.4 0M391.36 59.92a2.2 2.2 0 1 0 4.4 0a2.2 2.2 0 1 0 -4.4 0M391.5 59.45a2.2 2.2 0 1 0 4.4 0a2.2 2.2 0 1 0 -4.4 0M391.64 58.98a2.2 2.2 0 1 0 4.4 0a2.2 2.2 0 1 0 -4.4 0M391.79 58.51a2.2 2.2 0 1 0 4.4 0a2.2 2.2 0 1 0 -4.4 0M391.93 58.04a2.2 2.2 0 1 0 4.4 0a2.2 2.2 0 1 0 -4.4 0M392.08 57.56a2.2 2.2 0 1 0 4.4 0a2.2 2.2 0 1 0 -4.4 0M392.22 57.08a2.2 2.2 0 1 0 4.4 0a2.2 2.2 0 1 0 -4.4 0M392.36 56.6a2.2 2.2 0 1 0 4.4 0a2.2 2.2 0 1 0 -4.4 0M392.51 56.11a2.2 2.2 0 1 0 4.4 0a2.2 2.2 0 1 0 -4.4 0M392.65 55.62a2.2 2.2 0 1 0 4.4 0a2.2 2.2 0 1 0 -4.4 0M392.8 55.13a2.2 2.2 0 1 0 4.4 0a2.2 2.2 0 1 0 -4.4 0M392.94 54.64a2.2 2.2 0 1 0 4.4 0a2.2 2.2 0 1 0 -4.4 0M393.08 54.14a2.2 2.2 0 1 0 4.4 0a2.2 2.2 0 1 0 -4.4 0M393.23 53.64a2.2 2.2 0 1 0 4.4 0a2.2 2.2 0 1 0 -4.4 0M393.37 53.13a2.2 2.2 0 1 0 4.4 0a2.2 2.2 0 1 0 -4.4 0M393.52 52.62a2.2 2.2 0 1 0 4.4 0a2.2 2.2 0 1 0 -4.4 0M393.66 52.11a2.2 2.2 0 1 0 4.4 0a2.2 2.2 0 1 0 -4.4 0M393.8 51.6a2.2 2.2 0 1 0 4.4 0a2.2 2.2 0 1 0 -4.4 0M393.95 51.08a2.2 2.2 0 1 0 4.4 0a2.2 2.2 0 1 0 -4.4 0M394.09 50.56a2.2 2.2 0 1 0 4.4 0a2.2 2.2 0 1 0 -4.4 0M394.24 50.04a2.2 2.2 0 1 0 4.4 0a2.2 2.2 0 1 0 -4.4 0M394.38 49.51a2.2 2.2 0 1 0 4.4 0a2.2 2.2 0 1 0 -4.4 0M394.52 48.98a2.2 2.2 0 1 0 4.4 0a2.2 2.2 0 1 0 -4.4 0M394.67 48.45a2.2 2.2 0 1 0 4.4 0a2.2 2.2 0 1 0 -4.4 0M394.81 47.91a2.2 2.2 0 1 0 4.4 0a2.2 2.2 0 1 0 -4.4 0M394.96 47.37a2.2 2.2 0 1 0 4.4 0a2.2 2.2 0 1 0 -4.4 0M395.1 46.83a2.2 2.2 0 1 0 4.4 0a2.2 2.2 0 1 0 -4.4 0M395.24 46.29a2.2 2.2 0 1 0 4.4 0a2.2 2.2 0 1 0 -4.4 0M395.39 45.74a2.2 2.2 0 1 0 4.4 0a2.2 2.2 0 1 0 -4.4 0M395.53 45.19a2.2 2.2 0 1 0 4.4 0a2.2 2.2 0 1 0 -4.4 0M395.68 44.63a2.2 2.2 0 1 0 4.4 0a2.2 2.2 0 1 0 -4.4 0M395.82 44.08a2.2 2.2 0 1 0 4.4 0a2.2 2.2 0 1 0 -4.4 0M395.96 43.52a2.2 2.2 0 1 0 4.4 0a2.2 2.2 0 1 0 -4.4 0M396.11 42.95a2.2 2.2 0 1 0 4.4 0a2.2 2.2 0 1 0 -4.4 0M396.25 42.39a2.2 2.2 0 1 0 4.4 0a2.2 2.2 0 1 0 -4.4 0M396.4 41.82a2.2 2.2 0 1 0 4.4 0a2.2 2.2 0 1 0 -4.4 0M396.54 41.25a2.2 2.2 0 1 0 4.4 0a2.2 2.2 0 1 0 -4.4 0M396.68 40.68a2.2 2.2 0 1 0 4.4 0a2.2 2.2 0 1 0 -4.4 0M396.83 40.1a2.2 2.2 0 1 0 4.4 0a2.2 2.2 0 1 0 -4.4 0M396.97 39.52a2.2 2.2 0 1 0 4.4 0a2.2 2.2 0 1 0 -4.4 0M397.12 38.94a2.2 2.2 0 1 0 4.4 0a2.2 2.2 0 1 0 -4.4 0M397.26 38.36a2.2 2.2 0 1 0 4.4 0a2.2 2.2 0 1 0 -4.4 0M397.4 37.77a2.2 2.2 0 1 0 4.4 0a2.2 2.2 0 1 0 -4.4 0M397.55 37.18a2.2 2.2 0 1 0 4.4 0a2.2 2.2 0 1 0 -4.4 0M397.69 36.59a2.2 2.2 0 1 0 4.4 0a2.2 2.2 0 1 0 -4.4 0M397.84 35.99a2.2 2.2 0 1 0 4.4 0a2.2 2.2 0 1 0 -4.4 0M397.98 35.4a2.2 2.2 0 1 0 4.4 0a2.2 2.2 0 1 0 -4.4 0M398.12 34.8a2.2 2.2 0 1 0 4.4 0a2.2 2.2 0 1 0 -4.4 0M398.27 34.2a2.2 2.2 0 1 0 4.4 0a2.2 2.2 0 1 0 -4.4 0M398.41 33.59a2.2 2.2 0 1 0 4.4 0a2.2 2.2 0 1 0 -4.4 0M398.56 32.99a2.2 2.2 0 1 0 4.4 0a2.2 2.2 0 1 0 -4.4 0M398.7 32.38a2.2 2.2 0 1 0 4.4 0a2.2 2.2 0 1 0 -4.4 0M398.84 31.77a2.2 2.2 0 1 0 4.4 0a2.2 2.2 0 1 0 -4.4 0M398.99 31.15a2.2 2.2 0 1 0 4.4 0a2.2 2.2 0 1 0 -4.4 0M399.13 30.54a2.2 2.2 0 1 0 4.4 0a2.2 2.2 0 1 0 -4.4 0M399.28 29.92a2.2 2.2 0 1 0 4.4 0a2.2 2.2 0 1 0 -4.4 0M399.42 29.3a2.2 2.2 0 1 0 4.4 0a2.2 2.2 0 1 0 -4.4 0M399.56 28.68a2.2 2.2 0 1 0 4.4 0a2.2 2.2 0 1 0 -4.4 0M399.71 28.06a2.2 2.2 0 1 0 4.4 0a2.2 2.2 0 1 0 -4.4 0M399.85 27.43a2.2 2.2 0 1 0 4.4 0a2.2 2.2 0 1 0 -4.4 0M400 26.81a2.2 2.2 0 1 0 4.4 0a2.2 2.2 0 1 0 -4.4 0M400.14 26.18a2.2 2.2 0 1 0 4.4 0a2.2 2.2 0 1 0 -4.4 0M400.28 25.54a2.2 2.2 0 1 0 4.4 0a2.2 2.2 0 1 0 -4.4 0M400.43 24.91a2.2 2.2 0 1 0 4.4 0a2.2 2.2 0 1 0 -4.4 0M400.57 24.28a2.2 2.2 0 1 0 4.4 0a2.2 2.2 0 1 0 -4.4 0M400.72 23.64a2.2 2.2 0 1 0 4.4 0a2.2 2.2 0 1 0 -4.4 0M400.86 23a2.2 2.2 0 1 0 4.4 0a2.2 2.2 0 1 0 -4.4 0M401 22.36a2.2 2.2 0 1 0 4.4 0a2.2 2.2 0 1 0 -4.4 0M401.15 21.72a2.2 2.2 0 1 0 4.4 0a2.2 2.2 0 1 0 -4.4 0M401.29 21.08a2.2 2.2 0 1 0 4.4 0a2.2 2.2 0 1 0 -4.4 0M401.44 20.43a2.2 2.2 0 1 0 4.4 0a2.2 2.2 0 1 0 -4.4 0M401.58 19.78a2.2 2.2 0 1 0 4.4 0a2.2 2.2 0 1 0 -4.4 0M401.72 19.14a2.2 2.2 0 1 0 4.4 0a2.2 2.2 0 1 0 -4.4 0M401.87 18.49a2.2 2.2 0 1 0 4.4 0a2.2 2.2 0 1 0 -4.4 0M402.01 17.84a2.2 2.2 0 1 0 4.4 0a2.2 2.2 0 1 0 -4.4 0M402.16 17.18a2.2 2.2 0 1 0 4.4 0a2.2 2.2 0 1 0 -4.4 0M402.3 16.53a2.2 2.2 0 1 0 4.4 0a2.2 2.2 0 1 0 -4.4 0M302.7 88.1a2.2 2.2 0 1 0 4.4 0a2.2 2.2 0 1 0 -4.4 0M304.8 102a2.2 2.2 0 1 0 4.4 0a2.2 2.2 0 1 0 -4.4 0M293.8 102.2a2.2 2.2 0 1 0 4.4 0a2.2 2.2 0 1 0 -4.4 0M298.7 104.7a2.2 2.2 0 1 0 4.4 0a2.2 2.2 0 1 0 -4.4 0M300.5 107.1a2.2 2.2 0 1 0 4.4 0a2.2 2.2 0 1 0 -4.4 0M288.8 99.7a2.2 2.2 0 1 0 4.4 0a2.2 2.2 0 1 0 -4.4 0M292.5 107.7a2.2 2.2 0 1 0 4.4 0a2.2 2.2 0 1 0 -4.4 0M295 110.8a2.2 2.2 0 1 0 4.4 0a2.2 2.2 0 1 0 -4.4 0M306.3 115.1a2.2 2.2 0 1 0 4.4 0a2.2 2.2 0 1 0 -4.4 0M297.5 114.5a2.2 2.2 0 1 0 4.4 0a2.2 2.2 0 1 0 -4.4 0M299.9 115.7a2.2 2.2 0 1 0 4.4 0a2.2 2.2 0 1 0 -4.4 0M301.8 118.4a2.2 2.2 0 1 0 4.4 0a2.2 2.2 0 1 0 -4.4 0M302.4 123.7a2.2 2.2 0 1 0 4.4 0a2.2 2.2 0 1 0 -4.4 0M307.3 126.8a2.2 2.2 0 1 0 4.4 0a2.2 2.2 0 1 0 -4.4 0M301.1 127.4a2.2 2.2 0 1 0 4.4 0a2.2 2.2 0 1 0 -4.4 0M298.7 121.9a2.2 2.2 0 1 0 4.4 0a2.2 2.2 0 1 0 -4.4 0M301.8 124.3a2.2 2.2 0 1 0 4.4 0a2.2 2.2 0 1 0 -4.4 0M310.4 140.3a2.2 2.2 0 1 0 4.4 0a2.2 2.2 0 1 0 -4.4 0M313.5 146a2.2 2.2 0 1 0 4.4 0a2.2 2.2 0 1 0 -4.4 0M315.3 152.9a2.2 2.2 0 1 0 4.4 0a2.2 2.2 0 1 0 -4.4 0M320.2 163.6a2.2 2.2 0 1 0 4.4 0a2.2 2.2 0 1 0 -4.4 0M328.7 171.3a2.2 2.2 0 1 0 4.4 0a2.2 2.2 0 1 0 -4.4 0M333.4 168.4a2.2 2.2 0 1 0 4.4 0a2.2 2.2 0 1 0 -4.4 0M341.1 146.4a2.2 2.2 0 1 0 4.4 0a2.2 2.2 0 1 0 -4.4 0M338 149.5a2.2 2.2 0 1 0 4.4 0a2.2 2.2 0 1 0 -4.4 0M338.6 153.2a2.2 2.2 0 1 0 4.4 0a2.2 2.2 0 1 0 -4.4 0M337.4 161.8a2.2 2.2 0 1 0 4.4 0a2.2 2.2 0 1 0 -4.4 0M333.1 167.9a2.2 2.2 0 1 0 4.4 0a2.2 2.2 0 1 0 -4.4 0M342.9 159.3a2.2 2.2 0 1 0 4.4 0a2.2 2.2 0 1 0 -4.4 0M370.3 93.4a2.2 2.2 0 1 0 4.4 0a2.2 2.2 0 1 0 -4.4 0M366 100.4a2.2 2.2 0 1 0 4.4 0a2.2 2.2 0 1 0 -4.4 0M358.4 104.3a2.2 2.2 0 1 0 4.4 0a2.2 2.2 0 1 0 -4.4 0M351.2 106.1a2.2 2.2 0 1 0 4.4 0a2.2 2.2 0 1 0 -4.4 0M366.6 104.7a2.2 2.2 0 1 0 4.4 0a2.2 2.2 0 1 0 -4.4 0M362.3 109a2.2 2.2 0 1 0 4.4 0a2.2 2.2 0 1 0 -4.4 0M364.7 110.8a2.2 2.2 0 1 0 4.4 0a2.2 2.2 0 1 0 -4.4 0M361.3 113.9a2.2 2.2 0 1 0 4.4 0a2.2 2.2 0 1 0 -4.4 0M368.4 107.1a2.2 2.2 0 1 0 4.4 0a2.2 2.2 0 1 0 -4.4 0M358.6 120a2.2 2.2 0 1 0 4.4 0a2.2 2.2 0 1 0 -4.4 0M353.1 122.7a2.2 2.2 0 1 0 4.4 0a2.2 2.2 0 1 0 -4.4 0M359.2 124.3a2.2 2.2 0 1 0 4.4 0a2.2 2.2 0 1 0 -4.4 0M345.7 132.3a2.2 2.2 0 1 0 4.4 0a2.2 2.2 0 1 0 -4.4 0M349.4 132.3a2.2 2.2 0 1 0 4.4 0a2.2 2.2 0 1 0 -4.4 0M356.1 131.1a2.2 2.2 0 1 0 4.4 0a2.2 2.2 0 1 0 -4.4 0M346.1 132.7a2.2 2.2 0 1 0 4.4 0a2.2 2.2 0 1 0 -4.4 0M349.1 132.9a2.2 2.2 0 1 0 4.4 0a2.2 2.2 0 1 0 -4.4 0M356.5 130.5a2.2 2.2 0 1 0 4.4 0a2.2 2.2 0 1 0 -4.4 0M353.4 139.7a2.2 2.2 0 1 0 4.4 0a2.2 2.2 0 1 0 -4.4 0M345.1 144a2.2 2.2 0 1 0 4.4 0a2.2 2.2 0 1 0 -4.4 0M341.2 146.4a2.2 2.2 0 1 0 4.4 0a2.2 2.2 0 1 0 -4.4 0M337.7 148.9a2.2 2.2 0 1 0 4.4 0a2.2 2.2 0 1 0 -4.4 0M338.7 153.2a2.2 2.2 0 1 0 4.4 0a2.2 2.2 0 1 0 -4.4 0M345.5 154.4a2.2 2.2 0 1 0 4.4 0a2.2 2.2 0 1 0 -4.4 0M337.5 161.4a2.2 2.2 0 1 0 4.4 0a2.2 2.2 0 1 0 -4.4 0M343 158.7a2.2 2.2 0 1 0 4.4 0a2.2 2.2 0 1 0 -4.4 0M333.2 167.9a2.2 2.2 0 1 0 4.4 0a2.2 2.2 0 1 0 -4.4 0M328.9 171a2.2 2.2 0 1 0 4.4 0a2.2 2.2 0 1 0 -4.4 0" fill="#0000ff"/>
<path d="M260.5 16.53 L260.68 17.42 L260.86 18.31 L261.04 19.2 L261.22 20.08 L261.4 20.97 L261.58 21.85 L261.76 22.73 L261.94 23.61 L262.12 24.48 L262.3 25.35 L262.48 26.23 L262.66 27.09 L262.84 27.96 L263.02 28.82 L263.2 29.69 L263.38 30.54 L263.56 31.4 L263.74 32.25 L263.92 33.1 L264.1 33.95 L264.28 34.8 L264.46 35.64 L264.64 36.48 L264.82 37.31 L265 38.15 L265.18 38.98 L265.36 39.8 L265.54 40.63 L265.72 41.45 L265.9 42.26 L266.08 43.08 L266.26 43.89 L266.44 44.69 L266.62 45.49 L266.8 46.29 L266.98 47.09 L267.16 47.88 L267.34 48.67 L267.52 49.45 L267.7 50.23 L267.88 51 L268.06 51.77 L268.24 52.54 L268.42 53.3 L268.6 54.06 L268.78 54.82 L268.96 55.57 L269.14 56.31 L269.32 57.05 L269.5 57.79 L269.68 58.52 L269.86 59.25 L270.04 59.97 L270.22 60.69 L270.4 61.41 L270.58 62.12 L270.76 62.82 L270.94 63.52 L271.12 64.22 L271.3 64.91 L271.48 65.6 L271.66 66.28 L271.84 66.95 L272.02 67.63 L272.2 68.3 L272.38 68.96 L272.56 69.62 L272.74 70.27 L272.92 70.92 L273.1 71.57 L273.28 72.21 L273.46 72.85 L273.64 73.48 L273.82 74.11 L274 74.73 L274.18 75.35 L274.36 75.97 L274.54 76.58 L274.72 77.18 L274.9 77.79 L275.08 78.39 L275.26 78.98 L275.44 79.57 L275.62 80.16 L275.8 80.74 L275.98 81.32 L276.16 81.9 L276.34 82.47 L276.52 83.04 L276.7 83.6 L276.88 84.17 L277.06 84.72 L277.24 85.28 L277.42 85.83 L277.6 86.38 L277.78 86.93 L277.96 87.47 L278.14 88.01 L278.32 88.54 L278.5 89.08 L278.68 89.61 L278.86 90.14 L279.04 90.66 L279.22 91.19 L279.4 91.71 L279.58 92.23 L279.76 92.74 L279.94 93.26 L280.12 93.77 L280.3 94.28 L280.48 94.78 L280.66 95.29 L280.84 95.79 L281.02 96.29 L281.2 96.79 L281.38 97.29 L281.56 97.78 L281.74 98.28 L281.92 98.77 L282.1 99.26 L282.28 99.75 L282.46 100.23 L282.64 100.72 L282.82 101.2 L283 101.68 L283.18 102.17 L283.36 102.65 L283.54 103.12 L283.72 103.6 L283.9 104.08 L284.08 104.55 L284.26 105.02 L284.44 105.5 L284.62 105.97 L284.8 106.44 L284.98 106.91 L285.16 107.37 L285.34 107.84 L285.52 108.31 L285.7 108.77 L285.88 109.24 L286.06 109.7 L286.24 110.16 L286.42 110.62 L286.6 111.08 L286.78 111.54 L286.96 112 L287.14 112.46 L287.32 112.92 L287.5 113.38 L287.68 113.83 L287.86 114.29 L288.04 114.74 L288.22 115.2 L288.4 115.65 L288.58 116.11 L288.76 116.56 L288.94 117.01 L289.12 117.46 L289.3 117.92 L289.48 118.37 L289.66 118.82 L289.84 119.27 L290.02 119.72 L290.2 120.17 L290.38 120.62 L290.56 121.06 L290.74 121.51 L290.92 121.96 L291.1 122.41 L291.28 122.85 L291.46 123.3 L291.64 123.75 L291.82 124.19 L292 124.64 L292.18 125.08 L292.36 125.53 L292.54 125.97 L292.72 126.41 L292.9 126.86 L293.08 127.3 L293.26 127.75 L293.44 128.19 L293.62 128.63 L293.8 129.07 L293.98 129.52 L294.16 129.96 L294.34 130.4 L294.52 130.84 L294.7 131.28 L294.88 131.72 L295.06 132.16 L295.24 132.6 L295.42 133.04 L295.6 133.48 L295.78 133.92 L295.96 134.36 L296.14 134.8 L296.32 135.24 L296.5 135.68 L296.68 136.12 L296.86 136.56 L297.04 137 L297.22 137.44 L297.4 137.87 L297.58 138.31 L297.76 138.75 L297.94 139.19 L298.12 139.62 L298.3 140.06 L298.48 140.5 L298.66 140.94 L298.84 141.37 L299.02 141.81 L299.2 142.24 L299.38 142.68 L299.56 143.12 L299.74 143.55 L299.92 143.99 L300.1 144.42 L300.28 144.86 L300.46 145.29 L300.64 145.73 L300.82 146.16 L301 146.6 L301.18 147.03 L301.36 147.47 L301.54 147.9 L301.72 148.33 L301.9 148.77 L302.08 149.2 L302.26 149.64 L302.44 150.07 L302.62 150.5 L302.8 150.93 L302.98 151.37 L303.16 151.8 L303.34 152.23 L303.52 152.66 L303.7 153.1 L303.88 153.53 L304.06 153.96 L304.24 154.39 L304.42 154.82 L304.6 155.25 L304.78 155.69 L304.96 156.12 L305.14 156.55 L305.32 156.98 L305.5 157.41 L305.68 157.84 L305.86 158.27 L306.04 158.7 L306.22 159.13 L306.4 159.56 L306.58 159.98 L306.76 160.41 L306.94 160.84 L307.12 161.27 L307.3 161.7 L307.48 162.13 L307.66 162.55 L307.84 162.98 L308.02 163.41 L308.2 163.84 L308.38 164.26 L308.56 164.69 L308.74 165.11 L308.92 165.54 L309.1 165.97 L309.28 166.39 L309.46 166.82 L309.64 167.24 L309.82 167.67 L310 168.09 L310.18 168.51 L310.36 168.94 L310.54 169.36 L310.72 169.78 L310.9 170.21 L311.08 170.63 L311.26 171.05 L311.44 171.47 L311.62 171.89 L311.8 172.32 L311.98 172.74 L312.16 173.16 L312.34 173.58 L312.52 173.99 L312.7 174.41 L312.88 174.83 L313.06 175.25 L313.24 175.67 L313.42 176.08 L313.6 176.5 L313.78 176.92 L313.96 177.33 L314.14 177.75 L314.32 178.16 L314.5 178.57 L314.68 178.99 L314.86 179.4 L315.04 179.81 L315.22 180.22 L315.4 180.63 L315.58 181.04 L315.76 181.45 L315.94 181.86 L316.12 182.27 L316.3 182.68 L316.48 183.08 L316.66 183.49 L316.84 183.89 L317.02 184.3 L317.2 184.7 L317.38 185.1 L317.56 185.5 L317.74 185.9 L317.92 186.3 L318.1 186.7 L318.28 187.1 L318.46 187.49 L318.64 187.89 L318.82 188.28 L319 188.67 L319.18 189.06 L319.36 189.45 L319.54 189.84 L319.72 190.22 L319.9 190.61 L320.08 190.99 L320.26 191.37 L320.44 191.75 L320.62 192.13 L320.8 192.51 L320.98 192.88 L321.16 193.25 L321.34 193.62 L321.52 193.99 L321.7 194.36 L321.88 194.72 L322.06 195.09 L322.24 195.45 L322.42 195.8 L322.6 196.16 L322.78 196.51 L322.96 196.86 L323.14 197.2 L323.32 197.55 L323.5 197.89 L323.68 198.22 L323.86 198.56 L324.04 198.89 L324.22 199.21 L324.4 199.54 L324.58 199.86 L324.76 200.17 L324.94 200.48 L325.12 200.79 L325.3 201.09 L325.48 201.39 L325.66 201.69 L325.84 201.98 L326.02 202.26 L326.2 202.54 L326.38 202.81 L326.56 203.08 L326.74 203.35 L326.92 203.6 L327.1 203.86 L327.28 204.1 L327.46 204.34 L327.64 204.57 L327.82 204.8 L328 205.02 L328.18 205.23 L328.36 205.44 L328.54 205.64 L328.72 205.83 L328.9 206.01 L329.08 206.19 L329.26 206.36 L329.44 206.52 L329.62 206.67 L329.8 206.81 L329.98 206.95 L330.16 207.07 L330.34 207.19 L330.52 207.3 L330.7 207.4 L330.88 207.49 L331.06 207.57 L331.24 207.64 L331.42 207.7 L331.6 207.76 L331.78 207.8 L331.96 207.83 L332.14 207.86 L332.32 207.87 L332.5 207.88 L332.68 207.87 L332.86 207.86 L333.04 207.83 L333.22 207.8 L333.4 207.76 L333.58 207.7 L333.76 207.64 L333.94 207.57 L334.12 207.49 L334.3 207.4 L334.48 207.3 L334.66 207.19 L334.84 207.07 L335.02 206.95 L335.2 206.81 L335.38 206.67 L335.56 206.52 L335.74 206.36 L335.92 206.19 L336.1 206.01 L336.28 205.83 L336.46 205.64 L336.64 205.44 L336.82 205.23 L337 205.02 L337.18 204.8 L337.36 204.57 L337.54 204.34 L337.72 204.1 L337.9 203.86 L338.08 203.6 L338.26 203.35 L338.44 203.08 L338.62 202.81 L338.8 202.54 L338.98 202.26 L339.16 201.98 L339.34 201.69 L339.52 201.39 L339.7 201.09 L339.88 200.79 L340.06 200.48 L340.24 200.17 L340.42 199.86 L340.6 199.54 L340.78 199.21 L340.96 198.89 L341.14 198.56 L341.32 198.22 L341.5 197.89 L341.68 197.55 L341.86 197.2 L342.04 196.86 L342.22 196.51 L342.4 196.16 L342.58 195.8 L342.76 195.45 L342.94 195.09 L343.12 194.72 L343.3 194.36 L343.48 193.99 L343.66 193.62 L343.84 193.25 L344.02 192.88 L344.2 192.51 L344.38 192.13 L344.56 191.75 L344.74 191.37 L344.92 190.99 L345.1 190.61 L345.28 190.22 L345.46 189.84 L345.64 189.45 L345.82 189.06 L346 188.67 L346.18 188.28 L346.36 187.89 L346.54 187.49 L346.72 187.1 L346.9 186.7 L347.08 186.3 L347.26 185.9 L347.44 185.5 L347.62 185.1 L347.8 184.7 L347.98 184.3 L348.16 183.89 L348.34 183.49 L348.52 183.08 L348.7 182.68 L348.88 182.27 L349.06 181.86 L349.24 181.45 L349.42 181.04 L349.6 180.63 L349.78 180.22 L349.96 179.81 L350.14 179.4 L350.32 178.99 L350.5 178.57 L350.68 178.16 L350.86 177.75 L351.04 177.33 L351.22 176.92 L351.4 176.5 L351.58 176.08 L351.76 175.67 L351.94 175.25 L352.12 174.83 L352.3 174.41 L352.48 173.99 L352.66 173.58 L352.84 173.16 L353.02 172.74 L353.2 172.32 L353.38 171.89 L353.56 171.47 L353.74 171.05 L353.92 170.63 L354.1 170.21 L354.28 169.78 L354.46 169.36 L354.64 168.94 L354.82 168.51 L355 168.09 L355.18 167.67 L355.36 167.24 L355.54 166.82 L355.72 166.39 L355.9 165.97 L356.08 165.54 L356.26 165.11 L356.44 164.69 L356.62 164.26 L356.8 163.84 L356.98 163.41 L357.16 162.98 L357.34 162.55 L357.52 162.13 L357.7 161.7 L357.88 161.27 L358.06 160.84 L358.24 160.41 L358.42 159.98 L358.6 159.56 L358.78 159.13 L358.96 158.7 L359.14 158.27 L359.32 157.84 L359.5 157.41 L359.68 156.98 L359.86 156.55 L360.04 156.12 L360.22 155.69 L360.4 155.25 L360.58 154.82 L360.76 154.39 L360.94 153.96 L361.12 153.53 L361.3 153.1 L361.48 152.66 L361.66 152.23 L361.84 151.8 L362.02 151.37 L362.2 150.93 L362.38 150.5 L362.56 150.07 L362.74 149.64 L362.92 149.2 L363.1 148.77 L363.28 148.33 L363.46 147.9 L363.64 147.47 L363.82 147.03 L364 146.6 L364.18 146.16 L364.36 145.73 L364.54 145.29 L364.72 144.86 L364.9 144.42 L365.08 143.99 L365.26 143.55 L365.44 143.12 L365.62 142.68 L365.8 142.24 L365.98 141.81 L366.16 141.37 L366.34 140.94 L366.52 140.5 L366.7 140.06 L366.88 139.62 L367.06 139.19 L367.24 138.75 L367.42 138.31 L367.6 137.87 L367.78 137.44 L367.96 137 L368.14 136.56 L368.32 136.12 L368.5 135.68 L368.68 135.24 L368.86 134.8 L369.04 134.36 L369.22 133.92 L369.4 133.48 L369.58 133.04 L369.76 132.6 L369.94 132.16 L370.12 131.72 L370.3 131.28 L370.48 130.84 L370.66 130.4 L370.84 129.96 L371.02 129.52 L371.2 129.07 L371.38 128.63 L371.56 128.19 L371.74 127.75 L371.92 127.3 L372.1 126.86 L372.28 126.41 L372.46 125.97 L372.64 125.53 L372.82 125.08 L373 124.64 L373.18 124.19 L373.36 123.75 L373.54 123.3 L373.72 122.85 L373.9 122.41 L374.08 121.96 L374.26 121.51 L374.44 121.06 L374.62 120.62 L374.8 120.17 L374.98 119.72 L375.16 119.27 L375.34 118.82 L375.52 118.37 L375.7 117.92 L375.88 117.46 L376.06 117.01 L376.24 116.56 L376.42 116.11 L376.6 115.65 L376.78 115.2 L376.96 114.74 L377.14 114.29 L377.32 113.83 L377.5 113.38 L377.68 112.92 L377.86 112.46 L378.04 112 L378.22 111.54 L378.4 111.08 L378.58 110.62 L378.76 110.16 L378.94 109.7 L379.12 109.24 L379.3 108.77 L379.48 108.31 L379.66 107.84 L379.84 107.37 L380.02 106.91 L380.2 106.44 L380.38 105.97 L380.56 105.5 L380.74 105.02 L380.92 104.55 L381.1 104.08 L381.28 103.6 L381.46 103.12 L381.64 102.65 L381.82 102.17 L382 101.68 L382.18 101.2 L382.36 100.72 L382.54 100.23 L382.72 99.75 L382.9 99.26 L383.08 98.77 L383.26 98.28 L383.44 97.78 L383.62 97.29 L383.8 96.79 L383.98 96.29 L384.16 95.79 L384.34 95.29 L384.52 94.78 L384.7 94.28 L384.88 93.77 L385.06 93.26 L385.24 92.74 L385.42 92.23 L385.6 91.71 L385.78 91.19 L385.96 90.66 L386.14 90.14 L386.32 89.61 L386.5 89.08 L386.68 88.54 L386.86 88.01 L387.04 87.47 L387.22 86.93 L387.4 86.38 L387.58 85.83 L387.76 85.28 L387.94 84.72 L388.12 84.17 L388.3 83.6 L388.48 83.04 L388.66 82.47 L388.84 81.9 L389.02 81.32 L389.2 80.74 L389.38 80.16 L389.56 79.57 L389.74 78.98 L389.92 78.39 L390.1 77.79 L390.28 77.18 L390.46 76.58 L390.64 75.97 L390.82 75.35 L391 74.73 L391.18 74.11 L391.36 73.48 L391.54 72.85 L391.72 72.21 L391.9 71.57 L392.08 70.92 L392.26 70.27 L392.44 69.62 L392.62 68.96 L392.8 68.3 L392.98 67.63 L393.16 66.95 L393.34 66.28 L393.52 65.6 L393.7 64.91 L393.88 64.22 L394.06 63.52 L394.24 62.82 L394.42 62.12 L394.6 61.41 L394.78 60.69 L394.96 59.97 L395.14 59.25 L395.32 58.52 L395.5 57.79 L395.68 57.05 L395.86 56.31 L396.04 55.57 L396.22 54.82 L396.4 54.06 L396.58 53.3 L396.76 52.54 L396.94 51.77 L397.12 51 L397.3 50.23 L397.48 49.45 L397.66 48.67 L397.84 47.88 L398.02 47.09 L398.2 46.29 L398.38 45.49 L398.56 44.69 L398.74 43.89 L398.92 43.08 L399.1 42.26 L399.28 41.45 L399.46 40.63 L399.64 39.8 L399.82 38.98 L400 38.15 L400.18 37.31 L400.36 36.48 L400.54 35.64 L400.72 34.8 L400.9 33.95 L401.08 33.1 L401.26 32.25 L401.44 31.4 L401.62 30.54 L401.8 29.69 L401.98 28.82 L402.16 27.96 L402.34 27.09 L402.52 26.23 L402.7 25.35 L402.88 24.48 L403.06 23.61 L403.24 22.73 L403.42 21.85 L403.6 20.97 L403.78 20.08 L403.96 19.2 L404.14 18.31 L404.32 17.42 L404.5 16.53" fill="none" stroke="#ff00ff" stroke-width="1.5" stroke-linejoin="round" stroke-linecap="butt" stroke-opacity="0.66"/>
<path d="M260.5 16.53 L260.68 17.35 L260.86 18.16 L261.04 18.97 L261.22 19.78 L261.4 20.59 L261.58 21.4 L261.76 22.2 L261.94 23 L262.12 23.8 L262.3 24.59 L262.48 25.39 L262.66 26.18 L262.84 26.96 L263.02 27.75 L263.2 28.53 L263.38 29.3 L263.56 30.08 L263.74 30.85 L263.92 31.61 L264.1 32.38 L264.28 33.14 L264.46 33.9 L264.64 34.65 L264.82 35.4 L265 36.14 L265.18 36.88 L265.36 37.62 L265.54 38.36 L265.72 39.09 L265.9 39.81 L266.08 40.53 L266.26 41.25 L266.44 41.96 L266.62 42.67 L266.8 43.38 L266.98 44.08 L267.16 44.77 L267.34 45.46 L267.52 46.15 L267.7 46.83 L267.88 47.51 L268.06 48.18 L268.24 48.85 L268.42 49.51 L268.6 50.17 L268.78 50.82 L268.96 51.47 L269.14 52.11 L269.32 52.75 L269.5 53.38 L269.68 54.01 L269.86 54.64 L270.04 55.25 L270.22 55.87 L270.4 56.48 L270.58 57.08 L270.76 57.68 L270.94 58.28 L271.12 58.87 L271.3 59.45 L271.48 60.05 L271.66 60.65 L271.84 61.24 L272.02 61.83 L272.2 62.41 L272.38 62.98 L272.56 63.56 L272.74 64.13 L272.92 64.69 L273.1 65.25 L273.28 65.8 L273.46 66.35 L273.64 66.9 L273.82 67.44 L274 67.98 L274.18 68.52 L274.36 69.05 L274.54 69.57 L274.72 70.1 L274.9 70.62 L275.08 71.13 L275.26 71.64 L275.44 72.15 L275.62 72.66 L275.8 73.16 L275.98 73.66 L276.16 74.15 L276.34 74.64 L276.52 75.13 L276.7 75.62 L276.88 76.1 L277.06 76.58 L277.24 77.06 L277.42 77.53 L277.6 78 L277.78 78.47 L277.96 78.94 L278.14 79.4 L278.32 79.87 L278.5 80.32 L278.68 80.78 L278.86 81.24 L279.04 81.69 L279.22 82.14 L279.4 82.59 L279.58 83.03 L279.76 83.48 L279.94 83.92 L280.12 84.36 L280.3 84.8 L280.48 85.23 L280.66 85.67 L280.84 86.1 L281.02 86.54 L281.2 86.97 L281.38 87.39 L281.56 87.82 L281.74 88.25 L281.92 88.67 L282.1 89.1 L282.28 89.52 L282.46 89.94 L282.64 90.36 L282.82 90.77 L283 91.19 L283.18 91.61 L283.36 92.02 L283.54 92.44 L283.72 92.85 L283.9 93.26 L284.08 93.67 L284.26 94.08 L284.44 94.49 L284.62 94.9 L284.8 95.3 L284.98 95.71 L285.16 96.11 L285.34 96.52 L285.52 96.92 L285.7 97.33 L285.88 97.73 L286.06 98.14 L286.24 98.54 L286.42 98.95 L286.6 99.35 L286.78 99.76 L286.96 100.16 L287.14 100.56 L287.32 100.96 L287.5 101.37 L287.68 101.77 L287.86 102.17 L288.04 102.57 L288.22 102.97 L288.4 103.36 L288.58 103.76 L288.76 104.16 L288.94 104.56 L289.12 104.95 L289.3 105.35 L289.48 105.74 L289.66 106.14 L289.84 106.53 L290.02 106.93 L290.2 107.32 L290.38 107.72 L290.56 108.11 L290.74 108.5 L290.92 108.89 L291.1 109.29 L291.28 109.68 L291.46 110.07 L291.64 110.46 L291.82 110.85 L292 111.24 L292.18 111.63 L292.36 112.02 L292.54 112.41 L292.72 112.8 L292.9 113.19 L293.08 113.56 L293.26 113.92 L293.44 114.29 L293.62 114.66 L293.8 115.02 L293.98 115.39 L294.16 115.76 L294.34 116.12 L294.52 116.49 L294.7 116.86 L294.88 117.22 L295.06 117.59 L295.24 117.95 L295.42 118.31 L295.6 118.68 L295.78 119.04 L295.96 119.41 L296.14 119.77 L296.32 120.13 L296.5 120.5 L296.68 120.86 L296.86 121.22 L297.04 121.58 L297.22 121.94 L297.4 122.31 L297.58 122.67 L297.76 123.03 L297.94 123.39 L298.12 123.75 L298.3 124.11 L298.48 124.47 L298.66 124.83 L298.84 125.19 L299.02 125.55 L299.2 125.91 L299.38 126.27 L299.56 126.63 L299.74 126.98 L299.92 127.34 L300.1 127.7 L300.28 128.06 L300.46 128.41 L300.64 128.77 L300.82 129.13 L301 129.49 L301.18 129.84 L301.36 130.2 L301.54 130.55 L301.72 130.91 L301.9 131.27 L302.08 131.62 L302.26 131.98 L302.44 132.33 L302.62 132.68 L302.8 133.04 L302.98 133.39 L303.16 133.75 L303.34 134.1 L303.52 134.45 L303.7 134.81 L303.88 135.16 L304.06 135.51 L304.24 135.86 L304.42 136.22 L304.6 136.57 L304.78 136.92 L304.96 137.27 L305.14 137.62 L305.32 137.97 L305.5 138.32 L305.68 138.67 L305.86 139.02 L306.04 139.37 L306.22 139.72 L306.4 140.07 L306.58 140.42 L306.76 140.77 L306.94 141.12 L307.12 141.47 L307.3 141.81 L307.48 142.16 L307.66 142.51 L307.84 142.86 L308.02 143.2 L308.2 143.55 L308.38 143.89 L308.56 144.24 L308.74 144.59 L308.92 144.93 L309.1 145.28 L309.28 145.62 L309.46 145.97 L309.64 146.31 L309.82 146.65 L310 147 L310.18 147.34 L310.36 147.68 L310.54 148.02 L310.72 148.37 L310.9 148.71 L311.08 149.05 L311.26 149.39 L311.44 149.73 L311.62 150.07 L311.8 150.41 L311.98 150.75 L312.16 151.09 L312.34 151.43 L312.52 151.77 L312.7 152.1 L312.88 152.44 L313.06 152.78 L313.24 153.12 L313.42 153.45 L313.6 153.79 L313.78 154.12 L313.96 154.46 L314.14 154.79 L314.32 155.12 L314.5 155.46 L314.68 155.79 L314.86 156.12 L315.04 156.45 L315.22 156.79 L315.4 157.12 L315.58 157.45 L315.76 157.78 L315.94 158.1 L316.12 158.43 L316.3 158.76 L316.48 159.09 L316.66 159.41 L316.84 159.74 L317.02 160.06 L317.2 160.39 L317.38 160.71 L317.56 161.03 L317.74 161.35 L317.92 161.67 L318.1 161.99 L318.28 162.32 L318.46 162.65 L318.64 162.98 L318.82 163.3 L319 163.63 L319.18 163.95 L319.36 164.27 L319.54 164.59 L319.72 164.91 L319.9 165.23 L320.08 165.55 L320.26 165.87 L320.44 166.18 L320.62 166.5 L320.8 166.81 L320.98 167.12 L321.16 167.43 L321.34 167.73 L321.52 168.04 L321.7 168.34 L321.88 168.65 L322.06 168.95 L322.24 169.25 L322.42 169.54 L322.6 169.84 L322.78 170.13 L322.96 170.42 L323.14 170.71 L323.32 170.99 L323.5 171.28 L323.68 171.56 L323.86 171.83 L324.04 172.11 L324.22 172.38 L324.4 172.65 L324.58 172.92 L324.76 173.18 L324.94 173.44 L325.12 173.7 L325.3 173.95 L325.48 174.2 L325.66 174.44 L325.84 174.69 L326.02 174.92 L326.2 175.16 L326.38 175.39 L326.56 175.61 L326.74 175.84 L326.92 176.05 L327.1 176.26 L327.28 176.47 L327.46 176.67 L327.64 176.87 L327.82 177.06 L328 177.25 L328.18 177.43 L328.36 177.61 L328.54 177.78 L328.72 177.94 L328.9 178.1 L329.08 178.25 L329.26 178.4 L329.44 178.54 L329.62 178.67 L329.8 178.8 L329.98 178.92 L330.16 179.03 L330.34 179.13 L330.52 179.23 L330.7 179.33 L330.88 179.41 L331.06 179.49 L331.24 179.56 L331.42 179.62 L331.6 179.68 L331.78 179.73 L331.96 179.77 L332.14 179.8 L332.32 179.83 L332.5 179.85 L332.68 179.83 L332.86 179.8 L333.04 179.77 L333.22 179.73 L333.4 179.68 L333.58 179.62 L333.76 179.56 L333.94 179.49 L334.12 179.41 L334.3 179.33 L334.48 179.23 L334.66 179.13 L334.84 179.03 L335.02 178.92 L335.2 178.8 L335.38 178.67 L335.56 178.54 L335.74 178.4 L335.92 178.25 L336.1 178.1 L336.28 177.94 L336.46 177.78 L336.64 177.61 L336.82 177.43 L337 177.25 L337.18 177.06 L337.36 176.87 L337.54 176.67 L337.72 176.47 L337.9 176.26 L338.08 176.05 L338.26 175.84 L338.44 175.61 L338.62 175.39 L338.8 175.16 L338.98 174.92 L339.16 174.69 L339.34 174.44 L339.52 174.2 L339.7 173.95 L339.88 173.7 L340.06 173.44 L340.24 173.18 L340.42 172.92 L340.6 172.65 L340.78 172.38 L340.96 172.11 L341.14 171.83 L341.32 171.56 L341.5 171.28 L341.68 170.99 L341.86 170.71 L342.04 170.42 L342.22 170.13 L342.4 169.84 L342.58 169.54 L342.76 169.25 L342.94 168.95 L343.12 168.65 L343.3 168.34 L343.48 168.04 L343.66 167.73 L343.84 167.43 L344.02 167.12 L344.2 166.81 L344.38 166.5 L344.56 166.18 L344.74 165.87 L344.92 165.55 L345.1 165.23 L345.28 164.91 L345.46 164.59 L345.64 164.27 L345.82 163.95 L346 163.63 L346.18 163.3 L346.36 162.98 L346.54 162.65 L346.72 162.32 L346.9 161.99 L347.08 161.67 L347.26 161.35 L347.44 161.03 L347.62 160.71 L347.8 160.39 L347.98 160.06 L348.16 159.74 L348.34 159.41 L348.52 159.09 L348.7 158.76 L348.88 158.43 L349.06 158.1 L349.24 157.78 L349.42 157.45 L349.6 157.12 L349.78 156.79 L349.96 156.45 L350.14 156.12 L350.32 155.79 L350.5 155.46 L350.68 155.12 L350.86 154.79 L351.04 154.46 L351.22 154.12 L351.4 153.79 L351.58 153.45 L351.76 153.12 L351.94 152.78 L352.12 152.44 L352.3 152.1 L352.48 151.77 L352.66 151.43 L352.84 151.09 L353.02 150.75 L353.2 150.41 L353.38 150.07 L353.56 149.73 L353.74 149.39 L353.92 149.05 L354.1 148.71 L354.28 148.37 L354.46 148.02 L354.64 147.68 L354.82 147.34 L355 147 L355.18 146.65 L355.36 146.31 L355.54 145.97 L355.72 145.62 L355.9 145.28 L356.08 144.93 L356.26 144.59 L356.44 144.24 L356.62 143.89 L356.8 143.55 L356.98 143.2 L357.16 142.86 L357.34 142.51 L357.52 142.16 L357.7 141.81 L357.88 141.47 L358.06 141.12 L358.24 140.77 L358.42 140.42 L358.6 140.07 L358.78 139.72 L358.96 139.37 L359.14 139.02 L359.32 138.67 L359.5 138.32 L359.68 137.97 L359.86 137.62 L360.04 137.27 L360.22 136.92 L360.4 136.57 L360.58 136.22 L360.76 135.86 L360.94 135.51 L361.12 135.16 L361.3 134.81 L361.48 134.45 L361.66 134.1 L361.84 133.75 L362.02 133.39 L362.2 133.04 L362.38 132.68 L362.56 132.33 L362.74 131.98 L362.92 131.62 L363.1 131.27 L363.28 130.91 L363.46 130.55 L363.64 130.2 L363.82 129.84 L364 129.49 L364.18 129.13 L364.36 128.77 L364.54 128.41 L364.72 128.06 L364.9 127.7 L365.08 127.34 L365.26 126.98 L365.44 126.63 L365.62 126.27 L365.8 125.91 L365.98 125.55 L366.16 125.19 L366.34 124.83 L366.52 124.47 L366.7 124.11 L366.88 123.75 L367.06 123.39 L367.24 123.03 L367.42 122.67 L367.6 122.31 L367.78 121.94 L367.96 121.58 L368.14 121.22 L368.32 120.86 L368.5 120.5 L368.68 120.13 L368.86 119.77 L369.04 119.41 L369.22 119.04 L369.4 118.68 L369.58 118.31 L369.76 117.95 L369.94 117.59 L370.12 117.22 L370.3 116.86 L370.48 116.49 L370.66 116.12 L370.84 115.76 L371.02 115.39 L371.2 115.02 L371.38 114.66 L371.56 114.29 L371.74 113.92 L371.92 113.56 L372.1 113.19 L372.28 112.8 L372.46 112.41 L372.64 112.02 L372.82 111.63 L373 111.24 L373.18 110.85 L373.36 110.46 L373.54 110.07 L373.72 109.68 L373.9 109.29 L374.08 108.89 L374.26 108.5 L374.44 108.11 L374.62 107.72 L374.8 107.32 L374.98 106.93 L375.16 106.53 L375.34 106.14 L375.52 105.74 L375.7 105.35 L375.88 104.95 L376.06 104.56 L376.24 104.16 L376.42 103.76 L376.6 103.36 L376.78 102.97 L376.96 102.57 L377.14 102.17 L377.32 101.77 L377.5 101.37 L377.68 100.96 L377.86 100.56 L378.04 100.16 L378.22 99.76 L378.4 99.35 L378.58 98.95 L378.76 98.54 L378.94 98.14 L379.12 97.73 L379.3 97.33 L379.48 96.92 L379.66 96.52 L379.84 96.11 L380.02 95.71 L380.2 95.3 L380.38 94.9 L380.56 94.49 L380.74 94.08 L380.92 93.67 L381.1 93.26 L381.28 92.85 L381.46 92.44 L381.64 92.02 L381.82 91.61 L382 91.19 L382.18 90.77 L382.36 90.36 L382.54 89.94 L382.72 89.52 L382.9 89.1 L383.08 88.67 L383.26 88.25 L383.44 87.82 L383.62 87.39 L383.8 86.97 L383.98 86.54 L384.16 86.1 L384.34 85.67 L384.52 85.23 L384.7 84.8 L384.88 84.36 L385.06 83.92 L385.24 83.48 L385.42 83.03 L385.6 82.59 L385.78 82.14 L385.96 81.69 L386.14 81.24 L386.32 80.78 L386.5 80.32 L386.68 79.87 L386.86 79.4 L387.04 78.94 L387.22 78.47 L387.4 78 L387.58 77.53 L387.76 77.06 L387.94 76.58 L388.12 76.1 L388.3 75.62 L388.48 75.13 L388.66 74.64 L388.84 74.15 L389.02 73.66 L389.2 73.16 L389.38 72.66 L389.56 72.15 L389.74 71.64 L389.92 71.13 L390.1 70.62 L390.28 70.1 L390.46 69.57 L390.64 69.05 L390.82 68.52 L391 67.98 L391.18 67.44 L391.36 66.9 L391.54 66.35 L391.72 65.8 L391.9 65.25 L392.08 64.69 L392.26 64.13 L392.44 63.56 L392.62 62.98 L392.8 62.41 L392.98 61.83 L393.16 61.24 L393.34 60.65 L393.52 60.05 L393.7 59.45 L393.88 58.87 L394.06 58.28 L394.24 57.68 L394.42 57.08 L394.6 56.48 L394.78 55.87 L394.96 55.25 L395.14 54.64 L395.32 54.01 L395.5 53.38 L395.68 52.75 L395.86 52.11 L396.04 51.47 L396.22 50.82 L396.4 50.17 L396.58 49.51 L396.76 48.85 L396.94 48.18 L397.12 47.51 L397.3 46.83 L397.48 46.15 L397.66 45.46 L397.84 44.77 L398.02 44.08 L398.2 43.38 L398.38 42.67 L398.56 41.96 L398.74 41.25 L398.92 40.53 L399.1 39.81 L399.28 39.09 L399.46 38.36 L399.64 37.62 L399.82 36.88 L400 36.14 L400.18 35.4 L400.36 34.65 L400.54 33.9 L400.72 33.14 L400.9 32.38 L401.08 31.61 L401.26 30.85 L401.44 30.08 L401.62 29.3 L401.8 28.53 L401.98 27.75 L402.16 26.96 L402.34 26.18 L402.52 25.39 L402.7 24.59 L402.88 23.8 L403.06 23 L403.24 22.2 L403.42 21.4 L403.6 20.59 L403.78 19.78 L403.96 18.97 L404.14 18.16 L404.32 17.35 L404.5 16.53" fill="none" stroke="#00ff00" stroke-width="2.05" stroke-linecap="round" stroke-dasharray="0.15 2.8" stroke-dashoffset="-1.6"/>
<path d="M260.5 16.53 L260.68 17.35 L260.86 18.16 L261.04 18.97 L261.22 19.78 L261.4 20.59 L261.58 21.4 L261.76 22.2 L261.94 23 L262.12 23.8 L262.3 24.59 L262.48 25.39 L262.66 26.18 L262.84 26.96 L263.02 27.75 L263.2 28.53 L263.38 29.3 L263.56 30.08 L263.74 30.85 L263.92 31.61 L264.1 32.38 L264.28 33.14 L264.46 33.9 L264.64 34.65 L264.82 35.4 L265 36.14 L265.18 36.88 L265.36 37.62 L265.54 38.36 L265.72 39.09 L265.9 39.81 L266.08 40.53 L266.26 41.25 L266.44 41.96 L266.62 42.67 L266.8 43.38 L266.98 44.08 L267.16 44.77 L267.34 45.46 L267.52 46.15 L267.7 46.83 L267.88 47.51 L268.06 48.18 L268.24 48.85 L268.42 49.51 L268.6 50.17 L268.78 50.82 L268.96 51.47 L269.14 52.11 L269.32 52.75 L269.5 53.38 L269.68 54.01 L269.86 54.64 L270.04 55.25 L270.22 55.87 L270.4 56.48 L270.58 57.08 L270.76 57.68 L270.94 58.28 L271.12 58.87 L271.3 59.45 L271.48 60.03 L271.66 60.61 L271.84 61.18 L272.02 61.75 L272.2 62.31 L272.38 62.86 L272.56 63.42 L272.74 63.97 L272.92 64.51 L273.1 65.05 L273.28 65.58 L273.46 66.11 L273.64 66.64 L273.82 67.16 L274 67.68 L274.18 68.2 L274.36 68.71 L274.54 69.21 L274.72 69.72 L274.9 70.22 L275.08 70.71 L275.26 71.2 L275.44 71.69 L275.62 72.18 L275.8 72.66 L275.98 73.14 L276.16 73.61 L276.34 74.08 L276.52 74.55 L276.7 75.02 L276.88 75.48 L277.06 75.94 L277.24 76.4 L277.42 76.85 L277.6 77.3 L277.78 77.75 L277.96 78.2 L278.14 78.64 L278.32 79.09 L278.5 79.52 L278.68 79.96 L278.86 80.4 L279.04 80.83 L279.22 81.26 L279.4 81.69 L279.58 82.11 L279.76 82.54 L279.94 82.96 L280.12 83.38 L280.3 83.8 L280.48 84.21 L280.66 84.63 L280.84 85.04 L281.02 85.46 L281.2 85.87 L281.38 86.27 L281.56 86.68 L281.74 87.09 L281.92 87.49 L282.1 87.9 L282.28 88.3 L282.46 88.7 L282.64 89.1 L282.82 89.49 L283 89.89 L283.18 90.29 L283.36 90.68 L283.54 91.08 L283.72 91.47 L283.9 91.86 L284.08 92.25 L284.26 92.64 L284.44 93.03 L284.62 93.42 L284.8 93.8 L284.98 94.19 L285.16 94.57 L285.34 94.96 L285.52 95.34 L285.7 95.73 L285.88 96.11 L286.06 96.49 L286.24 96.87 L286.42 97.25 L286.6 97.63 L286.78 98.01 L286.96 98.39 L287.14 98.76 L287.32 99.14 L287.5 99.52 L287.68 99.89 L287.86 100.27 L288.04 100.64 L288.22 101.02 L288.4 101.39 L288.58 101.76 L288.76 102.13 L288.94 102.51 L289.12 102.88 L289.3 103.25 L289.48 103.62 L289.66 103.99 L289.84 104.36 L290.02 104.73 L290.2 105.1 L290.38 105.47 L290.56 105.83 L290.74 106.2 L290.92 106.57 L291.1 106.94 L291.28 107.3 L291.46 107.67 L291.64 108.04 L291.82 108.4 L292 108.77 L292.18 109.13 L292.36 109.5 L292.54 109.86 L292.72 110.22 L292.9 110.59 L293.08 110.95 L293.26 111.31 L293.44 111.68 L293.62 112.04 L293.8 112.4 L293.98 112.76 L294.16 113.12 L294.34 113.48 L294.52 113.84 L294.7 114.21 L294.88 114.57 L295.06 114.93 L295.24 115.29 L295.42 115.64 L295.6 116 L295.78 116.36 L295.96 116.72 L296.14 117.08 L296.32 117.44 L296.5 117.8 L296.68 118.15 L296.86 118.51 L297.04 118.87 L297.22 119.22 L297.4 119.58 L297.58 119.94 L297.76 120.29 L297.94 120.65 L298.12 121 L298.3 121.36 L298.48 121.71 L298.66 122.07 L298.84 122.42 L299.02 122.78 L299.2 123.13 L299.38 123.49 L299.56 123.84 L299.74 124.19 L299.92 124.55 L300.1 124.9 L300.28 125.25 L300.46 125.6 L300.64 125.96 L300.82 126.31 L301 126.66 L301.18 127.01 L301.36 127.36 L301.54 127.71 L301.72 128.06 L301.9 128.42 L302.08 128.77 L302.26 129.12 L302.44 129.47 L302.62 129.81 L302.8 130.16 L302.98 130.51 L303.16 130.86 L303.34 131.21 L303.52 131.56 L303.7 131.91 L303.88 132.25 L304.06 132.6 L304.24 132.95 L304.42 133.3 L304.6 133.64 L304.78 133.99 L304.96 134.34 L305.14 134.68 L305.32 135.03 L305.5 135.37 L305.68 135.72 L305.86 136.06 L306.04 136.41 L306.22 136.75 L306.4 137.1 L306.58 137.44 L306.76 137.78 L306.94 138.13 L307.12 138.47 L307.3 138.81 L307.48 139.16 L307.66 139.5 L307.84 139.84 L308.02 140.18 L308.2 140.52 L308.38 140.86 L308.56 141.21 L308.74 141.55 L308.92 141.89 L309.1 142.23 L309.28 142.57 L309.46 142.91 L309.64 143.24 L309.82 143.58 L310 143.92 L310.18 144.26 L310.36 144.6 L310.54 144.93 L310.72 145.27 L310.9 145.61 L311.08 145.94 L311.26 146.28 L311.44 146.62 L311.62 146.95 L311.8 147.29 L311.98 147.62 L312.16 147.95 L312.34 148.29 L312.52 148.62 L312.7 148.95 L312.88 149.29 L313.06 149.62 L313.24 149.95 L313.42 150.28 L313.6 150.61 L313.78 150.94 L313.96 151.27 L314.14 151.6 L314.32 151.93 L314.5 152.26 L314.68 152.59 L314.86 152.91 L315.04 153.24 L315.22 153.57 L315.4 153.89 L315.58 154.22 L315.76 154.54 L315.94 154.86 L316.12 155.19 L316.3 155.51 L316.48 155.83 L316.66 156.15 L316.84 156.47 L317.02 156.79 L317.2 157.11 L317.38 157.43 L317.56 157.75 L317.74 158.06 L317.92 158.38 L318.1 158.69 L318.28 159.01 L318.46 159.32 L318.64 159.63 L318.82 159.94 L319 160.25 L319.18 160.56 L319.36 160.87 L319.54 161.17 L319.72 161.48 L319.9 161.78 L320.08 162.08 L320.26 162.39 L320.44 162.69 L320.62 162.99 L320.8 163.28 L320.98 163.58 L321.16 163.87 L321.34 164.16 L321.52 164.46 L321.7 164.74 L321.88 165.03 L322.06 165.32 L322.24 165.6 L322.42 165.88 L322.6 166.16 L322.78 166.44 L322.96 166.71 L323.14 166.99 L323.32 167.26 L323.5 167.53 L323.68 167.79 L323.86 168.05 L324.04 168.31 L324.22 168.57 L324.4 168.82 L324.58 169.08 L324.76 169.32 L324.94 169.57 L325.12 169.81 L325.3 170.05 L325.48 170.28 L325.66 170.51 L325.84 170.74 L326.02 170.96 L326.2 171.18 L326.38 171.4 L326.56 171.61 L326.74 171.82 L326.92 172.02 L327.1 172.21 L327.28 172.41 L327.46 172.59 L327.64 172.78 L327.82 172.95 L328 173.12 L328.18 173.29 L328.36 173.45 L328.54 173.61 L328.72 173.76 L328.9 173.9 L329.08 174.04 L329.26 174.17 L329.44 174.29 L329.62 174.41 L329.8 174.52 L329.98 174.63 L330.16 174.72 L330.34 174.81 L330.52 174.9 L330.7 174.98 L330.88 175.05 L331.06 175.11 L331.24 175.17 L331.42 175.21 L331.6 175.25 L331.78 175.29 L331.96 175.31 L332.14 175.33 L332.32 175.34 L332.5 175.35 L332.68 175.34 L332.86 175.33 L333.04 175.31 L333.22 175.29 L333.4 175.25 L333.58 175.21 L333.76 175.17 L333.94 175.11 L334.12 175.05 L334.3 174.98 L334.48 174.9 L334.66 174.81 L334.84 174.72 L335.02 174.63 L335.2 174.52 L335.38 174.41 L335.56 174.29 L335.74 174.17 L335.92 174.04 L336.1 173.9 L336.28 173.76 L336.46 173.61 L336.64 173.45 L336.82 173.29 L337 173.12 L337.18 172.95 L337.36 172.78 L337.54 172.59 L337.72 172.41 L337.9 172.21 L338.08 172.02 L338.26 171.82 L338.44 171.61 L338.62 171.4 L338.8 171.18 L338.98 170.96 L339.16 170.74 L339.34 170.51 L339.52 170.28 L339.7 170.05 L339.88 169.81 L340.06 169.57 L340.24 169.32 L340.42 169.08 L340.6 168.82 L340.78 168.57 L340.96 168.31 L341.14 168.05 L341.32 167.79 L341.5 167.53 L341.68 167.26 L341.86 166.99 L342.04 166.71 L342.22 166.44 L342.4 166.16 L342.58 165.88 L342.76 165.6 L342.94 165.32 L343.12 165.03 L343.3 164.74 L343.48 164.46 L343.66 164.16 L343.84 163.87 L344.02 163.58 L344.2 163.28 L344.38 162.99 L344.56 162.69 L344.74 162.39 L344.92 162.08 L345.1 161.78 L345.28 161.48 L345.46 161.17 L345.64 160.87 L345.82 160.56 L346 160.25 L346.18 159.94 L346.36 159.63 L346.54 159.32 L346.72 159.01 L346.9 158.69 L347.08 158.38 L347.26 158.06 L347.44 157.75 L347.62 157.43 L347.8 157.11 L347.98 156.79 L348.16 156.47 L348.34 156.15 L348.52 155.83 L348.7 155.51 L348.88 155.19 L349.06 154.86 L349.24 154.54 L349.42 154.22 L349.6 153.89 L349.78 153.57 L349.96 153.24 L350.14 152.91 L350.32 152.59 L350.5 152.26 L350.68 151.93 L350.86 151.6 L351.04 151.27 L351.22 150.94 L351.4 150.61 L351.58 150.28 L351.76 149.95 L351.94 149.62 L352.12 149.29 L352.3 148.95 L352.48 148.62 L352.66 148.29 L352.84 147.95 L353.02 147.62 L353.2 147.29 L353.38 146.95 L353.56 146.62 L353.74 146.28 L353.92 145.94 L354.1 145.61 L354.28 145.27 L354.46 144.93 L354.64 144.6 L354.82 144.26 L355 143.92 L355.18 143.58 L355.36 143.24 L355.54 142.91 L355.72 142.57 L355.9 142.23 L356.08 141.89 L356.26 141.55 L356.44 141.21 L356.62 140.86 L356.8 140.52 L356.98 140.18 L357.16 139.84 L357.34 139.5 L357.52 139.16 L357.7 138.81 L357.88 138.47 L358.06 138.13 L358.24 137.78 L358.42 137.44 L358.6 137.1 L358.78 136.75 L358.96 136.41 L359.14 136.06 L359.32 135.72 L359.5 135.37 L359.68 135.03 L359.86 134.68 L360.04 134.34 L360.22 133.99 L360.4 133.64 L360.58 133.3 L360.76 132.95 L360.94 132.6 L361.12 132.25 L361.3 131.91 L361.48 131.56 L361.66 131.21 L361.84 130.86 L362.02 130.51 L362.2 130.16 L362.38 129.81 L362.56 129.47 L362.74 129.12 L362.92 128.77 L363.1 128.42 L363.28 128.06 L363.46 127.71 L363.64 127.36 L363.82 127.01 L364 126.66 L364.18 126.31 L364.36 125.96 L364.54 125.6 L364.72 125.25 L364.9 124.9 L365.08 124.55 L365.26 124.19 L365.44 123.84 L365.62 123.49 L365.8 123.13 L365.98 122.78 L366.16 122.42 L366.34 122.07 L366.52 121.71 L366.7 121.36 L366.88 121 L367.06 120.65 L367.24 120.29 L367.42 119.94 L367.6 119.58 L367.78 119.22 L367.96 118.87 L368.14 118.51 L368.32 118.15 L368.5 117.8 L368.68 117.44 L368.86 117.08 L369.04 116.72 L369.22 116.36 L369.4 116 L369.58 115.64 L369.76 115.29 L369.94 114.93 L370.12 114.57 L370.3 114.21 L370.48 113.84 L370.66 113.48 L370.84 113.12 L371.02 112.76 L371.2 112.4 L371.38 112.04 L371.56 111.68 L371.74 111.31 L371.92 110.95 L372.1 110.59 L372.28 110.22 L372.46 109.86 L372.64 109.5 L372.82 109.13 L373 108.77 L373.18 108.4 L373.36 108.04 L373.54 107.67 L373.72 107.3 L373.9 106.94 L374.08 106.57 L374.26 106.2 L374.44 105.83 L374.62 105.47 L374.8 105.1 L374.98 104.73 L375.16 104.36 L375.34 103.99 L375.52 103.62 L375.7 103.25 L375.88 102.88 L376.06 102.51 L376.24 102.13 L376.42 101.76 L376.6 101.39 L376.78 101.02 L376.96 100.64 L377.14 100.27 L377.32 99.89 L377.5 99.52 L377.68 99.14 L377.86 98.76 L378.04 98.39 L378.22 98.01 L378.4 97.63 L378.58 97.25 L378.76 96.87 L378.94 96.49 L379.12 96.11 L379.3 95.73 L379.48 95.34 L379.66 94.96 L379.84 94.57 L380.02 94.19 L380.2 93.8 L380.38 93.42 L380.56 93.03 L380.74 92.64 L380.92 92.25 L381.1 91.86 L381.28 91.47 L381.46 91.08 L381.64 90.68 L381.82 90.29 L382 89.89 L382.18 89.49 L382.36 89.1 L382.54 88.7 L382.72 88.3 L382.9 87.9 L383.08 87.49 L383.26 87.09 L383.44 86.68 L383.62 86.27 L383.8 85.87 L383.98 85.46 L384.16 85.04 L384.34 84.63 L384.52 84.21 L384.7 83.8 L384.88 83.38 L385.06 82.96 L385.24 82.54 L385.42 82.11 L385.6 81.69 L385.78 81.26 L385.96 80.83 L386.14 80.4 L386.32 79.96 L386.5 79.52 L386.68 79.09 L386.86 78.64 L387.04 78.2 L387.22 77.75 L387.4 77.3 L387.58 76.85 L387.76 76.4 L387.94 75.94 L388.12 75.48 L388.3 75.02 L388.48 74.55 L388.66 74.08 L388.84 73.61 L389.02 73.14 L389.2 72.66 L389.38 72.18 L389.56 71.69 L389.74 71.2 L389.92 70.71 L390.1 70.22 L390.28 69.72 L390.46 69.21 L390.64 68.71 L390.82 68.2 L391 67.68 L391.18 67.16 L391.36 66.64 L391.54 66.11 L391.72 65.58 L391.9 65.05 L392.08 64.51 L392.26 63.97 L392.44 63.42 L392.62 62.86 L392.8 62.31 L392.98 61.75 L393.16 61.18 L393.34 60.61 L393.52 60.03 L393.7 59.45 L393.88 58.87 L394.06 58.28 L394.24 57.68 L394.42 57.08 L394.6 56.48 L394.78 55.87 L394.96 55.25 L395.14 54.64 L395.32 54.01 L395.5 53.38 L395.68 52.75 L395.86 52.11 L396.04 51.47 L396.22 50.82 L396.4 50.17 L396.58 49.51 L396.76 48.85 L396.94 48.18 L397.12 47.51 L397.3 46.83 L397.48 46.15 L397.66 45.46 L397.84 44.77 L398.02 44.08 L398.2 43.38 L398.38 42.67 L398.56 41.96 L398.74 41.25 L398.92 40.53 L399.1 39.81 L399.28 39.09 L399.46 38.36 L399.64 37.62 L399.82 36.88 L400 36.14 L400.18 35.4 L400.36 34.65 L400.54 33.9 L400.72 33.14 L400.9 32.38 L401.08 31.61 L401.26 30.85 L401.44 30.08 L401.62 29.3 L401.8 28.53 L401.98 27.75 L402.16 26.96 L402.34 26.18 L402.52 25.39 L402.7 24.59 L402.88 23.8 L403.06 23 L403.24 22.2 L403.42 21.4 L403.6 20.59 L403.78 19.78 L403.96 18.97 L404.14 18.16 L404.32 17.35 L404.5 16.53" fill="none" stroke="#ff0000" stroke-width="1.9" stroke-linejoin="round" stroke-linecap="butt"/>
<path d="M260.5 14H404.5V215.6H260.5ZM260.5 215.6v-3.2M260.5 14v3.2M296.5 215.6v-3.2M296.5 14v3.2M332.5 215.6v-3.2M332.5 14v3.2M368.5 215.6v-3.2M368.5 14v3.2M404.5 215.6v-3.2M404.5 14v3.2M260.5 36.4h3.2M404.5 36.4h-3.2M260.5 64.83h3.2M404.5 64.83h-3.2M260.5 93.26h3.2M404.5 93.26h-3.2M260.5 121.69h3.2M404.5 121.69h-3.2M260.5 150.12h3.2M404.5 150.12h-3.2M260.5 178.55h3.2M404.5 178.55h-3.2M260.5 206.98h3.2M404.5 206.98h-3.2" fill="none" stroke="#000" stroke-width="0.8"/>
<text x="258.86" y="231.5" font-size="12">0</text>
<text x="294.86" y="231.5" font-size="12">5</text>
<path transform="translate(327.53 231.5) scale(0.005859 -0.005859)" d="M515 0V1237L197 1010V1180L530 1409H696V0Z"/><text x="334.2" y="231.5" font-size="12">0</text>
<path transform="translate(363.53 231.5) scale(0.005859 -0.005859)" d="M515 0V1237L197 1010V1180L530 1409H696V0Z"/><text x="370.2" y="231.5" font-size="12">5</text>
<text x="399.53" y="231.5" font-size="12">20</text>
<text x="242.83" y="40.1" font-size="12">-</text><path transform="translate(246.83 40.1) scale(0.005859 -0.005859)" d="M515 0V1237L197 1010V1180L530 1409H696V0Z"/>
<text x="242.83" y="68.53" font-size="12">-2</text>
<text x="242.83" y="96.96" font-size="12">-3</text>
<text x="242.83" y="125.39" font-size="12">-4</text>
<text x="242.83" y="153.82" font-size="12">-5</text>
<text x="242.83" y="182.25" font-size="12">-6</text>
<text x="242.83" y="210.68" font-size="12">-7</text>
<path d="M56.65 357.5a2.4 2.4 0 1 0 4.8 0a2.4 2.4 0 1 0 -4.8 0M58.57 353.69a2.4 2.4 0 1 0 4.8 0a2.4 2.4 0 1 0 -4.8 0M60.49 350.11a2.4 2.4 0 1 0 4.8 0a2.4 2.4 0 1 0 -4.8 0M62.41 346.73a2.4 2.4 0 1 0 4.8 0a2.4 2.4 0 1 0 -4.8 0M64.33 343.55a2.4 2.4 0 1 0 4.8 0a2.4 2.4 0 1 0 -4.8 0M66.25 340.54a2.4 2.4 0 1 0 4.8 0a2.4 2.4 0 1 0 -4.8 0M68.17 337.7a2.4 2.4 0 1 0 4.8 0a2.4 2.4 0 1 0 -4.8 0M70.09 335.01a2.4 2.4 0 1 0 4.8 0a2.4 2.4 0 1 0 -4.8 0M72.01 332.46a2.4 2.4 0 1 0 4.8 0a2.4 2.4 0 1 0 -4.8 0M73.92 330.05a2.4 2.4 0 1 0 4.8 0a2.4 2.4 0 1 0 -4.8 0M75.84 327.76a2.4 2.4 0 1 0 4.8 0a2.4 2.4 0 1 0 -4.8 0M77.76 325.59a2.4 2.4 0 1 0 4.8 0a2.4 2.4 0 1 0 -4.8 0M79.68 323.54a2.4 2.4 0 1 0 4.8 0a2.4 2.4 0 1 0 -4.8 0M81.6 321.58a2.4 2.4 0 1 0 4.8 0a2.4 2.4 0 1 0 -4.8 0M83.52 319.72a2.4 2.4 0 1 0 4.8 0a2.4 2.4 0 1 0 -4.8 0M85.44 317.95a2.4 2.4 0 1 0 4.8 0a2.4 2.4 0 1 0 -4.8 0M87.36 316.27a2.4 2.4 0 1 0 4.8 0a2.4 2.4 0 1 0 -4.8 0M89.28 314.66a2.4 2.4 0 1 0 4.8 0a2.4 2.4 0 1 0 -4.8 0M91.2 313.14a2.4 2.4 0 1 0 4.8 0a2.4 2.4 0 1 0 -4.8 0M93.12 311.68a2.4 2.4 0 1 0 4.8 0a2.4 2.4 0 1 0 -4.8 0M95.04 310.29a2.4 2.4 0 1 0 4.8 0a2.4 2.4 0 1 0 -4.8 0M96.96 308.97a2.4 2.4 0 1 0 4.8 0a2.4 2.4 0 1 0 -4.8 0M98.88 307.7a2.4 2.4 0 1 0 4.8 0a2.4 2.4 0 1 0 -4.8 0M100.8 306.49a2.4 2.4 0 1 0 4.8 0a2.4 2.4 0 1 0 -4.8 0M102.72 305.34a2.4 2.4 0 1 0 4.8 0a2.4 2.4 0 1 0 -4.8 0M104.63 304.23a2.4 2.4 0 1 0 4.8 0a2.4 2.4 0 1 0 -4.8 0M106.55 303.18a2.4 2.4 0 1 0 4.8 0a2.4 2.4 0 1 0 -4.8 0M108.47 302.17a2.4 2.4 0 1 0 4.8 0a2.4 2.4 0 1 0 -4.8 0M110.39 301.2a2.4 2.4 0 1 0 4.8 0a2.4 2.4 0 1 0 -4.8 0M112.31 300.27a2.4 2.4 0 1 0 4.8 0a2.4 2.4 0 1 0 -4.8 0M114.23 299.39a2.4 2.4 0 1 0 4.8 0a2.4 2.4 0 1 0 -4.8 0M116.15 298.54a2.4 2.4 0 1 0 4.8 0a2.4 2.4 0 1 0 -4.8 0M118.07 297.73a2.4 2.4 0 1 0 4.8 0a2.4 2.4 0 1 0 -4.8 0M119.99 296.95a2.4 2.4 0 1 0 4.8 0a2.4 2.4 0 1 0 -4.8 0M121.91 296.2a2.4 2.4 0 1 0 4.8 0a2.4 2.4 0 1 0 -4.8 0M123.83 295.49a2.4 2.4 0 1 0 4.8 0a2.4 2.4 0 1 0 -4.8 0M125.75 294.8a2.4 2.4 0 1 0 4.8 0a2.4 2.4 0 1 0 -4.8 0M127.67 294.14a2.4 2.4 0 1 0 4.8 0a2.4 2.4 0 1 0 -4.8 0M129.59 293.51a2.4 2.4 0 1 0 4.8 0a2.4 2.4 0 1 0 -4.8 0M131.51 292.91a2.4 2.4 0 1 0 4.8 0a2.4 2.4 0 1 0 -4.8 0M133.43 292.33a2.4 2.4 0 1 0 4.8 0a2.4 2.4 0 1 0 -4.8 0M135.35 291.77a2.4 2.4 0 1 0 4.8 0a2.4 2.4 0 1 0 -4.8 0M137.26 291.23a2.4 2.4 0 1 0 4.8 0a2.4 2.4 0 1 0 -4.8 0M139.18 290.72a2.4 2.4 0 1 0 4.8 0a2.4 2.4 0 1 0 -4.8 0M141.1 290.23a2.4 2.4 0 1 0 4.8 0a2.4 2.4 0 1 0 -4.8 0M143.02 289.75a2.4 2.4 0 1 0 4.8 0a2.4 2.4 0 1 0 -4.8 0M144.94 289.3a2.4 2.4 0 1 0 4.8 0a2.4 2.4 0 1 0 -4.8 0M146.86 288.86a2.4 2.4 0 1 0 4.8 0a2.4 2.4 0 1 0 -4.8 0M148.78 288.44a2.4 2.4 0 1 0 4.8 0a2.4 2.4 0 1 0 -4.8 0M150.7 288.04a2.4 2.4 0 1 0 4.8 0a2.4 2.4 0 1 0 -4.8 0M152.62 287.65a2.4 2.4 0 1 0 4.8 0a2.4 2.4 0 1 0 -4.8 0M154.54 287.27a2.4 2.4 0 1 0 4.8 0a2.4 2.4 0 1 0 -4.8 0M156.46 286.92a2.4 2.4 0 1 0 4.8 0a2.4 2.4 0 1 0 -4.8 0M158.38 286.57a2.4 2.4 0 1 0 4.8 0a2.4 2.4 0 1 0 -4.8 0M160.3 286.24a2.4 2.4 0 1 0 4.8 0a2.4 2.4 0 1 0 -4.8 0M162.22 285.92a2.4 2.4 0 1 0 4.8 0a2.4 2.4 0 1 0 -4.8 0M164.14 285.62a2.4 2.4 0 1 0 4.8 0a2.4 2.4 0 1 0 -4.8 0M166.06 285.32a2.4 2.4 0 1 0 4.8 0a2.4 2.4 0 1 0 -4.8 0M167.98 285.04a2.4 2.4 0 1 0 4.8 0a2.4 2.4 0 1 0 -4.8 0M169.89 284.77a2.4 2.4 0 1 0 4.8 0a2.4 2.4 0 1 0 -4.8 0M171.81 284.51a2.4 2.4 0 1 0 4.8 0a2.4 2.4 0 1 0 -4.8 0M173.73 284.26a2.4 2.4 0 1 0 4.8 0a2.4 2.4 0 1 0 -4.8 0M175.65 284.01a2.4 2.4 0 1 0 4.8 0a2.4 2.4 0 1 0 -4.8 0M177.57 283.78a2.4 2.4 0 1 0 4.8 0a2.4 2.4 0 1 0 -4.8 0M179.49 283.56a2.4 2.4 0 1 0 4.8 0a2.4 2.4 0 1 0 -4.8 0M181.41 283.34a2.4 2.4 0 1 0 4.8 0a2.4 2.4 0 1 0 -4.8 0M183.33 283.14a2.4 2.4 0 1 0 4.8 0a2.4 2.4 0 1 0 -4.8 0M185.25 282.94a2.4 2.4 0 1 0 4.8 0a2.4 2.4 0 1 0 -4.8 0M187.17 282.74a2.4 2.4 0 1 0 4.8 0a2.4 2.4 0 1 0 -4.8 0M189.09 282.56a2.4 2.4 0 1 0 4.8 0a2.4 2.4 0 1 0 -4.8 0M191.01 282.38a2.4 2.4 0 1 0 4.8 0a2.4 2.4 0 1 0 -4.8 0M192.93 282.21a2.4 2.4 0 1 0 4.8 0a2.4 2.4 0 1 0 -4.8 0M194.85 282.05a2.4 2.4 0 1 0 4.8 0a2.4 2.4 0 1 0 -4.8 0M196.77 281.89a2.4 2.4 0 1 0 4.8 0a2.4 2.4 0 1 0 -4.8 0M198.69 281.74a2.4 2.4 0 1 0 4.8 0a2.4 2.4 0 1 0 -4.8 0M200.6 281.59a2.4 2.4 0 1 0 4.8 0a2.4 2.4 0 1 0 -4.8 0" fill="#0000ff"/>
<path d="M59.05 357.5 L59.53 356.26 L60.01 355.05 L60.49 353.85 L60.97 352.69 L61.45 351.54 L61.93 350.41 L62.41 349.31 L62.89 348.23 L63.37 347.16 L63.85 346.12 L64.33 345.1 L64.81 344.09 L65.29 343.1 L65.77 342.13 L66.25 341.18 L66.73 340.24 L67.21 339.32 L67.69 338.41 L68.17 337.52 L68.65 336.65 L69.13 335.79 L69.61 334.94 L70.09 334.11 L70.57 333.3 L71.05 332.49 L71.53 331.7 L72.01 330.92 L72.49 330.16 L72.97 329.4 L73.45 328.66 L73.93 327.93 L74.41 327.21 L74.89 326.5 L75.36 325.81 L75.84 325.12 L76.32 324.44 L76.8 323.78 L77.28 323.12 L77.76 322.47 L78.24 321.84 L78.72 321.21 L79.2 320.59 L79.68 319.98 L80.16 319.38 L80.64 318.79 L81.12 318.21 L81.6 317.63 L82.08 317.06 L82.56 316.5 L83.04 315.95 L83.52 315.41 L84 314.87 L84.48 314.34 L84.96 313.82 L85.44 313.31 L85.92 312.8 L86.4 312.3 L86.88 311.8 L87.36 311.31 L87.84 310.83 L88.32 310.36 L88.8 309.89 L89.28 309.43 L89.76 308.97 L90.24 308.52 L90.72 308.07 L91.2 307.63 L91.68 307.2 L92.16 306.77 L92.64 306.35 L93.12 305.93 L93.6 305.52 L94.08 305.11 L94.56 304.71 L95.04 304.31 L95.52 303.92 L96 303.53 L96.48 303.15 L96.96 302.77 L97.44 302.39 L97.92 302.02 L98.4 301.66 L98.88 301.3 L99.36 300.94 L99.84 300.59 L100.32 300.24 L100.8 299.9 L101.28 299.56 L101.76 299.23 L102.24 298.89 L102.72 298.57 L103.2 298.24 L103.68 297.92 L104.16 297.61 L104.64 297.29 L105.12 296.99 L105.6 296.68 L106.08 296.38 L106.56 296.08 L107.03 295.78 L107.51 295.49 L107.99 295.2 L108.47 294.92 L108.95 294.64 L109.43 294.36 L109.91 294.08 L110.39 293.81 L110.87 293.54 L111.35 293.28 L111.83 293.01 L112.31 292.75 L112.79 292.5 L113.27 292.24 L113.75 291.99 L114.23 291.74 L114.71 291.49 L115.19 291.25 L115.67 291.01 L116.15 290.77 L116.63 290.54 L117.11 290.3 L117.59 290.07 L118.07 289.85 L118.55 289.62 L119.03 289.4 L119.51 289.18 L119.99 288.96 L120.47 288.75 L120.95 288.53 L121.43 288.32 L121.91 288.11 L122.39 287.91 L122.87 287.7 L123.35 287.5 L123.83 287.3 L124.31 287.1 L124.79 286.91 L125.27 286.72 L125.75 286.52 L126.23 286.34 L126.71 286.15 L127.19 285.96 L127.67 285.78 L128.15 285.6 L128.63 285.42 L129.11 285.24 L129.59 285.07 L130.07 284.9 L130.55 284.72 L131.03 284.55 L131.51 284.39 L131.99 284.22 L132.47 284.06 L132.95 283.89 L133.43 283.73 L133.91 283.57 L134.39 283.42 L134.87 283.26 L135.35 283.11 L135.83 282.95 L136.31 282.8 L136.79 282.65 L137.27 282.51 L137.75 282.36 L138.23 282.22 L138.71 282.07 L139.18 281.93 L139.66 281.79 L140.14 281.65 L140.62 281.52 L141.1 281.38 L141.58 281.25 L142.06 281.11 L142.54 280.98 L143.02 280.85 L143.5 280.72 L143.98 280.6 L144.46 280.47 L144.94 280.35 L145.42 280.22 L145.9 280.1 L146.38 279.98 L146.86 279.86 L147.34 279.74 L147.82 279.63 L148.3 279.51 L148.78 279.4 L149.26 279.28 L149.74 279.17 L150.22 279.06 L150.7 278.95 L151.18 278.84 L151.66 278.74 L152.14 278.63 L152.62 278.52 L153.1 278.42 L153.58 278.32 L154.06 278.22 L154.54 278.12 L155.02 278.02 L155.5 277.92 L155.98 277.82 L156.46 277.72 L156.94 277.63 L157.42 277.53 L157.9 277.44 L158.38 277.35 L158.86 277.25 L159.34 277.16 L159.82 277.07 L160.3 276.98 L160.78 276.9 L161.26 276.81 L161.74 276.72 L162.22 276.64 L162.7 276.55 L163.18 276.47 L163.66 276.39 L164.14 276.31 L164.62 276.23 L165.1 276.15 L165.58 276.07 L166.06 275.99 L166.54 275.91 L167.02 275.83 L167.5 275.76 L167.98 275.68 L168.46 275.61 L168.94 275.54 L169.42 275.46 L169.9 275.39 L170.38 275.32 L170.86 275.25 L171.33 275.18 L171.81 275.11 L172.29 275.04 L172.77 274.97 L173.25 274.91 L173.73 274.84 L174.21 274.78 L174.69 274.71 L175.17 274.65 L175.65 274.58 L176.13 274.52 L176.61 274.46 L177.09 274.4 L177.57 274.34 L178.05 274.28 L178.53 274.22 L179.01 274.16 L179.49 274.1 L179.97 274.04 L180.45 273.98 L180.93 273.93 L181.41 273.87 L181.89 273.82 L182.37 273.76 L182.85 273.71 L183.33 273.65 L183.81 273.6 L184.29 273.55 L184.77 273.5 L185.25 273.44 L185.73 273.39 L186.21 273.34 L186.69 273.29 L187.17 273.24 L187.65 273.19 L188.13 273.15 L188.61 273.1 L189.09 273.05 L189.57 273 L190.05 272.96 L190.53 272.91 L191.01 272.87 L191.49 272.82 L191.97 272.78 L192.45 272.73 L192.93 272.69 L193.41 272.65 L193.89 272.6 L194.37 272.56 L194.85 272.52 L195.33 272.48 L195.81 272.44 L196.29 272.4 L196.77 272.36 L197.25 272.32 L197.73 272.28 L198.21 272.24 L198.69 272.2 L199.17 272.16 L199.65 272.12 L200.13 272.09 L200.61 272.05 L201.09 272.01 L201.57 271.98 L202.05 271.94 L202.53 271.91 L203 271.87" fill="none" stroke="#ff00ff" stroke-width="1.4" stroke-linejoin="round" stroke-linecap="butt" stroke-dasharray="3.75 1.05" stroke-opacity="0.68"/>
<path d="M59.05 357.5 L59.53 356.01 L60.01 354.67 L60.49 353.46 L60.97 352.34 L61.45 351.29 L61.93 350.3 L62.41 349.35 L62.89 348.43 L63.37 347.54 L63.85 346.67 L64.33 345.83 L64.81 345 L65.29 344.18 L65.77 343.38 L66.25 342.59 L66.73 341.82 L67.21 341.05 L67.69 340.29 L68.17 339.54 L68.65 338.8 L69.13 338.07 L69.61 337.35 L70.09 336.64 L70.57 335.94 L71.05 335.24 L71.53 334.55 L72.01 333.87 L72.49 333.2 L72.97 332.54 L73.45 331.88 L73.93 331.23 L74.41 330.59 L74.89 329.96 L75.36 329.33 L75.84 328.71 L76.32 328.1 L76.8 327.49 L77.28 326.89 L77.76 326.3 L78.24 325.72 L78.72 325.14 L79.2 324.57 L79.68 324 L80.16 323.44 L80.64 322.89 L81.12 322.34 L81.6 321.8 L82.08 321.27 L82.56 320.74 L83.04 320.22 L83.52 319.7 L84 319.19 L84.48 318.69 L84.96 318.19 L85.44 317.69 L85.92 317.21 L86.4 316.72 L86.88 316.25 L87.36 315.78 L87.84 315.31 L88.32 314.85 L88.8 314.39 L89.28 313.94 L89.76 313.5 L90.24 313.06 L90.72 312.62 L91.2 312.19 L91.68 311.76 L92.16 311.34 L92.64 310.93 L93.12 310.52 L93.6 310.11 L94.08 309.71 L94.56 309.31 L95.04 308.91 L95.52 308.52 L96 308.14 L96.48 307.76 L96.96 307.38 L97.44 307.01 L97.92 306.64 L98.4 306.28 L98.88 305.92 L99.36 305.56 L99.84 305.21 L100.32 304.86 L100.8 304.51 L101.28 304.17 L101.76 303.84 L102.24 303.5 L102.72 303.17 L103.2 302.85 L103.68 302.53 L104.16 302.21 L104.64 301.89 L105.12 301.58 L105.6 301.27 L106.08 300.97 L106.56 300.66 L107.03 300.37 L107.51 300.07 L107.99 299.78 L108.47 299.49 L108.95 299.2 L109.43 298.92 L109.91 298.64 L110.39 298.37 L110.87 298.09 L111.35 297.82 L111.83 297.55 L112.31 297.29 L112.79 297.03 L113.27 296.77 L113.75 296.51 L114.23 296.26 L114.71 296.01 L115.19 295.76 L115.67 295.52 L116.15 295.27 L116.63 295.03 L117.11 294.8 L117.59 294.56 L118.07 294.33 L118.55 294.1 L119.03 293.87 L119.51 293.65 L119.99 293.42 L120.47 293.2 L120.95 292.99 L121.43 292.77 L121.91 292.56 L122.39 292.35 L122.87 292.14 L123.35 291.93 L123.83 291.73 L124.31 291.53 L124.79 291.33 L125.27 291.13 L125.75 290.93 L126.23 290.74 L126.71 290.55 L127.19 290.36 L127.67 290.17 L128.15 289.99 L128.63 289.8 L129.11 289.62 L129.59 289.44 L130.07 289.26 L130.55 289.09 L131.03 288.91 L131.51 288.74 L131.99 288.57 L132.47 288.4 L132.95 288.23 L133.43 288.07 L133.91 287.91 L134.39 287.74 L134.87 287.58 L135.35 287.43 L135.83 287.27 L136.31 287.11 L136.79 286.96 L137.27 286.81 L137.75 286.66 L138.23 286.51 L138.71 286.36 L139.18 286.22 L139.66 286.07 L140.14 285.93 L140.62 285.79 L141.1 285.65 L141.58 285.51 L142.06 285.37 L142.54 285.24 L143.02 285.1 L143.5 284.97 L143.98 284.84 L144.46 284.71 L144.94 284.58 L145.42 284.45 L145.9 284.33 L146.38 284.2 L146.86 284.08 L147.34 283.96 L147.82 283.84 L148.3 283.72 L148.78 283.6 L149.26 283.48 L149.74 283.36 L150.22 283.25 L150.7 283.14 L151.18 283.02 L151.66 282.91 L152.14 282.8 L152.62 282.69 L153.1 282.58 L153.58 282.48 L154.06 282.37 L154.54 282.27 L155.02 282.16 L155.5 282.06 L155.98 281.96 L156.46 281.86 L156.94 281.76 L157.42 281.66 L157.9 281.56 L158.38 281.46 L158.86 281.37 L159.34 281.27 L159.82 281.18 L160.3 281.09 L160.78 280.99 L161.26 280.9 L161.74 280.81 L162.22 280.72 L162.7 280.63 L163.18 280.55 L163.66 280.46 L164.14 280.37 L164.62 280.29 L165.1 280.2 L165.58 280.12 L166.06 280.04 L166.54 279.96 L167.02 279.88 L167.5 279.8 L167.98 279.72 L168.46 279.64 L168.94 279.56 L169.42 279.48 L169.9 279.41 L170.38 279.33 L170.86 279.26 L171.33 279.18 L171.81 279.11 L172.29 279.04 L172.77 278.96 L173.25 278.89 L173.73 278.82 L174.21 278.75 L174.69 278.68 L175.17 278.61 L175.65 278.55 L176.13 278.48 L176.61 278.41 L177.09 278.35 L177.57 278.28 L178.05 278.22 L178.53 278.15 L179.01 278.09 L179.49 278.02 L179.97 277.96 L180.45 277.9 L180.93 277.84 L181.41 277.78 L181.89 277.72 L182.37 277.66 L182.85 277.6 L183.33 277.54 L183.81 277.49 L184.29 277.43 L184.77 277.37 L185.25 277.32 L185.73 277.26 L186.21 277.2 L186.69 277.15 L187.17 277.1 L187.65 277.04 L188.13 276.99 L188.61 276.94 L189.09 276.88 L189.57 276.83 L190.05 276.78 L190.53 276.73 L191.01 276.68 L191.49 276.63 L191.97 276.58 L192.45 276.53 L192.93 276.49 L193.41 276.44 L193.89 276.39 L194.37 276.34 L194.85 276.3 L195.33 276.25 L195.81 276.21 L196.29 276.16 L196.77 276.12 L197.25 276.07 L197.73 276.03 L198.21 275.98 L198.69 275.94 L199.17 275.9 L199.65 275.85 L200.13 275.81 L200.61 275.77 L201.09 275.73 L201.57 275.69 L202.05 275.65 L202.53 275.61 L203 275.57" fill="none" stroke="#00ff00" stroke-width="2.05" stroke-linecap="round" stroke-dasharray="0.15 2.8" stroke-dashoffset="-1.6"/>
<path d="M59.05 357.5 L59.53 356.53 L60.01 355.57 L60.49 354.62 L60.97 353.69 L61.45 352.78 L61.93 351.88 L62.41 350.99 L62.89 350.11 L63.37 349.25 L63.85 348.4 L64.33 347.56 L64.81 346.73 L65.29 345.92 L65.77 345.12 L66.25 344.33 L66.73 343.55 L67.21 342.78 L67.69 342.02 L68.17 341.27 L68.65 340.54 L69.13 339.81 L69.61 339.1 L70.09 338.39 L70.57 337.7 L71.05 337.01 L71.53 336.33 L72.01 335.66 L72.49 335.01 L72.97 334.36 L73.45 333.72 L73.93 333.08 L74.41 332.46 L74.89 331.85 L75.36 331.24 L75.84 330.64 L76.32 330.05 L76.8 329.47 L77.28 328.89 L77.76 328.32 L78.24 327.76 L78.72 327.21 L79.2 326.67 L79.68 326.13 L80.16 325.59 L80.64 325.07 L81.12 324.55 L81.6 324.04 L82.08 323.54 L82.56 323.04 L83.04 322.55 L83.52 322.06 L84 321.58 L84.48 321.11 L84.96 320.64 L85.44 320.18 L85.92 319.72 L86.4 319.27 L86.88 318.82 L87.36 318.39 L87.84 317.95 L88.32 317.52 L88.8 317.1 L89.28 316.68 L89.76 316.27 L90.24 315.86 L90.72 315.46 L91.2 315.06 L91.68 314.66 L92.16 314.28 L92.64 313.89 L93.12 313.51 L93.6 313.14 L94.08 312.77 L94.56 312.4 L95.04 312.04 L95.52 311.68 L96 311.33 L96.48 310.98 L96.96 310.63 L97.44 310.29 L97.92 309.95 L98.4 309.62 L98.88 309.29 L99.36 308.97 L99.84 308.64 L100.32 308.32 L100.8 308.01 L101.28 307.7 L101.76 307.39 L102.24 307.09 L102.72 306.79 L103.2 306.49 L103.68 306.2 L104.16 305.91 L104.64 305.62 L105.12 305.34 L105.6 305.05 L106.08 304.78 L106.56 304.5 L107.03 304.23 L107.51 303.96 L107.99 303.7 L108.47 303.44 L108.95 303.18 L109.43 302.92 L109.91 302.67 L110.39 302.41 L110.87 302.17 L111.35 301.92 L111.83 301.68 L112.31 301.44 L112.79 301.2 L113.27 300.96 L113.75 300.73 L114.23 300.5 L114.71 300.27 L115.19 300.05 L115.67 299.83 L116.15 299.61 L116.63 299.39 L117.11 299.17 L117.59 298.96 L118.07 298.75 L118.55 298.54 L119.03 298.33 L119.51 298.13 L119.99 297.93 L120.47 297.73 L120.95 297.53 L121.43 297.34 L121.91 297.14 L122.39 296.95 L122.87 296.76 L123.35 296.57 L123.83 296.39 L124.31 296.2 L124.79 296.02 L125.27 295.84 L125.75 295.66 L126.23 295.49 L126.71 295.31 L127.19 295.14 L127.67 294.97 L128.15 294.8 L128.63 294.64 L129.11 294.47 L129.59 294.31 L130.07 294.14 L130.55 293.98 L131.03 293.83 L131.51 293.67 L131.99 293.51 L132.47 293.36 L132.95 293.21 L133.43 293.06 L133.91 292.91 L134.39 292.76 L134.87 292.61 L135.35 292.47 L135.83 292.33 L136.31 292.18 L136.79 292.04 L137.27 291.91 L137.75 291.77 L138.23 291.63 L138.71 291.5 L139.18 291.36 L139.66 291.23 L140.14 291.1 L140.62 290.97 L141.1 290.85 L141.58 290.72 L142.06 290.59 L142.54 290.47 L143.02 290.35 L143.5 290.23 L143.98 290.11 L144.46 289.99 L144.94 289.87 L145.42 289.75 L145.9 289.64 L146.38 289.52 L146.86 289.41 L147.34 289.3 L147.82 289.19 L148.3 289.08 L148.78 288.97 L149.26 288.86 L149.74 288.75 L150.22 288.65 L150.7 288.54 L151.18 288.44 L151.66 288.34 L152.14 288.23 L152.62 288.13 L153.1 288.04 L153.58 287.94 L154.06 287.84 L154.54 287.74 L155.02 287.65 L155.5 287.55 L155.98 287.46 L156.46 287.37 L156.94 287.27 L157.42 287.18 L157.9 287.09 L158.38 287 L158.86 286.92 L159.34 286.83 L159.82 286.74 L160.3 286.66 L160.78 286.57 L161.26 286.49 L161.74 286.4 L162.22 286.32 L162.7 286.24 L163.18 286.16 L163.66 286.08 L164.14 286 L164.62 285.92 L165.1 285.85 L165.58 285.77 L166.06 285.69 L166.54 285.62 L167.02 285.54 L167.5 285.47 L167.98 285.4 L168.46 285.32 L168.94 285.25 L169.42 285.18 L169.9 285.11 L170.38 285.04 L170.86 284.97 L171.33 284.9 L171.81 284.84 L172.29 284.77 L172.77 284.7 L173.25 284.64 L173.73 284.57 L174.21 284.51 L174.69 284.44 L175.17 284.38 L175.65 284.32 L176.13 284.26 L176.61 284.19 L177.09 284.13 L177.57 284.07 L178.05 284.01 L178.53 283.95 L179.01 283.9 L179.49 283.84 L179.97 283.78 L180.45 283.72 L180.93 283.67 L181.41 283.61 L181.89 283.56 L182.37 283.5 L182.85 283.45 L183.33 283.4 L183.81 283.34 L184.29 283.29 L184.77 283.24 L185.25 283.19 L185.73 283.14 L186.21 283.08 L186.69 283.03 L187.17 282.99 L187.65 282.94 L188.13 282.89 L188.61 282.84 L189.09 282.79 L189.57 282.74 L190.05 282.7 L190.53 282.65 L191.01 282.61 L191.49 282.56 L191.97 282.52 L192.45 282.47 L192.93 282.43 L193.41 282.38 L193.89 282.34 L194.37 282.3 L194.85 282.25 L195.33 282.21 L195.81 282.17 L196.29 282.13 L196.77 282.09 L197.25 282.05 L197.73 282.01 L198.21 281.97 L198.69 281.93 L199.17 281.89 L199.65 281.85 L200.13 281.81 L200.61 281.78 L201.09 281.74 L201.57 281.7 L202.05 281.67 L202.53 281.63 L203 281.59" fill="none" stroke="#ff0000" stroke-width="1.9" stroke-linejoin="round" stroke-linecap="butt"/>
<path d="M59.05 266H203V366.5H59.05ZM59.05 366.5v-3.2M59.05 266v3.2M107.03 366.5v-3.2M107.03 266v3.2M155.02 366.5v-3.2M155.02 266v3.2M203 366.5v-3.2M203 266v3.2M59.05 266h3.2M203 266h-3.2M59.05 284.3h3.2M203 284.3h-3.2M59.05 302.6h3.2M203 302.6h-3.2M59.05 320.9h3.2M203 320.9h-3.2M59.05 339.2h3.2M203 339.2h-3.2M59.05 357.5h3.2M203 357.5h-3.2" fill="none" stroke="#000" stroke-width="0.8"/>
<text x="57.41" y="382.7" font-size="12">0</text>
<text x="100.39" y="382.7" font-size="12">0.5</text>
<path transform="translate(153.38 382.7) scale(0.005859 -0.005859)" d="M515 0V1237L197 1010V1180L530 1409H696V0Z"/>
<path transform="translate(196.36 382.7) scale(0.005859 -0.005859)" d="M515 0V1237L197 1010V1180L530 1409H696V0Z"/><text x="203.04" y="382.7" font-size="12">.5</text>
<text x="45.38" y="269.7" font-size="12">0</text>
<text x="31.37" y="288" font-size="12">-0.</text><path transform="translate(45.38 288) scale(0.005859 -0.005859)" d="M515 0V1237L197 1010V1180L530 1409H696V0Z"/>
<text x="31.37" y="306.3" font-size="12">-0.2</text>
<text x="31.37" y="324.6" font-size="12">-0.3</text>
<text x="31.37" y="342.9" font-size="12">-0.4</text>
<text x="31.37" y="361.2" font-size="12">-0.5</text>
<path d="M258.4 355.5a2.1 2.1 0 1 0 4.2 0a2.1 2.1 0 1 0 -4.2 0M264.16 348.89a2.1 2.1 0 1 0 4.2 0a2.1 2.1 0 1 0 -4.2 0M269.92 342.74a2.1 2.1 0 1 0 4.2 0a2.1 2.1 0 1 0 -4.2 0M275.68 337.02a2.1 2.1 0 1 0 4.2 0a2.1 2.1 0 1 0 -4.2 0M281.44 331.68a2.1 2.1 0 1 0 4.2 0a2.1 2.1 0 1 0 -4.2 0M287.2 326.7a2.1 2.1 0 1 0 4.2 0a2.1 2.1 0 1 0 -4.2 0M292.96 322.05a2.1 2.1 0 1 0 4.2 0a2.1 2.1 0 1 0 -4.2 0M298.72 317.71a2.1 2.1 0 1 0 4.2 0a2.1 2.1 0 1 0 -4.2 0M304.48 313.64a2.1 2.1 0 1 0 4.2 0a2.1 2.1 0 1 0 -4.2 0M310.24 309.83a2.1 2.1 0 1 0 4.2 0a2.1 2.1 0 1 0 -4.2 0M316 306.25a2.1 2.1 0 1 0 4.2 0a2.1 2.1 0 1 0 -4.2 0M321.76 302.9a2.1 2.1 0 1 0 4.2 0a2.1 2.1 0 1 0 -4.2 0M327.52 299.75a2.1 2.1 0 1 0 4.2 0a2.1 2.1 0 1 0 -4.2 0M333.28 296.79a2.1 2.1 0 1 0 4.2 0a2.1 2.1 0 1 0 -4.2 0M339.04 294.01a2.1 2.1 0 1 0 4.2 0a2.1 2.1 0 1 0 -4.2 0M344.8 291.39a2.1 2.1 0 1 0 4.2 0a2.1 2.1 0 1 0 -4.2 0M350.56 288.93a2.1 2.1 0 1 0 4.2 0a2.1 2.1 0 1 0 -4.2 0M356.32 286.61a2.1 2.1 0 1 0 4.2 0a2.1 2.1 0 1 0 -4.2 0M362.08 284.42a2.1 2.1 0 1 0 4.2 0a2.1 2.1 0 1 0 -4.2 0M367.84 282.36a2.1 2.1 0 1 0 4.2 0a2.1 2.1 0 1 0 -4.2 0M373.6 280.41a2.1 2.1 0 1 0 4.2 0a2.1 2.1 0 1 0 -4.2 0M379.36 278.57a2.1 2.1 0 1 0 4.2 0a2.1 2.1 0 1 0 -4.2 0M385.12 276.84a2.1 2.1 0 1 0 4.2 0a2.1 2.1 0 1 0 -4.2 0M390.88 275.2a2.1 2.1 0 1 0 4.2 0a2.1 2.1 0 1 0 -4.2 0M396.64 273.65a2.1 2.1 0 1 0 4.2 0a2.1 2.1 0 1 0 -4.2 0M402.4 272.19a2.1 2.1 0 1 0 4.2 0a2.1 2.1 0 1 0 -4.2 0" fill="#0000ff"/>
<path d="M260.5 355.5 L261.22 354.62 L261.94 353.75 L262.66 352.89 L263.38 352.03 L264.1 351.18 L264.82 350.34 L265.54 349.51 L266.26 348.69 L266.98 347.87 L267.7 347.06 L268.42 346.26 L269.14 345.46 L269.86 344.68 L270.58 343.9 L271.3 343.12 L272.02 342.36 L272.74 341.59 L273.46 340.84 L274.18 340.09 L274.9 339.35 L275.62 338.62 L276.34 337.89 L277.06 337.17 L277.78 336.46 L278.5 335.75 L279.22 335.04 L279.94 334.35 L280.66 333.66 L281.38 332.97 L282.1 332.29 L282.82 331.62 L283.54 330.95 L284.26 330.29 L284.98 329.63 L285.7 328.98 L286.42 328.33 L287.14 327.69 L287.86 327.06 L288.58 326.43 L289.3 325.8 L290.02 325.19 L290.74 324.57 L291.46 323.96 L292.18 323.36 L292.9 322.76 L293.62 322.16 L294.34 321.58 L295.06 320.99 L295.78 320.41 L296.5 319.84 L297.22 319.27 L297.94 318.7 L298.66 318.14 L299.38 317.58 L300.1 317.03 L300.82 316.48 L301.54 315.94 L302.26 315.4 L302.98 314.86 L303.7 314.33 L304.42 313.81 L305.14 313.29 L305.86 312.77 L306.58 312.26 L307.3 311.75 L308.02 311.24 L308.74 310.74 L309.46 310.24 L310.18 309.75 L310.9 309.26 L311.62 308.78 L312.34 308.29 L313.06 307.82 L313.78 307.34 L314.5 306.87 L315.22 306.41 L315.94 305.94 L316.66 305.48 L317.38 305.03 L318.1 304.58 L318.82 304.13 L319.54 303.68 L320.26 303.24 L320.98 302.8 L321.7 302.37 L322.42 301.94 L323.14 301.51 L323.86 301.09 L324.58 300.67 L325.3 300.25 L326.02 299.84 L326.74 299.43 L327.46 299.02 L328.18 298.61 L328.9 298.21 L329.62 297.81 L330.34 297.42 L331.06 297.03 L331.78 296.64 L332.5 296.25 L333.22 295.87 L333.94 295.49 L334.66 295.11 L335.38 294.74 L336.1 294.37 L336.82 294 L337.54 293.64 L338.26 293.27 L338.98 292.91 L339.7 292.56 L340.42 292.2 L341.14 291.85 L341.86 291.5 L342.58 291.16 L343.3 290.82 L344.02 290.48 L344.74 290.14 L345.46 289.8 L346.18 289.47 L346.9 289.14 L347.62 288.81 L348.34 288.49 L349.06 288.17 L349.78 287.85 L350.5 287.53 L351.22 287.22 L351.94 286.9 L352.66 286.59 L353.38 286.29 L354.1 285.98 L354.82 285.68 L355.54 285.38 L356.26 285.08 L356.98 284.78 L357.7 284.49 L358.42 284.2 L359.14 283.91 L359.86 283.63 L360.58 283.34 L361.3 283.06 L362.02 282.78 L362.74 282.5 L363.46 282.23 L364.18 281.95 L364.9 281.68 L365.62 281.41 L366.34 281.15 L367.06 280.88 L367.78 280.62 L368.5 280.36 L369.22 280.1 L369.94 279.84 L370.66 279.59 L371.38 279.33 L372.1 279.08 L372.82 278.83 L373.54 278.59 L374.26 278.34 L374.98 278.1 L375.7 277.86 L376.42 277.62 L377.14 277.38 L377.86 277.14 L378.58 276.91 L379.3 276.68 L380.02 276.45 L380.74 276.22 L381.46 275.99 L382.18 275.77 L382.9 275.54 L383.62 275.32 L384.34 275.1 L385.06 274.88 L385.78 274.67 L386.5 274.45 L387.22 274.24 L387.94 274.03 L388.66 273.82 L389.38 273.61 L390.1 273.4 L390.82 273.2 L391.54 272.99 L392.26 272.79 L392.98 272.59 L393.7 272.39 L394.42 272.2 L395.14 272 L395.86 271.81 L396.58 271.61 L397.3 271.42 L398.02 271.23 L398.74 271.04 L399.46 270.86 L400.18 270.67 L400.9 270.49 L401.62 270.31 L402.34 270.12 L403.06 269.94 L403.78 269.77 L404.5 269.59" fill="none" stroke="#ff00ff" stroke-width="2.2" stroke-opacity="0.55"/>
<path d="M260.5 355.5 L261.22 354.65 L261.94 353.8 L262.66 352.96 L263.38 352.13 L264.1 351.31 L264.82 350.5 L265.54 349.69 L266.26 348.89 L266.98 348.09 L267.7 347.31 L268.42 346.53 L269.14 345.76 L269.86 344.99 L270.58 344.23 L271.3 343.48 L272.02 342.74 L272.74 342 L273.46 341.27 L274.18 340.54 L274.9 339.83 L275.62 339.11 L276.34 338.41 L277.06 337.71 L277.78 337.02 L278.5 336.33 L279.22 335.65 L279.94 334.97 L280.66 334.3 L281.38 333.64 L282.1 332.98 L282.82 332.33 L283.54 331.68 L284.26 331.04 L284.98 330.4 L285.7 329.77 L286.42 329.15 L287.14 328.53 L287.86 327.92 L288.58 327.31 L289.3 326.7 L290.02 326.1 L290.74 325.51 L291.46 324.92 L292.18 324.34 L292.9 323.76 L293.62 323.19 L294.34 322.62 L295.06 322.05 L295.78 321.49 L296.5 320.94 L297.22 320.39 L297.94 319.84 L298.66 319.3 L299.38 318.77 L300.1 318.23 L300.82 317.71 L301.54 317.18 L302.26 316.66 L302.98 316.15 L303.7 315.64 L304.42 315.13 L305.14 314.63 L305.86 314.13 L306.58 313.64 L307.3 313.15 L308.02 312.66 L308.74 312.18 L309.46 311.7 L310.18 311.23 L310.9 310.76 L311.62 310.29 L312.34 309.83 L313.06 309.37 L313.78 308.91 L314.5 308.46 L315.22 308.01 L315.94 307.57 L316.66 307.12 L317.38 306.69 L318.1 306.25 L318.82 305.82 L319.54 305.39 L320.26 304.97 L320.98 304.55 L321.7 304.13 L322.42 303.72 L323.14 303.31 L323.86 302.9 L324.58 302.5 L325.3 302.09 L326.02 301.7 L326.74 301.3 L327.46 300.91 L328.18 300.52 L328.9 300.13 L329.62 299.75 L330.34 299.37 L331.06 298.99 L331.78 298.62 L332.5 298.25 L333.22 297.88 L333.94 297.52 L334.66 297.15 L335.38 296.79 L336.1 296.44 L336.82 296.08 L337.54 295.73 L338.26 295.38 L338.98 295.03 L339.7 294.69 L340.42 294.35 L341.14 294.01 L341.86 293.67 L342.58 293.34 L343.3 293.01 L344.02 292.68 L344.74 292.36 L345.46 292.03 L346.18 291.71 L346.9 291.39 L347.62 291.08 L348.34 290.76 L349.06 290.45 L349.78 290.14 L350.5 289.84 L351.22 289.53 L351.94 289.23 L352.66 288.93 L353.38 288.63 L354.1 288.34 L354.82 288.04 L355.54 287.75 L356.26 287.46 L356.98 287.17 L357.7 286.89 L358.42 286.61 L359.14 286.33 L359.86 286.05 L360.58 285.77 L361.3 285.5 L362.02 285.22 L362.74 284.95 L363.46 284.69 L364.18 284.42 L364.9 284.15 L365.62 283.89 L366.34 283.63 L367.06 283.37 L367.78 283.11 L368.5 282.86 L369.22 282.61 L369.94 282.36 L370.66 282.11 L371.38 281.86 L372.1 281.61 L372.82 281.37 L373.54 281.13 L374.26 280.88 L374.98 280.65 L375.7 280.41 L376.42 280.17 L377.14 279.94 L377.86 279.71 L378.58 279.48 L379.3 279.25 L380.02 279.02 L380.74 278.8 L381.46 278.57 L382.18 278.35 L382.9 278.13 L383.62 277.91 L384.34 277.69 L385.06 277.48 L385.78 277.26 L386.5 277.05 L387.22 276.84 L387.94 276.63 L388.66 276.42 L389.38 276.21 L390.1 276.01 L390.82 275.8 L391.54 275.6 L392.26 275.4 L392.98 275.2 L393.7 275 L394.42 274.8 L395.14 274.61 L395.86 274.41 L396.58 274.22 L397.3 274.03 L398.02 273.84 L398.74 273.65 L399.46 273.46 L400.18 273.28 L400.9 273.09 L401.62 272.91 L402.34 272.73 L403.06 272.54 L403.78 272.36 L404.5 272.19" fill="none" stroke="#ff0000" stroke-width="1.9" stroke-linejoin="round" stroke-linecap="butt"/>
<path d="M260.5 266H404.5V366.5H260.5ZM260.5 366.5v-3.2M260.5 266v3.2M289.3 366.5v-3.2M289.3 266v3.2M318.1 366.5v-3.2M318.1 266v3.2M346.9 366.5v-3.2M346.9 266v3.2M375.7 366.5v-3.2M375.7 266v3.2M404.5 366.5v-3.2M404.5 266v3.2M260.5 266h3.2M404.5 266h-3.2M260.5 288.38h3.2M404.5 288.38h-3.2M260.5 310.75h3.2M404.5 310.75h-3.2M260.5 333.12h3.2M404.5 333.12h-3.2M260.5 355.5h3.2M404.5 355.5h-3.2" fill="none" stroke="#000" stroke-width="0.8"/>
<text x="258.86" y="382.7" font-size="12">0</text>
<text x="282.66" y="382.7" font-size="12">0.</text><path transform="translate(292.67 382.7) scale(0.005859 -0.005859)" d="M515 0V1237L197 1010V1180L530 1409H696V0Z"/>
<text x="311.46" y="382.7" font-size="12">0.2</text>
<text x="340.26" y="382.7" font-size="12">0.3</text>
<text x="369.06" y="382.7" font-size="12">0.4</text>
<text x="397.86" y="382.7" font-size="12">0.5</text>
<text x="232.82" y="269.7" font-size="12">-0.</text><path transform="translate(246.83 269.7) scale(0.005859 -0.005859)" d="M515 0V1237L197 1010V1180L530 1409H696V0Z"/>
<text x="232.82" y="292.07" font-size="12">-0.2</text>
<text x="232.82" y="314.45" font-size="12">-0.3</text>
<text x="232.82" y="336.82" font-size="12">-0.4</text>
<text x="232.82" y="359.2" font-size="12">-0.5</text>
<rect x="169.5" y="143.8" width="72.5" height="71.8" fill="#fff"/>
<rect x="173.1" y="148.4" width="65.4" height="61.1" fill="none" stroke="#000" stroke-width="0.9"/>
<text x="176.3" y="160" font-size="13">NCA</text>
<text x="176.3" y="175.3" font-size="13">OCA</text>
<text x="176.3" y="190.75" font-size="13">3rd</text><text x="198.7" y="190.75" font-size="13">o.</text>
<text x="176.3" y="205.8" font-size="13">QMC</text>
<path d="M211.1 155.8H230.5" stroke="#ff00ff" stroke-width="1.3" stroke-dasharray="3.0 0.93" fill="none"/>
<path d="M211.6 171.2H230.5" stroke="#00ff00" stroke-width="1.9" stroke-dasharray="1.9 1.36" fill="none"/>
<path d="M211.3 186.5H230.4" stroke="#ff0000" stroke-width="1.9" fill="none"/>
<circle cx="221.6" cy="202.0" r="2.2" fill="#0000ff"/>
<text x="69.1" y="37.8" font-size="12">(a)</text><text x="87.1" y="37.8" font-size="12">U=4.5,</text><text x="126.36" y="37.8" font-size="12" style="font-family:'Liberation Serif',serif">β</text><text x="132.71" y="37.8" font-size="12">=20</text>
<text x="270.4" y="37.8" font-size="12">(b)</text><text x="288.4" y="37.8" font-size="12">U=6,</text><text x="317.66" y="37.8" font-size="12" style="font-family:'Liberation Serif',serif">β</text><text x="324" y="37.8" font-size="12">=20</text>
<text x="88" y="350.2" font-size="12">(c)</text><text x="105.33" y="350.2" font-size="12">U=4.5,</text><text x="144.59" y="350.2" font-size="12" style="font-family:'Liberation Serif',serif">β</text><text x="150.94" y="350.2" font-size="12">=20</text>
<text x="289.2" y="350.2" font-size="12">(d)</text><text x="307.2" y="350.2" font-size="12">U=6,</text><text x="336.46" y="350.2" font-size="12" style="font-family:'Liberation Serif',serif">β</text><text x="342.8" y="350.2" font-size="12">=20</text>
<text x="128.54" y="249.4" font-size="12.72" style="font-family:'Liberation Serif',serif">τ</text>
<text x="330.24" y="249.4" font-size="12.72" style="font-family:'Liberation Serif',serif">τ</text>
<text x="128.54" y="400.5" font-size="12.72" style="font-family:'Liberation Serif',serif">τ</text>
<text x="330.24" y="400.5" font-size="12.72" style="font-family:'Liberation Serif',serif">τ</text>
<g transform="translate(28.1 114.8) rotate(-90)">
<text x="-29.43" y="0" font-size="12">log</text>
<path transform="translate(-13.41 3) scale(0.004687 -0.004687)" d="M515 0V1237L197 1010V1180L530 1409H696V0Z"/><text x="-8.07" y="3" font-size="9.6">0</text>
<text x="0.6" y="0" font-size="12">|G(</text><text x="17.12" y="0" font-size="12.72" style="font-family:'Liberation Serif',serif">τ</text><text x="22.31" y="0" font-size="12">)|</text>
</g>
<g transform="translate(229.7 90.1) rotate(-90)">
<text x="-29.43" y="0" font-size="12">log</text>
<path transform="translate(-13.41 3) scale(0.004687 -0.004687)" d="M515 0V1237L197 1010V1180L530 1409H696V0Z"/><text x="-8.07" y="3" font-size="9.6">0</text>
<text x="0.6" y="0" font-size="12">|G(</text><text x="17.12" y="0" font-size="12.72" style="font-family:'Liberation Serif',serif">τ</text><text x="22.31" y="0" font-size="12">)|</text>
</g>
<g transform="translate(22.4 316.3) rotate(-90)">
<text x="-11.3" y="0" font-size="12">G(</text><text x="2.11" y="0" font-size="12.72" style="font-family:'Liberation Serif',serif">τ</text><text x="7.3" y="0" font-size="12">)</text>
</g>
<g transform="translate(223.4 316.5) rotate(-90)">
<text x="-11.3" y="0" font-size="12">G(</text><text x="2.11" y="0" font-size="12.72" style="font-family:'Liberation Serif',serif">τ</text><text x="7.3" y="0" font-size="12">)</text>
</g>
</svg></body></html>
